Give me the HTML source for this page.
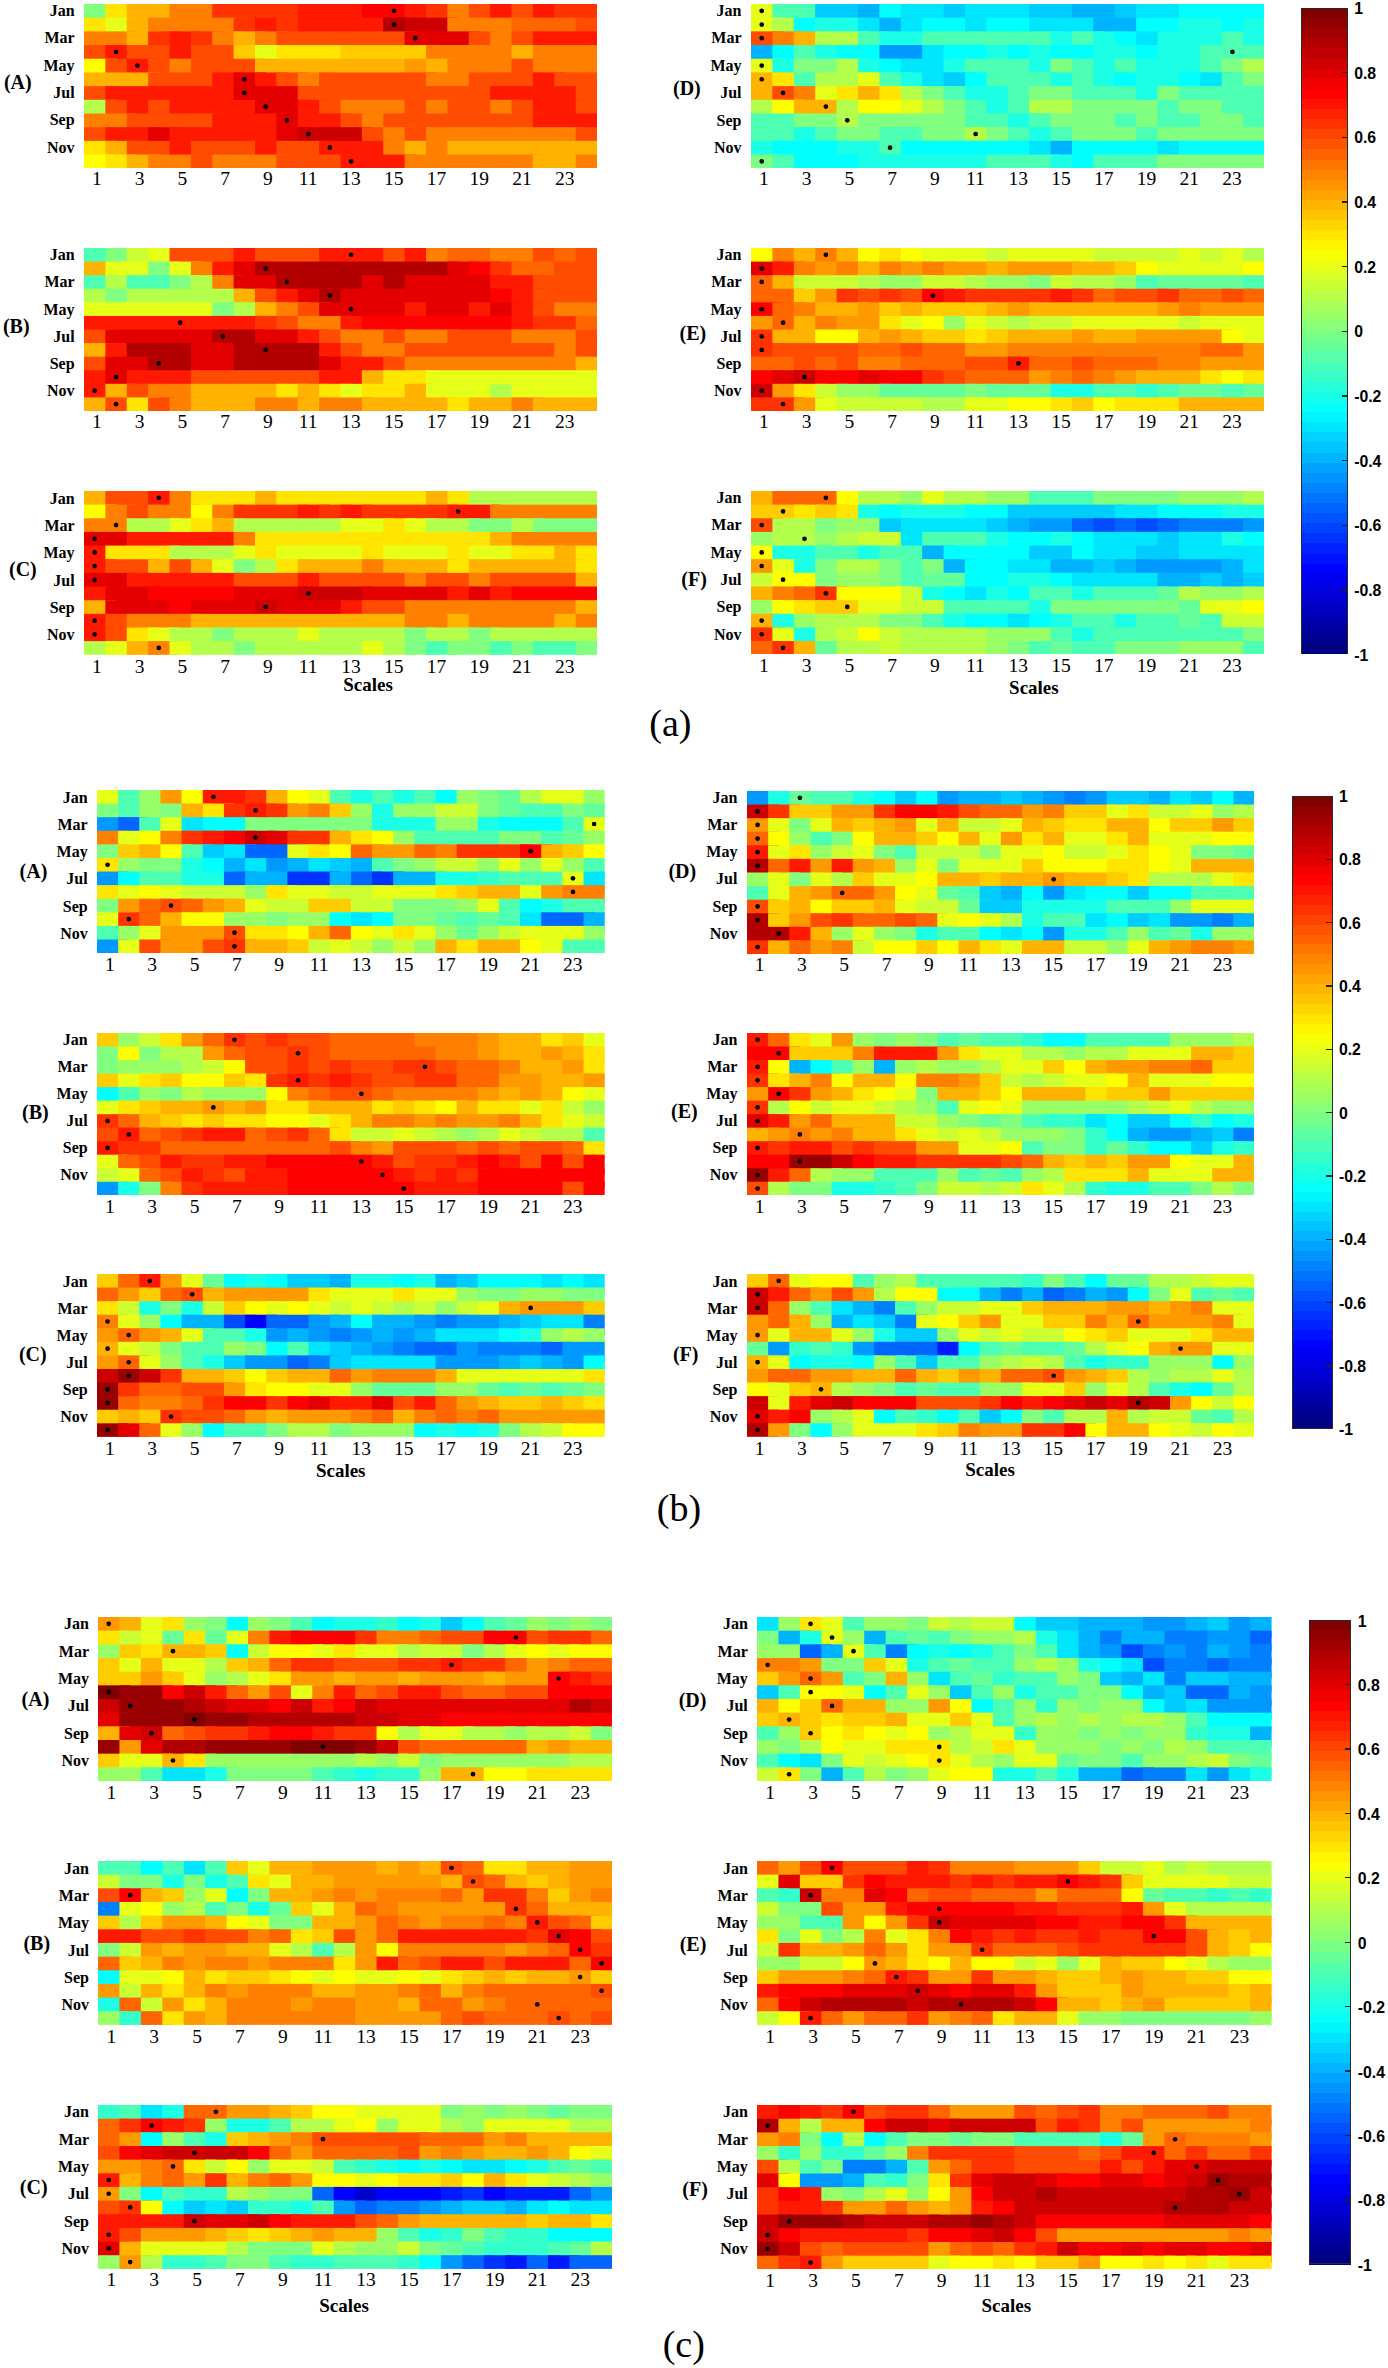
<!DOCTYPE html><html><head><meta charset="utf-8"><title>Heatmaps</title><style>
html,body{margin:0;padding:0;background:#fff;}
body{width:1388px;height:2368px;position:relative;overflow:hidden;}
.hm{position:absolute;display:block;}
.t{position:absolute;font-family:"Liberation Serif",serif;color:#000;white-space:nowrap;line-height:1;}
.mb{font-weight:bold;font-size:16px;}
.pl{font-weight:bold;font-size:20px;}
.tk{font-size:19.5px;}
.sc{font-weight:bold;font-size:19px;}
.big{font-size:38px;}
.cb{position:absolute;font-family:"Liberation Sans",sans-serif;font-weight:bold;font-size:15.8px;line-height:1;color:#000;white-space:nowrap;}
.v0{fill:#000080}.v1{fill:#000099}.v2{fill:#0000b2}.v3{fill:#0000cc}.v4{fill:#0000e5}.v5{fill:#0000ff}.v6{fill:#001aff}.v7{fill:#0033ff}.v8{fill:#004dff}.v9{fill:#0066ff}.v10{fill:#0080ff}.v11{fill:#0099ff}.v12{fill:#00b3ff}.v13{fill:#00ccff}.v14{fill:#00e6ff}.v15{fill:#00ffff}.v16{fill:#1affe5}.v17{fill:#33ffcc}.v18{fill:#4dffb2}.v19{fill:#66ff99}.v20{fill:#80ff80}.v21{fill:#99ff66}.v22{fill:#b3ff4c}.v23{fill:#ccff33}.v24{fill:#e6ff19}.v25{fill:#ffff00}.v26{fill:#ffe500}.v27{fill:#ffcc00}.v28{fill:#ffb200}.v29{fill:#ff9900}.v30{fill:#ff8000}.v31{fill:#ff6600}.v32{fill:#ff4c00}.v33{fill:#ff3300}.v34{fill:#ff1900}.v35{fill:#ff0000}.v36{fill:#e50000}.v37{fill:#cc0000}.v38{fill:#b20000}.v39{fill:#990000}.v40{fill:#800000}</style></head><body>
<svg class="hm" style="left:83.80px;top:3.50px;width:513.00px;height:164.25px" viewBox="0 0 24 12" preserveAspectRatio="none"><rect x="0" y="0" width="1.5" height="1.5" class="v20"/><rect x="1" y="0" width="1.5" height="1.5" class="v26"/><rect x="2" y="0" width="2.5" height="1.5" class="v28"/><rect x="4" y="0" width="2.5" height="1.5" class="v30"/><rect x="6" y="0" width="4.5" height="1.5" class="v33"/><rect x="10" y="0" width="3.5" height="1.5" class="v34"/><rect x="13" y="0" width="2.5" height="1.5" class="v35"/><rect x="15" y="0" width="1.5" height="1.5" class="v34"/><rect x="16" y="0" width="1.5" height="1.5" class="v33"/><rect x="17" y="0" width="1.5" height="1.5" class="v30"/><rect x="18" y="0" width="1.5" height="1.5" class="v32"/><rect x="19" y="0" width="1.5" height="1.5" class="v34"/><rect x="20" y="0" width="1.5" height="1.5" class="v32"/><rect x="21" y="0" width="1.5" height="1.5" class="v34"/><rect x="22" y="0" width="2" height="1.5" class="v33"/><rect x="0" y="1" width="1.5" height="1.5" class="v26"/><rect x="1" y="1" width="1.5" height="1.5" class="v24"/><rect x="2" y="1" width="1.5" height="1.5" class="v28"/><rect x="3" y="1" width="4.5" height="1.5" class="v30"/><rect x="7" y="1" width="1.5" height="1.5" class="v33"/><rect x="8" y="1" width="1.5" height="1.5" class="v34"/><rect x="9" y="1" width="1.5" height="1.5" class="v33"/><rect x="10" y="1" width="4.5" height="1.5" class="v34"/><rect x="14" y="1" width="1.5" height="1.5" class="v38"/><rect x="15" y="1" width="2.5" height="1.5" class="v37"/><rect x="17" y="1" width="3.5" height="1.5" class="v30"/><rect x="20" y="1" width="3.5" height="1.5" class="v31"/><rect x="23" y="1" width="1" height="1.5" class="v32"/><rect x="0" y="2" width="2.5" height="1.5" class="v30"/><rect x="2" y="2" width="1.5" height="1.5" class="v28"/><rect x="3" y="2" width="1.5" height="1.5" class="v33"/><rect x="4" y="2" width="1.5" height="1.5" class="v34"/><rect x="5" y="2" width="1.5" height="1.5" class="v33"/><rect x="6" y="2" width="1.5" height="1.5" class="v30"/><rect x="7" y="2" width="1.5" height="1.5" class="v28"/><rect x="8" y="2" width="1.5" height="1.5" class="v30"/><rect x="9" y="2" width="6.5" height="1.5" class="v32"/><rect x="15" y="2" width="3.5" height="1.5" class="v36"/><rect x="18" y="2" width="1.5" height="1.5" class="v32"/><rect x="19" y="2" width="1.5" height="1.5" class="v30"/><rect x="20" y="2" width="1.5" height="1.5" class="v32"/><rect x="21" y="2" width="3" height="1.5" class="v34"/><rect x="0" y="3" width="1.5" height="1.5" class="v32"/><rect x="1" y="3" width="1.5" height="1.5" class="v34"/><rect x="2" y="3" width="2.5" height="1.5" class="v32"/><rect x="4" y="3" width="1.5" height="1.5" class="v34"/><rect x="5" y="3" width="2.5" height="1.5" class="v32"/><rect x="7" y="3" width="1.5" height="1.5" class="v27"/><rect x="8" y="3" width="1.5" height="1.5" class="v24"/><rect x="9" y="3" width="3.5" height="1.5" class="v26"/><rect x="12" y="3" width="4.5" height="1.5" class="v27"/><rect x="16" y="3" width="4.5" height="1.5" class="v30"/><rect x="20" y="3" width="1.5" height="1.5" class="v28"/><rect x="21" y="3" width="3" height="1.5" class="v30"/><rect x="0" y="4" width="1.5" height="1.5" class="v25"/><rect x="1" y="4" width="1.5" height="1.5" class="v32"/><rect x="2" y="4" width="1.5" height="1.5" class="v34"/><rect x="3" y="4" width="1.5" height="1.5" class="v32"/><rect x="4" y="4" width="1.5" height="1.5" class="v30"/><rect x="5" y="4" width="3.5" height="1.5" class="v32"/><rect x="8" y="4" width="7.5" height="1.5" class="v28"/><rect x="15" y="4" width="1.5" height="1.5" class="v29"/><rect x="16" y="4" width="1.5" height="1.5" class="v28"/><rect x="17" y="4" width="3.5" height="1.5" class="v30"/><rect x="20" y="4" width="1.5" height="1.5" class="v32"/><rect x="21" y="4" width="3" height="1.5" class="v30"/><rect x="0" y="5" width="3.5" height="1.5" class="v28"/><rect x="3" y="5" width="3.5" height="1.5" class="v32"/><rect x="6" y="5" width="1.5" height="1.5" class="v34"/><rect x="7" y="5" width="1.5" height="1.5" class="v36"/><rect x="8" y="5" width="1.5" height="1.5" class="v34"/><rect x="9" y="5" width="1.5" height="1.5" class="v32"/><rect x="10" y="5" width="1.5" height="1.5" class="v30"/><rect x="11" y="5" width="5.5" height="1.5" class="v32"/><rect x="16" y="5" width="2.5" height="1.5" class="v30"/><rect x="18" y="5" width="3.5" height="1.5" class="v32"/><rect x="21" y="5" width="1.5" height="1.5" class="v34"/><rect x="22" y="5" width="2" height="1.5" class="v32"/><rect x="0" y="6" width="1.5" height="1.5" class="v32"/><rect x="1" y="6" width="6.5" height="1.5" class="v34"/><rect x="7" y="6" width="3.5" height="1.5" class="v36"/><rect x="10" y="6" width="9.5" height="1.5" class="v32"/><rect x="19" y="6" width="4.5" height="1.5" class="v34"/><rect x="23" y="6" width="1" height="1.5" class="v32"/><rect x="0" y="7" width="1.5" height="1.5" class="v22"/><rect x="1" y="7" width="1.5" height="1.5" class="v32"/><rect x="2" y="7" width="1.5" height="1.5" class="v34"/><rect x="3" y="7" width="1.5" height="1.5" class="v32"/><rect x="4" y="7" width="4.5" height="1.5" class="v34"/><rect x="8" y="7" width="2.5" height="1.5" class="v36"/><rect x="10" y="7" width="1.5" height="1.5" class="v34"/><rect x="11" y="7" width="1.5" height="1.5" class="v32"/><rect x="12" y="7" width="3.5" height="1.5" class="v30"/><rect x="15" y="7" width="1.5" height="1.5" class="v32"/><rect x="16" y="7" width="1.5" height="1.5" class="v30"/><rect x="17" y="7" width="2.5" height="1.5" class="v32"/><rect x="19" y="7" width="1.5" height="1.5" class="v30"/><rect x="20" y="7" width="1.5" height="1.5" class="v32"/><rect x="21" y="7" width="2.5" height="1.5" class="v34"/><rect x="23" y="7" width="1" height="1.5" class="v32"/><rect x="0" y="8" width="2.5" height="1.5" class="v30"/><rect x="2" y="8" width="4.5" height="1.5" class="v32"/><rect x="6" y="8" width="3.5" height="1.5" class="v34"/><rect x="9" y="8" width="1.5" height="1.5" class="v36"/><rect x="10" y="8" width="2.5" height="1.5" class="v34"/><rect x="12" y="8" width="1.5" height="1.5" class="v32"/><rect x="13" y="8" width="1.5" height="1.5" class="v30"/><rect x="14" y="8" width="7.5" height="1.5" class="v32"/><rect x="21" y="8" width="3" height="1.5" class="v34"/><rect x="0" y="9" width="1.5" height="1.5" class="v32"/><rect x="1" y="9" width="2.5" height="1.5" class="v34"/><rect x="3" y="9" width="1.5" height="1.5" class="v36"/><rect x="4" y="9" width="5.5" height="1.5" class="v34"/><rect x="9" y="9" width="1.5" height="1.5" class="v36"/><rect x="10" y="9" width="3.5" height="1.5" class="v37"/><rect x="13" y="9" width="1.5" height="1.5" class="v32"/><rect x="14" y="9" width="1.5" height="1.5" class="v30"/><rect x="15" y="9" width="1.5" height="1.5" class="v32"/><rect x="16" y="9" width="7.5" height="1.5" class="v30"/><rect x="23" y="9" width="1" height="1.5" class="v32"/><rect x="0" y="10" width="1.5" height="1.5" class="v26"/><rect x="1" y="10" width="1.5" height="1.5" class="v28"/><rect x="2" y="10" width="2.5" height="1.5" class="v32"/><rect x="4" y="10" width="1.5" height="1.5" class="v34"/><rect x="5" y="10" width="3.5" height="1.5" class="v32"/><rect x="8" y="10" width="1.5" height="1.5" class="v34"/><rect x="9" y="10" width="2.5" height="1.5" class="v32"/><rect x="11" y="10" width="3.5" height="1.5" class="v34"/><rect x="14" y="10" width="1.5" height="1.5" class="v30"/><rect x="15" y="10" width="1.5" height="1.5" class="v28"/><rect x="16" y="10" width="1.5" height="1.5" class="v30"/><rect x="17" y="10" width="7" height="1.5" class="v28"/><rect x="0" y="11" width="1.5" height="1" class="v25"/><rect x="1" y="11" width="1.5" height="1" class="v26"/><rect x="2" y="11" width="1.5" height="1" class="v28"/><rect x="3" y="11" width="2.5" height="1" class="v30"/><rect x="5" y="11" width="1.5" height="1" class="v32"/><rect x="6" y="11" width="3.5" height="1" class="v30"/><rect x="9" y="11" width="3.5" height="1" class="v32"/><rect x="12" y="11" width="3.5" height="1" class="v34"/><rect x="15" y="11" width="6.5" height="1" class="v30"/><rect x="21" y="11" width="2.5" height="1" class="v28"/><rect x="23" y="11" width="1" height="1" class="v30"/><ellipse cx="14.500" cy="0.500" rx="0.110" ry="0.172" fill="#000" shape-rendering="auto"/><ellipse cx="14.500" cy="1.500" rx="0.110" ry="0.172" fill="#000" shape-rendering="auto"/><ellipse cx="15.500" cy="2.500" rx="0.110" ry="0.172" fill="#000" shape-rendering="auto"/><ellipse cx="1.500" cy="3.500" rx="0.110" ry="0.172" fill="#000" shape-rendering="auto"/><ellipse cx="2.500" cy="4.500" rx="0.110" ry="0.172" fill="#000" shape-rendering="auto"/><ellipse cx="7.500" cy="5.500" rx="0.110" ry="0.172" fill="#000" shape-rendering="auto"/><ellipse cx="7.500" cy="6.500" rx="0.110" ry="0.172" fill="#000" shape-rendering="auto"/><ellipse cx="8.500" cy="7.500" rx="0.110" ry="0.172" fill="#000" shape-rendering="auto"/><ellipse cx="9.500" cy="8.500" rx="0.110" ry="0.172" fill="#000" shape-rendering="auto"/><ellipse cx="10.500" cy="9.500" rx="0.110" ry="0.172" fill="#000" shape-rendering="auto"/><ellipse cx="11.500" cy="10.500" rx="0.110" ry="0.172" fill="#000" shape-rendering="auto"/><ellipse cx="12.500" cy="11.500" rx="0.110" ry="0.172" fill="#000" shape-rendering="auto"/></svg>
<div class="t mb" style="right:1313.40px;top:2.94px">Jan</div>
<div class="t mb" style="right:1313.40px;top:30.32px">Mar</div>
<div class="t mb" style="right:1313.40px;top:57.69px">May</div>
<div class="t mb" style="right:1313.40px;top:85.07px">Jul</div>
<div class="t mb" style="right:1313.40px;top:112.44px">Sep</div>
<div class="t mb" style="right:1313.40px;top:139.82px">Nov</div>
<div class="t pl" style="left:3.90px;top:72.40px">(A)</div>
<div class="t tk" style="left:94.49px;top:169.32px;width:40px;margin-left:-20px;text-align:center">&#160;1</div>
<div class="t tk" style="left:137.24px;top:169.32px;width:40px;margin-left:-20px;text-align:center">&#160;3</div>
<div class="t tk" style="left:179.99px;top:169.32px;width:40px;margin-left:-20px;text-align:center">&#160;5</div>
<div class="t tk" style="left:222.74px;top:169.32px;width:40px;margin-left:-20px;text-align:center">&#160;7</div>
<div class="t tk" style="left:265.49px;top:169.32px;width:40px;margin-left:-20px;text-align:center">&#160;9</div>
<div class="t tk" style="left:308.24px;top:169.32px;width:40px;margin-left:-20px;text-align:center">11</div>
<div class="t tk" style="left:350.99px;top:169.32px;width:40px;margin-left:-20px;text-align:center">13</div>
<div class="t tk" style="left:393.74px;top:169.32px;width:40px;margin-left:-20px;text-align:center">15</div>
<div class="t tk" style="left:436.49px;top:169.32px;width:40px;margin-left:-20px;text-align:center">17</div>
<div class="t tk" style="left:479.24px;top:169.32px;width:40px;margin-left:-20px;text-align:center">19</div>
<div class="t tk" style="left:521.99px;top:169.32px;width:40px;margin-left:-20px;text-align:center">21</div>
<div class="t tk" style="left:564.74px;top:169.32px;width:40px;margin-left:-20px;text-align:center">23</div>
<svg class="hm" style="left:83.80px;top:247.90px;width:513.00px;height:163.00px" viewBox="0 0 24 12" preserveAspectRatio="none"><rect x="0" y="0" width="1.5" height="1.5" class="v18"/><rect x="1" y="0" width="1.5" height="1.5" class="v20"/><rect x="2" y="0" width="1.5" height="1.5" class="v23"/><rect x="3" y="0" width="1.5" height="1.5" class="v24"/><rect x="4" y="0" width="3.5" height="1.5" class="v32"/><rect x="7" y="0" width="1.5" height="1.5" class="v34"/><rect x="8" y="0" width="3.5" height="1.5" class="v32"/><rect x="11" y="0" width="3.5" height="1.5" class="v34"/><rect x="14" y="0" width="1.5" height="1.5" class="v32"/><rect x="15" y="0" width="1.5" height="1.5" class="v34"/><rect x="16" y="0" width="1.5" height="1.5" class="v30"/><rect x="17" y="0" width="2.5" height="1.5" class="v31"/><rect x="19" y="0" width="2.5" height="1.5" class="v30"/><rect x="21" y="0" width="1.5" height="1.5" class="v32"/><rect x="22" y="0" width="1.5" height="1.5" class="v31"/><rect x="23" y="0" width="1" height="1.5" class="v32"/><rect x="0" y="1" width="1.5" height="1.5" class="v28"/><rect x="1" y="1" width="2.5" height="1.5" class="v24"/><rect x="3" y="1" width="1.5" height="1.5" class="v20"/><rect x="4" y="1" width="1.5" height="1.5" class="v24"/><rect x="5" y="1" width="1.5" height="1.5" class="v30"/><rect x="6" y="1" width="1.5" height="1.5" class="v34"/><rect x="7" y="1" width="1.5" height="1.5" class="v36"/><rect x="8" y="1" width="9.5" height="1.5" class="v38"/><rect x="17" y="1" width="1.5" height="1.5" class="v36"/><rect x="18" y="1" width="1.5" height="1.5" class="v35"/><rect x="19" y="1" width="1.5" height="1.5" class="v33"/><rect x="20" y="1" width="2.5" height="1.5" class="v31"/><rect x="22" y="1" width="2" height="1.5" class="v32"/><rect x="0" y="2" width="1.5" height="1.5" class="v18"/><rect x="1" y="2" width="1.5" height="1.5" class="v22"/><rect x="2" y="2" width="2.5" height="1.5" class="v18"/><rect x="4" y="2" width="1.5" height="1.5" class="v20"/><rect x="5" y="2" width="1.5" height="1.5" class="v22"/><rect x="6" y="2" width="1.5" height="1.5" class="v30"/><rect x="7" y="2" width="2.5" height="1.5" class="v36"/><rect x="9" y="2" width="4.5" height="1.5" class="v38"/><rect x="13" y="2" width="1.5" height="1.5" class="v36"/><rect x="14" y="2" width="1.5" height="1.5" class="v38"/><rect x="15" y="2" width="4.5" height="1.5" class="v36"/><rect x="19" y="2" width="2.5" height="1.5" class="v34"/><rect x="21" y="2" width="3" height="1.5" class="v32"/><rect x="0" y="3" width="1.5" height="1.5" class="v22"/><rect x="1" y="3" width="1.5" height="1.5" class="v20"/><rect x="2" y="3" width="5.5" height="1.5" class="v22"/><rect x="7" y="3" width="1.5" height="1.5" class="v28"/><rect x="8" y="3" width="1.5" height="1.5" class="v32"/><rect x="9" y="3" width="1.5" height="1.5" class="v34"/><rect x="10" y="3" width="1.5" height="1.5" class="v36"/><rect x="11" y="3" width="1.5" height="1.5" class="v38"/><rect x="12" y="3" width="7.5" height="1.5" class="v36"/><rect x="19" y="3" width="1.5" height="1.5" class="v35"/><rect x="20" y="3" width="1.5" height="1.5" class="v34"/><rect x="21" y="3" width="3" height="1.5" class="v32"/><rect x="0" y="4" width="6.5" height="1.5" class="v24"/><rect x="6" y="4" width="1.5" height="1.5" class="v20"/><rect x="7" y="4" width="1.5" height="1.5" class="v22"/><rect x="8" y="4" width="1.5" height="1.5" class="v28"/><rect x="9" y="4" width="1.5" height="1.5" class="v30"/><rect x="10" y="4" width="1.5" height="1.5" class="v32"/><rect x="11" y="4" width="4.5" height="1.5" class="v36"/><rect x="15" y="4" width="1.5" height="1.5" class="v34"/><rect x="16" y="4" width="2.5" height="1.5" class="v36"/><rect x="18" y="4" width="1.5" height="1.5" class="v34"/><rect x="19" y="4" width="1.5" height="1.5" class="v36"/><rect x="20" y="4" width="1.5" height="1.5" class="v34"/><rect x="21" y="4" width="1.5" height="1.5" class="v32"/><rect x="22" y="4" width="2" height="1.5" class="v30"/><rect x="0" y="5" width="8.5" height="1.5" class="v34"/><rect x="8" y="5" width="1.5" height="1.5" class="v33"/><rect x="9" y="5" width="1.5" height="1.5" class="v32"/><rect x="10" y="5" width="2.5" height="1.5" class="v30"/><rect x="12" y="5" width="1.5" height="1.5" class="v34"/><rect x="13" y="5" width="7.5" height="1.5" class="v35"/><rect x="20" y="5" width="1.5" height="1.5" class="v34"/><rect x="21" y="5" width="2.5" height="1.5" class="v33"/><rect x="23" y="5" width="1" height="1.5" class="v31"/><rect x="0" y="6" width="1.5" height="1.5" class="v32"/><rect x="1" y="6" width="5.5" height="1.5" class="v36"/><rect x="6" y="6" width="2.5" height="1.5" class="v38"/><rect x="8" y="6" width="2.5" height="1.5" class="v36"/><rect x="10" y="6" width="1.5" height="1.5" class="v34"/><rect x="11" y="6" width="1.5" height="1.5" class="v32"/><rect x="12" y="6" width="2.5" height="1.5" class="v30"/><rect x="14" y="6" width="1.5" height="1.5" class="v32"/><rect x="15" y="6" width="2.5" height="1.5" class="v30"/><rect x="17" y="6" width="3.5" height="1.5" class="v32"/><rect x="20" y="6" width="3.5" height="1.5" class="v30"/><rect x="23" y="6" width="1" height="1.5" class="v32"/><rect x="0" y="7" width="1.5" height="1.5" class="v28"/><rect x="1" y="7" width="1.5" height="1.5" class="v34"/><rect x="2" y="7" width="3.5" height="1.5" class="v38"/><rect x="5" y="7" width="2.5" height="1.5" class="v36"/><rect x="7" y="7" width="4.5" height="1.5" class="v38"/><rect x="11" y="7" width="1.5" height="1.5" class="v34"/><rect x="12" y="7" width="1.5" height="1.5" class="v32"/><rect x="13" y="7" width="2.5" height="1.5" class="v30"/><rect x="15" y="7" width="7.5" height="1.5" class="v32"/><rect x="22" y="7" width="1.5" height="1.5" class="v30"/><rect x="23" y="7" width="1" height="1.5" class="v32"/><rect x="0" y="8" width="1.5" height="1.5" class="v32"/><rect x="1" y="8" width="2.5" height="1.5" class="v36"/><rect x="3" y="8" width="2.5" height="1.5" class="v38"/><rect x="5" y="8" width="2.5" height="1.5" class="v36"/><rect x="7" y="8" width="4.5" height="1.5" class="v38"/><rect x="11" y="8" width="1.5" height="1.5" class="v36"/><rect x="12" y="8" width="2.5" height="1.5" class="v34"/><rect x="14" y="8" width="1.5" height="1.5" class="v32"/><rect x="15" y="8" width="8.5" height="1.5" class="v30"/><rect x="23" y="8" width="1" height="1.5" class="v28"/><rect x="0" y="9" width="1.5" height="1.5" class="v34"/><rect x="1" y="9" width="1.5" height="1.5" class="v36"/><rect x="2" y="9" width="3.5" height="1.5" class="v34"/><rect x="5" y="9" width="6.5" height="1.5" class="v32"/><rect x="11" y="9" width="2.5" height="1.5" class="v34"/><rect x="13" y="9" width="1.5" height="1.5" class="v28"/><rect x="14" y="9" width="2.5" height="1.5" class="v26"/><rect x="16" y="9" width="8" height="1.5" class="v24"/><rect x="0" y="10" width="1.5" height="1.5" class="v34"/><rect x="1" y="10" width="1.5" height="1.5" class="v28"/><rect x="2" y="10" width="1.5" height="1.5" class="v32"/><rect x="3" y="10" width="2.5" height="1.5" class="v30"/><rect x="5" y="10" width="4.5" height="1.5" class="v28"/><rect x="9" y="10" width="1.5" height="1.5" class="v26"/><rect x="10" y="10" width="1.5" height="1.5" class="v28"/><rect x="11" y="10" width="1.5" height="1.5" class="v26"/><rect x="12" y="10" width="1.5" height="1.5" class="v24"/><rect x="13" y="10" width="2.5" height="1.5" class="v26"/><rect x="15" y="10" width="1.5" height="1.5" class="v28"/><rect x="16" y="10" width="3.5" height="1.5" class="v24"/><rect x="19" y="10" width="1.5" height="1.5" class="v22"/><rect x="20" y="10" width="4" height="1.5" class="v24"/><rect x="0" y="11" width="1.5" height="1" class="v28"/><rect x="1" y="11" width="1.5" height="1" class="v32"/><rect x="2" y="11" width="1.5" height="1" class="v26"/><rect x="3" y="11" width="1.5" height="1" class="v32"/><rect x="4" y="11" width="1.5" height="1" class="v30"/><rect x="5" y="11" width="3.5" height="1" class="v28"/><rect x="8" y="11" width="2.5" height="1" class="v30"/><rect x="10" y="11" width="1.5" height="1" class="v28"/><rect x="11" y="11" width="2.5" height="1" class="v30"/><rect x="13" y="11" width="4.5" height="1" class="v28"/><rect x="17" y="11" width="1.5" height="1" class="v26"/><rect x="18" y="11" width="2.5" height="1" class="v28"/><rect x="20" y="11" width="1.5" height="1" class="v30"/><rect x="21" y="11" width="3" height="1" class="v28"/><ellipse cx="12.500" cy="0.500" rx="0.110" ry="0.173" fill="#000" shape-rendering="auto"/><ellipse cx="8.500" cy="1.500" rx="0.110" ry="0.173" fill="#000" shape-rendering="auto"/><ellipse cx="9.500" cy="2.500" rx="0.110" ry="0.173" fill="#000" shape-rendering="auto"/><ellipse cx="11.500" cy="3.500" rx="0.110" ry="0.173" fill="#000" shape-rendering="auto"/><ellipse cx="12.500" cy="4.500" rx="0.110" ry="0.173" fill="#000" shape-rendering="auto"/><ellipse cx="4.500" cy="5.500" rx="0.110" ry="0.173" fill="#000" shape-rendering="auto"/><ellipse cx="6.500" cy="6.500" rx="0.110" ry="0.173" fill="#000" shape-rendering="auto"/><ellipse cx="8.500" cy="7.500" rx="0.110" ry="0.173" fill="#000" shape-rendering="auto"/><ellipse cx="3.500" cy="8.500" rx="0.110" ry="0.173" fill="#000" shape-rendering="auto"/><ellipse cx="1.500" cy="9.500" rx="0.110" ry="0.173" fill="#000" shape-rendering="auto"/><ellipse cx="0.500" cy="10.500" rx="0.110" ry="0.173" fill="#000" shape-rendering="auto"/><ellipse cx="1.500" cy="11.500" rx="0.110" ry="0.173" fill="#000" shape-rendering="auto"/></svg>
<div class="t mb" style="right:1313.40px;top:247.29px">Jan</div>
<div class="t mb" style="right:1313.40px;top:274.46px">Mar</div>
<div class="t mb" style="right:1313.40px;top:301.62px">May</div>
<div class="t mb" style="right:1313.40px;top:328.79px">Jul</div>
<div class="t mb" style="right:1313.40px;top:355.96px">Sep</div>
<div class="t mb" style="right:1313.40px;top:383.12px">Nov</div>
<div class="t pl" style="left:2.90px;top:316.20px">(B)</div>
<div class="t tk" style="left:94.49px;top:412.47px;width:40px;margin-left:-20px;text-align:center">&#160;1</div>
<div class="t tk" style="left:137.24px;top:412.47px;width:40px;margin-left:-20px;text-align:center">&#160;3</div>
<div class="t tk" style="left:179.99px;top:412.47px;width:40px;margin-left:-20px;text-align:center">&#160;5</div>
<div class="t tk" style="left:222.74px;top:412.47px;width:40px;margin-left:-20px;text-align:center">&#160;7</div>
<div class="t tk" style="left:265.49px;top:412.47px;width:40px;margin-left:-20px;text-align:center">&#160;9</div>
<div class="t tk" style="left:308.24px;top:412.47px;width:40px;margin-left:-20px;text-align:center">11</div>
<div class="t tk" style="left:350.99px;top:412.47px;width:40px;margin-left:-20px;text-align:center">13</div>
<div class="t tk" style="left:393.74px;top:412.47px;width:40px;margin-left:-20px;text-align:center">15</div>
<div class="t tk" style="left:436.49px;top:412.47px;width:40px;margin-left:-20px;text-align:center">17</div>
<div class="t tk" style="left:479.24px;top:412.47px;width:40px;margin-left:-20px;text-align:center">19</div>
<div class="t tk" style="left:521.99px;top:412.47px;width:40px;margin-left:-20px;text-align:center">21</div>
<div class="t tk" style="left:564.74px;top:412.47px;width:40px;margin-left:-20px;text-align:center">23</div>
<svg class="hm" style="left:83.80px;top:491.20px;width:513.00px;height:163.80px" viewBox="0 0 24 12" preserveAspectRatio="none"><rect x="0" y="0" width="1.5" height="1.5" class="v28"/><rect x="1" y="0" width="2.5" height="1.5" class="v32"/><rect x="3" y="0" width="1.5" height="1.5" class="v34"/><rect x="4" y="0" width="1.5" height="1.5" class="v30"/><rect x="5" y="0" width="3.5" height="1.5" class="v26"/><rect x="8" y="0" width="1.5" height="1.5" class="v28"/><rect x="9" y="0" width="7.5" height="1.5" class="v26"/><rect x="16" y="0" width="1.5" height="1.5" class="v28"/><rect x="17" y="0" width="1.5" height="1.5" class="v26"/><rect x="18" y="0" width="6" height="1.5" class="v22"/><rect x="0" y="1" width="1.5" height="1.5" class="v25"/><rect x="1" y="1" width="1.5" height="1.5" class="v30"/><rect x="2" y="1" width="1.5" height="1.5" class="v32"/><rect x="3" y="1" width="2.5" height="1.5" class="v30"/><rect x="5" y="1" width="1.5" height="1.5" class="v25"/><rect x="6" y="1" width="1.5" height="1.5" class="v30"/><rect x="7" y="1" width="3.5" height="1.5" class="v33"/><rect x="10" y="1" width="1.5" height="1.5" class="v34"/><rect x="11" y="1" width="1.5" height="1.5" class="v33"/><rect x="12" y="1" width="1.5" height="1.5" class="v34"/><rect x="13" y="1" width="4.5" height="1.5" class="v33"/><rect x="17" y="1" width="2.5" height="1.5" class="v34"/><rect x="19" y="1" width="5" height="1.5" class="v30"/><rect x="0" y="2" width="2.5" height="1.5" class="v30"/><rect x="2" y="2" width="2.5" height="1.5" class="v22"/><rect x="4" y="2" width="1.5" height="1.5" class="v24"/><rect x="5" y="2" width="1.5" height="1.5" class="v26"/><rect x="6" y="2" width="1.5" height="1.5" class="v28"/><rect x="7" y="2" width="5.5" height="1.5" class="v22"/><rect x="12" y="2" width="2.5" height="1.5" class="v24"/><rect x="14" y="2" width="1.5" height="1.5" class="v26"/><rect x="15" y="2" width="1.5" height="1.5" class="v24"/><rect x="16" y="2" width="2.5" height="1.5" class="v22"/><rect x="18" y="2" width="2.5" height="1.5" class="v20"/><rect x="20" y="2" width="1.5" height="1.5" class="v22"/><rect x="21" y="2" width="3" height="1.5" class="v20"/><rect x="0" y="3" width="2.5" height="1.5" class="v36"/><rect x="2" y="3" width="5.5" height="1.5" class="v34"/><rect x="7" y="3" width="1.5" height="1.5" class="v30"/><rect x="8" y="3" width="11.5" height="1.5" class="v26"/><rect x="19" y="3" width="1.5" height="1.5" class="v28"/><rect x="20" y="3" width="4" height="1.5" class="v30"/><rect x="0" y="4" width="1.5" height="1.5" class="v34"/><rect x="1" y="4" width="3.5" height="1.5" class="v26"/><rect x="4" y="4" width="3.5" height="1.5" class="v22"/><rect x="7" y="4" width="1.5" height="1.5" class="v24"/><rect x="8" y="4" width="1.5" height="1.5" class="v26"/><rect x="9" y="4" width="4.5" height="1.5" class="v24"/><rect x="13" y="4" width="1.5" height="1.5" class="v26"/><rect x="14" y="4" width="3.5" height="1.5" class="v24"/><rect x="17" y="4" width="1.5" height="1.5" class="v26"/><rect x="18" y="4" width="2.5" height="1.5" class="v24"/><rect x="20" y="4" width="2.5" height="1.5" class="v26"/><rect x="22" y="4" width="1.5" height="1.5" class="v28"/><rect x="23" y="4" width="1" height="1.5" class="v26"/><rect x="0" y="5" width="1.5" height="1.5" class="v34"/><rect x="1" y="5" width="2.5" height="1.5" class="v32"/><rect x="3" y="5" width="1.5" height="1.5" class="v28"/><rect x="4" y="5" width="1.5" height="1.5" class="v32"/><rect x="5" y="5" width="1.5" height="1.5" class="v28"/><rect x="6" y="5" width="1.5" height="1.5" class="v24"/><rect x="7" y="5" width="1.5" height="1.5" class="v20"/><rect x="8" y="5" width="1.5" height="1.5" class="v22"/><rect x="9" y="5" width="1.5" height="1.5" class="v26"/><rect x="10" y="5" width="3.5" height="1.5" class="v28"/><rect x="13" y="5" width="1.5" height="1.5" class="v30"/><rect x="14" y="5" width="3.5" height="1.5" class="v28"/><rect x="17" y="5" width="1.5" height="1.5" class="v26"/><rect x="18" y="5" width="5.5" height="1.5" class="v28"/><rect x="23" y="5" width="1" height="1.5" class="v26"/><rect x="0" y="6" width="2.5" height="1.5" class="v36"/><rect x="2" y="6" width="5.5" height="1.5" class="v34"/><rect x="7" y="6" width="3.5" height="1.5" class="v32"/><rect x="10" y="6" width="1.5" height="1.5" class="v34"/><rect x="11" y="6" width="4.5" height="1.5" class="v32"/><rect x="15" y="6" width="1.5" height="1.5" class="v30"/><rect x="16" y="6" width="2.5" height="1.5" class="v32"/><rect x="18" y="6" width="1.5" height="1.5" class="v30"/><rect x="19" y="6" width="4.5" height="1.5" class="v32"/><rect x="23" y="6" width="1" height="1.5" class="v28"/><rect x="0" y="7" width="1.5" height="1.5" class="v34"/><rect x="1" y="7" width="2.5" height="1.5" class="v36"/><rect x="3" y="7" width="4.5" height="1.5" class="v35"/><rect x="7" y="7" width="3.5" height="1.5" class="v36"/><rect x="10" y="7" width="3.5" height="1.5" class="v37"/><rect x="13" y="7" width="4.5" height="1.5" class="v36"/><rect x="17" y="7" width="1.5" height="1.5" class="v34"/><rect x="18" y="7" width="1.5" height="1.5" class="v36"/><rect x="19" y="7" width="1.5" height="1.5" class="v34"/><rect x="20" y="7" width="4" height="1.5" class="v35"/><rect x="0" y="8" width="1.5" height="1.5" class="v28"/><rect x="1" y="8" width="3.5" height="1.5" class="v36"/><rect x="4" y="8" width="1.5" height="1.5" class="v35"/><rect x="5" y="8" width="3.5" height="1.5" class="v36"/><rect x="8" y="8" width="1.5" height="1.5" class="v37"/><rect x="9" y="8" width="3.5" height="1.5" class="v36"/><rect x="12" y="8" width="1.5" height="1.5" class="v34"/><rect x="13" y="8" width="2.5" height="1.5" class="v32"/><rect x="15" y="8" width="8.5" height="1.5" class="v30"/><rect x="23" y="8" width="1" height="1.5" class="v28"/><rect x="0" y="9" width="1.5" height="1.5" class="v34"/><rect x="1" y="9" width="1.5" height="1.5" class="v32"/><rect x="2" y="9" width="3.5" height="1.5" class="v30"/><rect x="5" y="9" width="10.5" height="1.5" class="v28"/><rect x="15" y="9" width="2.5" height="1.5" class="v30"/><rect x="17" y="9" width="1.5" height="1.5" class="v28"/><rect x="18" y="9" width="4.5" height="1.5" class="v30"/><rect x="22" y="9" width="1.5" height="1.5" class="v28"/><rect x="23" y="9" width="1" height="1.5" class="v30"/><rect x="0" y="10" width="1.5" height="1.5" class="v34"/><rect x="1" y="10" width="1.5" height="1.5" class="v32"/><rect x="2" y="10" width="1.5" height="1.5" class="v26"/><rect x="3" y="10" width="1.5" height="1.5" class="v24"/><rect x="4" y="10" width="2.5" height="1.5" class="v22"/><rect x="6" y="10" width="1.5" height="1.5" class="v20"/><rect x="7" y="10" width="3.5" height="1.5" class="v22"/><rect x="10" y="10" width="1.5" height="1.5" class="v24"/><rect x="11" y="10" width="4.5" height="1.5" class="v22"/><rect x="15" y="10" width="1.5" height="1.5" class="v20"/><rect x="16" y="10" width="2.5" height="1.5" class="v22"/><rect x="18" y="10" width="1.5" height="1.5" class="v20"/><rect x="19" y="10" width="5" height="1.5" class="v22"/><rect x="0" y="11" width="1.5" height="1" class="v22"/><rect x="1" y="11" width="1.5" height="1" class="v24"/><rect x="2" y="11" width="1.5" height="1" class="v28"/><rect x="3" y="11" width="1.5" height="1" class="v30"/><rect x="4" y="11" width="1.5" height="1" class="v24"/><rect x="5" y="11" width="2.5" height="1" class="v22"/><rect x="7" y="11" width="1.5" height="1" class="v20"/><rect x="8" y="11" width="5.5" height="1" class="v22"/><rect x="13" y="11" width="1.5" height="1" class="v24"/><rect x="14" y="11" width="1.5" height="1" class="v22"/><rect x="15" y="11" width="1.5" height="1" class="v20"/><rect x="16" y="11" width="1.5" height="1" class="v18"/><rect x="17" y="11" width="2.5" height="1" class="v20"/><rect x="19" y="11" width="1.5" height="1" class="v18"/><rect x="20" y="11" width="1.5" height="1" class="v20"/><rect x="21" y="11" width="2.5" height="1" class="v18"/><rect x="23" y="11" width="1" height="1" class="v20"/><ellipse cx="3.500" cy="0.500" rx="0.110" ry="0.172" fill="#000" shape-rendering="auto"/><ellipse cx="17.500" cy="1.500" rx="0.110" ry="0.172" fill="#000" shape-rendering="auto"/><ellipse cx="1.500" cy="2.500" rx="0.110" ry="0.172" fill="#000" shape-rendering="auto"/><ellipse cx="0.500" cy="3.500" rx="0.110" ry="0.172" fill="#000" shape-rendering="auto"/><ellipse cx="0.500" cy="4.500" rx="0.110" ry="0.172" fill="#000" shape-rendering="auto"/><ellipse cx="0.500" cy="5.500" rx="0.110" ry="0.172" fill="#000" shape-rendering="auto"/><ellipse cx="0.500" cy="6.500" rx="0.110" ry="0.172" fill="#000" shape-rendering="auto"/><ellipse cx="10.500" cy="7.500" rx="0.110" ry="0.172" fill="#000" shape-rendering="auto"/><ellipse cx="8.500" cy="8.500" rx="0.110" ry="0.172" fill="#000" shape-rendering="auto"/><ellipse cx="0.500" cy="9.500" rx="0.110" ry="0.172" fill="#000" shape-rendering="auto"/><ellipse cx="0.500" cy="10.500" rx="0.110" ry="0.172" fill="#000" shape-rendering="auto"/><ellipse cx="3.500" cy="11.500" rx="0.110" ry="0.172" fill="#000" shape-rendering="auto"/></svg>
<div class="t mb" style="right:1313.40px;top:490.62px">Jan</div>
<div class="t mb" style="right:1313.40px;top:517.93px">Mar</div>
<div class="t mb" style="right:1313.40px;top:545.23px">May</div>
<div class="t mb" style="right:1313.40px;top:572.52px">Jul</div>
<div class="t mb" style="right:1313.40px;top:599.83px">Sep</div>
<div class="t mb" style="right:1313.40px;top:627.12px">Nov</div>
<div class="t pl" style="left:9.00px;top:559.00px">(C)</div>
<div class="t tk" style="left:94.49px;top:656.57px;width:40px;margin-left:-20px;text-align:center">&#160;1</div>
<div class="t tk" style="left:137.24px;top:656.57px;width:40px;margin-left:-20px;text-align:center">&#160;3</div>
<div class="t tk" style="left:179.99px;top:656.57px;width:40px;margin-left:-20px;text-align:center">&#160;5</div>
<div class="t tk" style="left:222.74px;top:656.57px;width:40px;margin-left:-20px;text-align:center">&#160;7</div>
<div class="t tk" style="left:265.49px;top:656.57px;width:40px;margin-left:-20px;text-align:center">&#160;9</div>
<div class="t tk" style="left:308.24px;top:656.57px;width:40px;margin-left:-20px;text-align:center">11</div>
<div class="t tk" style="left:350.99px;top:656.57px;width:40px;margin-left:-20px;text-align:center">13</div>
<div class="t tk" style="left:393.74px;top:656.57px;width:40px;margin-left:-20px;text-align:center">15</div>
<div class="t tk" style="left:436.49px;top:656.57px;width:40px;margin-left:-20px;text-align:center">17</div>
<div class="t tk" style="left:479.24px;top:656.57px;width:40px;margin-left:-20px;text-align:center">19</div>
<div class="t tk" style="left:521.99px;top:656.57px;width:40px;margin-left:-20px;text-align:center">21</div>
<div class="t tk" style="left:564.74px;top:656.57px;width:40px;margin-left:-20px;text-align:center">23</div>
<div class="t sc" style="left:368.10px;top:674.89px;width:100px;margin-left:-50px;text-align:center">Scales</div>
<svg class="hm" style="left:750.70px;top:3.60px;width:513.50px;height:164.20px" viewBox="0 0 24 12" preserveAspectRatio="none"><rect x="0" y="0" width="1.5" height="1.5" class="v24"/><rect x="1" y="0" width="2.5" height="1.5" class="v18"/><rect x="3" y="0" width="2.5" height="1.5" class="v13"/><rect x="5" y="0" width="1.5" height="1.5" class="v12"/><rect x="6" y="0" width="1.5" height="1.5" class="v15"/><rect x="7" y="0" width="2.5" height="1.5" class="v14"/><rect x="9" y="0" width="1.5" height="1.5" class="v13"/><rect x="10" y="0" width="3.5" height="1.5" class="v14"/><rect x="13" y="0" width="2.5" height="1.5" class="v13"/><rect x="15" y="0" width="2.5" height="1.5" class="v12"/><rect x="17" y="0" width="1.5" height="1.5" class="v13"/><rect x="18" y="0" width="2.5" height="1.5" class="v14"/><rect x="20" y="0" width="4" height="1.5" class="v15"/><rect x="0" y="1" width="1.5" height="1.5" class="v24"/><rect x="1" y="1" width="1.5" height="1.5" class="v22"/><rect x="2" y="1" width="1.5" height="1.5" class="v15"/><rect x="3" y="1" width="2.5" height="1.5" class="v16"/><rect x="5" y="1" width="1.5" height="1.5" class="v14"/><rect x="6" y="1" width="1.5" height="1.5" class="v12"/><rect x="7" y="1" width="1.5" height="1.5" class="v14"/><rect x="8" y="1" width="2.5" height="1.5" class="v15"/><rect x="10" y="1" width="1.5" height="1.5" class="v14"/><rect x="11" y="1" width="2.5" height="1.5" class="v15"/><rect x="13" y="1" width="3.5" height="1.5" class="v14"/><rect x="16" y="1" width="2.5" height="1.5" class="v12"/><rect x="18" y="1" width="2.5" height="1.5" class="v15"/><rect x="20" y="1" width="2.5" height="1.5" class="v16"/><rect x="22" y="1" width="1.5" height="1.5" class="v15"/><rect x="23" y="1" width="1" height="1.5" class="v16"/><rect x="0" y="2" width="1.5" height="1.5" class="v32"/><rect x="1" y="2" width="1.5" height="1.5" class="v30"/><rect x="2" y="2" width="1.5" height="1.5" class="v28"/><rect x="3" y="2" width="2.5" height="1.5" class="v22"/><rect x="5" y="2" width="1.5" height="1.5" class="v18"/><rect x="6" y="2" width="2.5" height="1.5" class="v16"/><rect x="8" y="2" width="6.5" height="1.5" class="v18"/><rect x="14" y="2" width="1.5" height="1.5" class="v16"/><rect x="15" y="2" width="1.5" height="1.5" class="v18"/><rect x="16" y="2" width="1.5" height="1.5" class="v16"/><rect x="17" y="2" width="1.5" height="1.5" class="v15"/><rect x="18" y="2" width="1.5" height="1.5" class="v14"/><rect x="19" y="2" width="3.5" height="1.5" class="v16"/><rect x="22" y="2" width="1.5" height="1.5" class="v18"/><rect x="23" y="2" width="1" height="1.5" class="v16"/><rect x="0" y="3" width="1.5" height="1.5" class="v12"/><rect x="1" y="3" width="1.5" height="1.5" class="v15"/><rect x="2" y="3" width="1.5" height="1.5" class="v18"/><rect x="3" y="3" width="1.5" height="1.5" class="v16"/><rect x="4" y="3" width="2.5" height="1.5" class="v15"/><rect x="6" y="3" width="2.5" height="1.5" class="v11"/><rect x="8" y="3" width="1.5" height="1.5" class="v14"/><rect x="9" y="3" width="2.5" height="1.5" class="v15"/><rect x="11" y="3" width="1.5" height="1.5" class="v16"/><rect x="12" y="3" width="1.5" height="1.5" class="v15"/><rect x="13" y="3" width="1.5" height="1.5" class="v16"/><rect x="14" y="3" width="2.5" height="1.5" class="v15"/><rect x="16" y="3" width="2.5" height="1.5" class="v16"/><rect x="18" y="3" width="1.5" height="1.5" class="v15"/><rect x="19" y="3" width="2.5" height="1.5" class="v16"/><rect x="21" y="3" width="3" height="1.5" class="v18"/><rect x="0" y="4" width="1.5" height="1.5" class="v24"/><rect x="1" y="4" width="1.5" height="1.5" class="v16"/><rect x="2" y="4" width="2.5" height="1.5" class="v20"/><rect x="4" y="4" width="1.5" height="1.5" class="v22"/><rect x="5" y="4" width="1.5" height="1.5" class="v16"/><rect x="6" y="4" width="1.5" height="1.5" class="v15"/><rect x="7" y="4" width="2.5" height="1.5" class="v14"/><rect x="9" y="4" width="1.5" height="1.5" class="v16"/><rect x="10" y="4" width="3.5" height="1.5" class="v18"/><rect x="13" y="4" width="1.5" height="1.5" class="v16"/><rect x="14" y="4" width="1.5" height="1.5" class="v20"/><rect x="15" y="4" width="1.5" height="1.5" class="v18"/><rect x="16" y="4" width="1.5" height="1.5" class="v16"/><rect x="17" y="4" width="1.5" height="1.5" class="v18"/><rect x="18" y="4" width="3.5" height="1.5" class="v16"/><rect x="21" y="4" width="1.5" height="1.5" class="v18"/><rect x="22" y="4" width="1.5" height="1.5" class="v20"/><rect x="23" y="4" width="1" height="1.5" class="v22"/><rect x="0" y="5" width="1.5" height="1.5" class="v28"/><rect x="1" y="5" width="1.5" height="1.5" class="v26"/><rect x="2" y="5" width="1.5" height="1.5" class="v18"/><rect x="3" y="5" width="2.5" height="1.5" class="v22"/><rect x="5" y="5" width="1.5" height="1.5" class="v24"/><rect x="6" y="5" width="1.5" height="1.5" class="v18"/><rect x="7" y="5" width="1.5" height="1.5" class="v16"/><rect x="8" y="5" width="1.5" height="1.5" class="v14"/><rect x="9" y="5" width="1.5" height="1.5" class="v13"/><rect x="10" y="5" width="1.5" height="1.5" class="v15"/><rect x="11" y="5" width="3.5" height="1.5" class="v18"/><rect x="14" y="5" width="1.5" height="1.5" class="v16"/><rect x="15" y="5" width="1.5" height="1.5" class="v18"/><rect x="16" y="5" width="1.5" height="1.5" class="v16"/><rect x="17" y="5" width="1.5" height="1.5" class="v15"/><rect x="18" y="5" width="2.5" height="1.5" class="v16"/><rect x="20" y="5" width="1.5" height="1.5" class="v15"/><rect x="21" y="5" width="1.5" height="1.5" class="v14"/><rect x="22" y="5" width="1.5" height="1.5" class="v18"/><rect x="23" y="5" width="1" height="1.5" class="v20"/><rect x="0" y="6" width="1.5" height="1.5" class="v28"/><rect x="1" y="6" width="1.5" height="1.5" class="v32"/><rect x="2" y="6" width="1.5" height="1.5" class="v30"/><rect x="3" y="6" width="1.5" height="1.5" class="v24"/><rect x="4" y="6" width="1.5" height="1.5" class="v26"/><rect x="5" y="6" width="1.5" height="1.5" class="v28"/><rect x="6" y="6" width="1.5" height="1.5" class="v26"/><rect x="7" y="6" width="1.5" height="1.5" class="v22"/><rect x="8" y="6" width="1.5" height="1.5" class="v20"/><rect x="9" y="6" width="1.5" height="1.5" class="v18"/><rect x="10" y="6" width="2.5" height="1.5" class="v16"/><rect x="12" y="6" width="1.5" height="1.5" class="v18"/><rect x="13" y="6" width="2.5" height="1.5" class="v20"/><rect x="15" y="6" width="3.5" height="1.5" class="v18"/><rect x="18" y="6" width="1.5" height="1.5" class="v16"/><rect x="19" y="6" width="1.5" height="1.5" class="v20"/><rect x="20" y="6" width="4" height="1.5" class="v18"/><rect x="0" y="7" width="1.5" height="1.5" class="v22"/><rect x="1" y="7" width="1.5" height="1.5" class="v25"/><rect x="2" y="7" width="2.5" height="1.5" class="v28"/><rect x="4" y="7" width="1.5" height="1.5" class="v22"/><rect x="5" y="7" width="2.5" height="1.5" class="v25"/><rect x="7" y="7" width="1.5" height="1.5" class="v24"/><rect x="8" y="7" width="1.5" height="1.5" class="v22"/><rect x="9" y="7" width="1.5" height="1.5" class="v20"/><rect x="10" y="7" width="1.5" height="1.5" class="v18"/><rect x="11" y="7" width="1.5" height="1.5" class="v16"/><rect x="12" y="7" width="1.5" height="1.5" class="v18"/><rect x="13" y="7" width="2.5" height="1.5" class="v22"/><rect x="15" y="7" width="4.5" height="1.5" class="v20"/><rect x="19" y="7" width="1.5" height="1.5" class="v18"/><rect x="20" y="7" width="2.5" height="1.5" class="v20"/><rect x="22" y="7" width="2" height="1.5" class="v18"/><rect x="0" y="8" width="2.5" height="1.5" class="v18"/><rect x="2" y="8" width="2.5" height="1.5" class="v20"/><rect x="4" y="8" width="1.5" height="1.5" class="v22"/><rect x="5" y="8" width="5.5" height="1.5" class="v20"/><rect x="10" y="8" width="2.5" height="1.5" class="v18"/><rect x="12" y="8" width="1.5" height="1.5" class="v16"/><rect x="13" y="8" width="1.5" height="1.5" class="v18"/><rect x="14" y="8" width="3.5" height="1.5" class="v20"/><rect x="17" y="8" width="1.5" height="1.5" class="v18"/><rect x="18" y="8" width="1.5" height="1.5" class="v20"/><rect x="19" y="8" width="2.5" height="1.5" class="v18"/><rect x="21" y="8" width="2.5" height="1.5" class="v20"/><rect x="23" y="8" width="1" height="1.5" class="v18"/><rect x="0" y="9" width="2.5" height="1.5" class="v18"/><rect x="2" y="9" width="1.5" height="1.5" class="v16"/><rect x="3" y="9" width="1.5" height="1.5" class="v18"/><rect x="4" y="9" width="2.5" height="1.5" class="v20"/><rect x="6" y="9" width="2.5" height="1.5" class="v18"/><rect x="8" y="9" width="2.5" height="1.5" class="v20"/><rect x="10" y="9" width="1.5" height="1.5" class="v22"/><rect x="11" y="9" width="1.5" height="1.5" class="v20"/><rect x="12" y="9" width="1.5" height="1.5" class="v18"/><rect x="13" y="9" width="1.5" height="1.5" class="v16"/><rect x="14" y="9" width="1.5" height="1.5" class="v18"/><rect x="15" y="9" width="3.5" height="1.5" class="v20"/><rect x="18" y="9" width="1.5" height="1.5" class="v18"/><rect x="19" y="9" width="5" height="1.5" class="v20"/><rect x="0" y="10" width="1.5" height="1.5" class="v16"/><rect x="1" y="10" width="3.5" height="1.5" class="v15"/><rect x="4" y="10" width="2.5" height="1.5" class="v16"/><rect x="6" y="10" width="1.5" height="1.5" class="v18"/><rect x="7" y="10" width="6.5" height="1.5" class="v15"/><rect x="13" y="10" width="1.5" height="1.5" class="v14"/><rect x="14" y="10" width="1.5" height="1.5" class="v12"/><rect x="15" y="10" width="4.5" height="1.5" class="v15"/><rect x="19" y="10" width="1.5" height="1.5" class="v14"/><rect x="20" y="10" width="4" height="1.5" class="v15"/><rect x="0" y="11" width="1.5" height="1" class="v20"/><rect x="1" y="11" width="1.5" height="1" class="v18"/><rect x="2" y="11" width="3.5" height="1" class="v15"/><rect x="5" y="11" width="6.5" height="1" class="v16"/><rect x="11" y="11" width="3.5" height="1" class="v18"/><rect x="14" y="11" width="1.5" height="1" class="v16"/><rect x="15" y="11" width="1.5" height="1" class="v15"/><rect x="16" y="11" width="3.5" height="1" class="v18"/><rect x="19" y="11" width="5" height="1" class="v20"/><ellipse cx="0.500" cy="0.500" rx="0.110" ry="0.172" fill="#000" shape-rendering="auto"/><ellipse cx="0.500" cy="1.500" rx="0.110" ry="0.172" fill="#000" shape-rendering="auto"/><ellipse cx="0.500" cy="2.500" rx="0.110" ry="0.172" fill="#000" shape-rendering="auto"/><ellipse cx="22.500" cy="3.500" rx="0.110" ry="0.172" fill="#000" shape-rendering="auto"/><ellipse cx="0.500" cy="4.500" rx="0.110" ry="0.172" fill="#000" shape-rendering="auto"/><ellipse cx="0.500" cy="5.500" rx="0.110" ry="0.172" fill="#000" shape-rendering="auto"/><ellipse cx="1.500" cy="6.500" rx="0.110" ry="0.172" fill="#000" shape-rendering="auto"/><ellipse cx="3.500" cy="7.500" rx="0.110" ry="0.172" fill="#000" shape-rendering="auto"/><ellipse cx="4.500" cy="8.500" rx="0.110" ry="0.172" fill="#000" shape-rendering="auto"/><ellipse cx="10.500" cy="9.500" rx="0.110" ry="0.172" fill="#000" shape-rendering="auto"/><ellipse cx="6.500" cy="10.500" rx="0.110" ry="0.172" fill="#000" shape-rendering="auto"/><ellipse cx="0.500" cy="11.500" rx="0.110" ry="0.172" fill="#000" shape-rendering="auto"/></svg>
<div class="t mb" style="right:646.50px;top:3.04px">Jan</div>
<div class="t mb" style="right:646.50px;top:30.41px">Mar</div>
<div class="t mb" style="right:646.50px;top:57.78px">May</div>
<div class="t mb" style="right:646.50px;top:85.14px">Jul</div>
<div class="t mb" style="right:646.50px;top:112.51px">Sep</div>
<div class="t mb" style="right:646.50px;top:139.88px">Nov</div>
<div class="t pl" style="left:673.00px;top:77.70px">(D)</div>
<div class="t tk" style="left:761.40px;top:169.37px;width:40px;margin-left:-20px;text-align:center">&#160;1</div>
<div class="t tk" style="left:804.19px;top:169.37px;width:40px;margin-left:-20px;text-align:center">&#160;3</div>
<div class="t tk" style="left:846.98px;top:169.37px;width:40px;margin-left:-20px;text-align:center">&#160;5</div>
<div class="t tk" style="left:889.77px;top:169.37px;width:40px;margin-left:-20px;text-align:center">&#160;7</div>
<div class="t tk" style="left:932.56px;top:169.37px;width:40px;margin-left:-20px;text-align:center">&#160;9</div>
<div class="t tk" style="left:975.36px;top:169.37px;width:40px;margin-left:-20px;text-align:center">11</div>
<div class="t tk" style="left:1018.15px;top:169.37px;width:40px;margin-left:-20px;text-align:center">13</div>
<div class="t tk" style="left:1060.94px;top:169.37px;width:40px;margin-left:-20px;text-align:center">15</div>
<div class="t tk" style="left:1103.73px;top:169.37px;width:40px;margin-left:-20px;text-align:center">17</div>
<div class="t tk" style="left:1146.52px;top:169.37px;width:40px;margin-left:-20px;text-align:center">19</div>
<div class="t tk" style="left:1189.31px;top:169.37px;width:40px;margin-left:-20px;text-align:center">21</div>
<div class="t tk" style="left:1232.11px;top:169.37px;width:40px;margin-left:-20px;text-align:center">23</div>
<svg class="hm" style="left:750.70px;top:247.90px;width:513.50px;height:163.00px" viewBox="0 0 24 12" preserveAspectRatio="none"><rect x="0" y="0" width="1.5" height="1.5" class="v25"/><rect x="1" y="0" width="1.5" height="1.5" class="v30"/><rect x="2" y="0" width="1.5" height="1.5" class="v28"/><rect x="3" y="0" width="1.5" height="1.5" class="v30"/><rect x="4" y="0" width="1.5" height="1.5" class="v28"/><rect x="5" y="0" width="1.5" height="1.5" class="v25"/><rect x="6" y="0" width="1.5" height="1.5" class="v26"/><rect x="7" y="0" width="1.5" height="1.5" class="v25"/><rect x="8" y="0" width="3.5" height="1.5" class="v24"/><rect x="11" y="0" width="1.5" height="1.5" class="v23"/><rect x="12" y="0" width="4.5" height="1.5" class="v24"/><rect x="16" y="0" width="4.5" height="1.5" class="v23"/><rect x="20" y="0" width="1.5" height="1.5" class="v24"/><rect x="21" y="0" width="1.5" height="1.5" class="v23"/><rect x="22" y="0" width="1.5" height="1.5" class="v24"/><rect x="23" y="0" width="1" height="1.5" class="v22"/><rect x="0" y="1" width="1.5" height="1.5" class="v36"/><rect x="1" y="1" width="1.5" height="1.5" class="v34"/><rect x="2" y="1" width="1.5" height="1.5" class="v30"/><rect x="3" y="1" width="1.5" height="1.5" class="v29"/><rect x="4" y="1" width="1.5" height="1.5" class="v30"/><rect x="5" y="1" width="1.5" height="1.5" class="v28"/><rect x="6" y="1" width="1.5" height="1.5" class="v30"/><rect x="7" y="1" width="1.5" height="1.5" class="v29"/><rect x="8" y="1" width="1.5" height="1.5" class="v30"/><rect x="9" y="1" width="2.5" height="1.5" class="v29"/><rect x="11" y="1" width="1.5" height="1.5" class="v28"/><rect x="12" y="1" width="3.5" height="1.5" class="v29"/><rect x="15" y="1" width="2.5" height="1.5" class="v28"/><rect x="17" y="1" width="1.5" height="1.5" class="v27"/><rect x="18" y="1" width="1.5" height="1.5" class="v25"/><rect x="19" y="1" width="4.5" height="1.5" class="v24"/><rect x="23" y="1" width="1" height="1.5" class="v25"/><rect x="0" y="2" width="1.5" height="1.5" class="v31"/><rect x="1" y="2" width="1.5" height="1.5" class="v28"/><rect x="2" y="2" width="3.5" height="1.5" class="v23"/><rect x="5" y="2" width="1.5" height="1.5" class="v22"/><rect x="6" y="2" width="2.5" height="1.5" class="v21"/><rect x="8" y="2" width="2.5" height="1.5" class="v23"/><rect x="10" y="2" width="1.5" height="1.5" class="v22"/><rect x="11" y="2" width="2.5" height="1.5" class="v21"/><rect x="13" y="2" width="1.5" height="1.5" class="v20"/><rect x="14" y="2" width="1.5" height="1.5" class="v23"/><rect x="15" y="2" width="2.5" height="1.5" class="v22"/><rect x="17" y="2" width="1.5" height="1.5" class="v21"/><rect x="18" y="2" width="1.5" height="1.5" class="v18"/><rect x="19" y="2" width="4.5" height="1.5" class="v19"/><rect x="23" y="2" width="1" height="1.5" class="v18"/><rect x="0" y="3" width="2.5" height="1.5" class="v31"/><rect x="2" y="3" width="1.5" height="1.5" class="v27"/><rect x="3" y="3" width="1.5" height="1.5" class="v29"/><rect x="4" y="3" width="1.5" height="1.5" class="v33"/><rect x="5" y="3" width="1.5" height="1.5" class="v32"/><rect x="6" y="3" width="1.5" height="1.5" class="v33"/><rect x="7" y="3" width="1.5" height="1.5" class="v32"/><rect x="8" y="3" width="1.5" height="1.5" class="v35"/><rect x="9" y="3" width="1.5" height="1.5" class="v34"/><rect x="10" y="3" width="4.5" height="1.5" class="v33"/><rect x="14" y="3" width="1.5" height="1.5" class="v34"/><rect x="15" y="3" width="1.5" height="1.5" class="v33"/><rect x="16" y="3" width="1.5" height="1.5" class="v31"/><rect x="17" y="3" width="2.5" height="1.5" class="v32"/><rect x="19" y="3" width="1.5" height="1.5" class="v33"/><rect x="20" y="3" width="2.5" height="1.5" class="v31"/><rect x="22" y="3" width="1.5" height="1.5" class="v32"/><rect x="23" y="3" width="1" height="1.5" class="v31"/><rect x="0" y="4" width="1.5" height="1.5" class="v35"/><rect x="1" y="4" width="1.5" height="1.5" class="v31"/><rect x="2" y="4" width="1.5" height="1.5" class="v30"/><rect x="3" y="4" width="2.5" height="1.5" class="v28"/><rect x="5" y="4" width="1.5" height="1.5" class="v29"/><rect x="6" y="4" width="1.5" height="1.5" class="v27"/><rect x="7" y="4" width="1.5" height="1.5" class="v28"/><rect x="8" y="4" width="3.5" height="1.5" class="v27"/><rect x="11" y="4" width="1.5" height="1.5" class="v28"/><rect x="12" y="4" width="1.5" height="1.5" class="v29"/><rect x="13" y="4" width="6.5" height="1.5" class="v28"/><rect x="19" y="4" width="1.5" height="1.5" class="v29"/><rect x="20" y="4" width="1.5" height="1.5" class="v30"/><rect x="21" y="4" width="3" height="1.5" class="v29"/><rect x="0" y="5" width="1.5" height="1.5" class="v29"/><rect x="1" y="5" width="1.5" height="1.5" class="v31"/><rect x="2" y="5" width="1.5" height="1.5" class="v28"/><rect x="3" y="5" width="1.5" height="1.5" class="v30"/><rect x="4" y="5" width="2.5" height="1.5" class="v29"/><rect x="6" y="5" width="1.5" height="1.5" class="v26"/><rect x="7" y="5" width="1.5" height="1.5" class="v24"/><rect x="8" y="5" width="1.5" height="1.5" class="v25"/><rect x="9" y="5" width="1.5" height="1.5" class="v21"/><rect x="10" y="5" width="1.5" height="1.5" class="v24"/><rect x="11" y="5" width="1.5" height="1.5" class="v23"/><rect x="12" y="5" width="1.5" height="1.5" class="v22"/><rect x="13" y="5" width="2.5" height="1.5" class="v23"/><rect x="15" y="5" width="5.5" height="1.5" class="v24"/><rect x="20" y="5" width="1.5" height="1.5" class="v23"/><rect x="21" y="5" width="3" height="1.5" class="v24"/><rect x="0" y="6" width="1.5" height="1.5" class="v33"/><rect x="1" y="6" width="2.5" height="1.5" class="v28"/><rect x="3" y="6" width="2.5" height="1.5" class="v25"/><rect x="5" y="6" width="1.5" height="1.5" class="v28"/><rect x="6" y="6" width="1.5" height="1.5" class="v29"/><rect x="7" y="6" width="1.5" height="1.5" class="v28"/><rect x="8" y="6" width="2.5" height="1.5" class="v27"/><rect x="10" y="6" width="1.5" height="1.5" class="v26"/><rect x="11" y="6" width="1.5" height="1.5" class="v27"/><rect x="12" y="6" width="3.5" height="1.5" class="v28"/><rect x="15" y="6" width="1.5" height="1.5" class="v29"/><rect x="16" y="6" width="2.5" height="1.5" class="v28"/><rect x="18" y="6" width="4.5" height="1.5" class="v29"/><rect x="22" y="6" width="1.5" height="1.5" class="v25"/><rect x="23" y="6" width="1" height="1.5" class="v24"/><rect x="0" y="7" width="1.5" height="1.5" class="v33"/><rect x="1" y="7" width="4.5" height="1.5" class="v32"/><rect x="5" y="7" width="2.5" height="1.5" class="v31"/><rect x="7" y="7" width="1.5" height="1.5" class="v32"/><rect x="8" y="7" width="2.5" height="1.5" class="v31"/><rect x="10" y="7" width="2.5" height="1.5" class="v29"/><rect x="12" y="7" width="9.5" height="1.5" class="v30"/><rect x="21" y="7" width="2.5" height="1.5" class="v31"/><rect x="23" y="7" width="1" height="1.5" class="v29"/><rect x="0" y="8" width="2.5" height="1.5" class="v31"/><rect x="2" y="8" width="1.5" height="1.5" class="v32"/><rect x="3" y="8" width="1.5" height="1.5" class="v31"/><rect x="4" y="8" width="1.5" height="1.5" class="v32"/><rect x="5" y="8" width="2.5" height="1.5" class="v30"/><rect x="7" y="8" width="3.5" height="1.5" class="v31"/><rect x="10" y="8" width="2.5" height="1.5" class="v32"/><rect x="12" y="8" width="1.5" height="1.5" class="v34"/><rect x="13" y="8" width="2.5" height="1.5" class="v31"/><rect x="15" y="8" width="1.5" height="1.5" class="v32"/><rect x="16" y="8" width="3.5" height="1.5" class="v31"/><rect x="19" y="8" width="2.5" height="1.5" class="v30"/><rect x="21" y="8" width="3" height="1.5" class="v29"/><rect x="0" y="9" width="1.5" height="1.5" class="v35"/><rect x="1" y="9" width="1.5" height="1.5" class="v36"/><rect x="2" y="9" width="1.5" height="1.5" class="v37"/><rect x="3" y="9" width="2.5" height="1.5" class="v35"/><rect x="5" y="9" width="1.5" height="1.5" class="v36"/><rect x="6" y="9" width="2.5" height="1.5" class="v35"/><rect x="8" y="9" width="1.5" height="1.5" class="v33"/><rect x="9" y="9" width="1.5" height="1.5" class="v32"/><rect x="10" y="9" width="3.5" height="1.5" class="v31"/><rect x="13" y="9" width="1.5" height="1.5" class="v29"/><rect x="14" y="9" width="1.5" height="1.5" class="v30"/><rect x="15" y="9" width="1.5" height="1.5" class="v31"/><rect x="16" y="9" width="1.5" height="1.5" class="v30"/><rect x="17" y="9" width="1.5" height="1.5" class="v29"/><rect x="18" y="9" width="3.5" height="1.5" class="v28"/><rect x="21" y="9" width="1.5" height="1.5" class="v26"/><rect x="22" y="9" width="1.5" height="1.5" class="v25"/><rect x="23" y="9" width="1" height="1.5" class="v26"/><rect x="0" y="10" width="1.5" height="1.5" class="v37"/><rect x="1" y="10" width="1.5" height="1.5" class="v29"/><rect x="2" y="10" width="1.5" height="1.5" class="v26"/><rect x="3" y="10" width="1.5" height="1.5" class="v23"/><rect x="4" y="10" width="2.5" height="1.5" class="v21"/><rect x="6" y="10" width="4.5" height="1.5" class="v19"/><rect x="10" y="10" width="1.5" height="1.5" class="v20"/><rect x="11" y="10" width="3.5" height="1.5" class="v19"/><rect x="14" y="10" width="2.5" height="1.5" class="v16"/><rect x="16" y="10" width="2.5" height="1.5" class="v18"/><rect x="18" y="10" width="1.5" height="1.5" class="v17"/><rect x="19" y="10" width="1.5" height="1.5" class="v18"/><rect x="20" y="10" width="2.5" height="1.5" class="v19"/><rect x="22" y="10" width="1.5" height="1.5" class="v18"/><rect x="23" y="10" width="1" height="1.5" class="v19"/><rect x="0" y="11" width="2.5" height="1" class="v33"/><rect x="2" y="11" width="1.5" height="1" class="v29"/><rect x="3" y="11" width="1.5" height="1" class="v24"/><rect x="4" y="11" width="4.5" height="1" class="v23"/><rect x="8" y="11" width="2.5" height="1" class="v22"/><rect x="10" y="11" width="2.5" height="1" class="v24"/><rect x="12" y="11" width="2.5" height="1" class="v25"/><rect x="14" y="11" width="1.5" height="1" class="v26"/><rect x="15" y="11" width="1.5" height="1" class="v27"/><rect x="16" y="11" width="1.5" height="1" class="v25"/><rect x="17" y="11" width="3.5" height="1" class="v26"/><rect x="20" y="11" width="4" height="1" class="v28"/><ellipse cx="3.500" cy="0.500" rx="0.110" ry="0.173" fill="#000" shape-rendering="auto"/><ellipse cx="0.500" cy="1.500" rx="0.110" ry="0.173" fill="#000" shape-rendering="auto"/><ellipse cx="0.500" cy="2.500" rx="0.110" ry="0.173" fill="#000" shape-rendering="auto"/><ellipse cx="8.500" cy="3.500" rx="0.110" ry="0.173" fill="#000" shape-rendering="auto"/><ellipse cx="0.500" cy="4.500" rx="0.110" ry="0.173" fill="#000" shape-rendering="auto"/><ellipse cx="1.500" cy="5.500" rx="0.110" ry="0.173" fill="#000" shape-rendering="auto"/><ellipse cx="0.500" cy="6.500" rx="0.110" ry="0.173" fill="#000" shape-rendering="auto"/><ellipse cx="0.500" cy="7.500" rx="0.110" ry="0.173" fill="#000" shape-rendering="auto"/><ellipse cx="12.500" cy="8.500" rx="0.110" ry="0.173" fill="#000" shape-rendering="auto"/><ellipse cx="2.500" cy="9.500" rx="0.110" ry="0.173" fill="#000" shape-rendering="auto"/><ellipse cx="0.500" cy="10.500" rx="0.110" ry="0.173" fill="#000" shape-rendering="auto"/><ellipse cx="1.500" cy="11.500" rx="0.110" ry="0.173" fill="#000" shape-rendering="auto"/></svg>
<div class="t mb" style="right:646.50px;top:247.29px">Jan</div>
<div class="t mb" style="right:646.50px;top:274.46px">Mar</div>
<div class="t mb" style="right:646.50px;top:301.62px">May</div>
<div class="t mb" style="right:646.50px;top:328.79px">Jul</div>
<div class="t mb" style="right:646.50px;top:355.96px">Sep</div>
<div class="t mb" style="right:646.50px;top:383.12px">Nov</div>
<div class="t pl" style="left:679.50px;top:322.80px">(E)</div>
<div class="t tk" style="left:761.40px;top:412.47px;width:40px;margin-left:-20px;text-align:center">&#160;1</div>
<div class="t tk" style="left:804.19px;top:412.47px;width:40px;margin-left:-20px;text-align:center">&#160;3</div>
<div class="t tk" style="left:846.98px;top:412.47px;width:40px;margin-left:-20px;text-align:center">&#160;5</div>
<div class="t tk" style="left:889.77px;top:412.47px;width:40px;margin-left:-20px;text-align:center">&#160;7</div>
<div class="t tk" style="left:932.56px;top:412.47px;width:40px;margin-left:-20px;text-align:center">&#160;9</div>
<div class="t tk" style="left:975.36px;top:412.47px;width:40px;margin-left:-20px;text-align:center">11</div>
<div class="t tk" style="left:1018.15px;top:412.47px;width:40px;margin-left:-20px;text-align:center">13</div>
<div class="t tk" style="left:1060.94px;top:412.47px;width:40px;margin-left:-20px;text-align:center">15</div>
<div class="t tk" style="left:1103.73px;top:412.47px;width:40px;margin-left:-20px;text-align:center">17</div>
<div class="t tk" style="left:1146.52px;top:412.47px;width:40px;margin-left:-20px;text-align:center">19</div>
<div class="t tk" style="left:1189.31px;top:412.47px;width:40px;margin-left:-20px;text-align:center">21</div>
<div class="t tk" style="left:1232.11px;top:412.47px;width:40px;margin-left:-20px;text-align:center">23</div>
<svg class="hm" style="left:750.70px;top:490.70px;width:513.50px;height:163.70px" viewBox="0 0 24 12" preserveAspectRatio="none"><rect x="0" y="0" width="1.5" height="1.5" class="v28"/><rect x="1" y="0" width="3.5" height="1.5" class="v31"/><rect x="4" y="0" width="1.5" height="1.5" class="v25"/><rect x="5" y="0" width="2.5" height="1.5" class="v22"/><rect x="7" y="0" width="1.5" height="1.5" class="v21"/><rect x="8" y="0" width="1.5" height="1.5" class="v24"/><rect x="9" y="0" width="2.5" height="1.5" class="v22"/><rect x="11" y="0" width="2.5" height="1.5" class="v21"/><rect x="13" y="0" width="3.5" height="1.5" class="v18"/><rect x="16" y="0" width="4.5" height="1.5" class="v20"/><rect x="20" y="0" width="3.5" height="1.5" class="v21"/><rect x="23" y="0" width="1" height="1.5" class="v22"/><rect x="0" y="1" width="2.5" height="1.5" class="v27"/><rect x="2" y="1" width="1.5" height="1.5" class="v26"/><rect x="3" y="1" width="1.5" height="1.5" class="v27"/><rect x="4" y="1" width="1.5" height="1.5" class="v26"/><rect x="5" y="1" width="1.5" height="1.5" class="v16"/><rect x="6" y="1" width="1.5" height="1.5" class="v15"/><rect x="7" y="1" width="3.5" height="1.5" class="v16"/><rect x="10" y="1" width="2.5" height="1.5" class="v15"/><rect x="12" y="1" width="5.5" height="1.5" class="v13"/><rect x="17" y="1" width="2.5" height="1.5" class="v14"/><rect x="19" y="1" width="3.5" height="1.5" class="v15"/><rect x="22" y="1" width="2" height="1.5" class="v16"/><rect x="0" y="2" width="1.5" height="1.5" class="v32"/><rect x="1" y="2" width="2.5" height="1.5" class="v22"/><rect x="3" y="2" width="1.5" height="1.5" class="v20"/><rect x="4" y="2" width="2.5" height="1.5" class="v21"/><rect x="6" y="2" width="1.5" height="1.5" class="v13"/><rect x="7" y="2" width="4.5" height="1.5" class="v14"/><rect x="11" y="2" width="1.5" height="1.5" class="v13"/><rect x="12" y="2" width="1.5" height="1.5" class="v12"/><rect x="13" y="2" width="2.5" height="1.5" class="v11"/><rect x="15" y="2" width="1.5" height="1.5" class="v9"/><rect x="16" y="2" width="1.5" height="1.5" class="v8"/><rect x="17" y="2" width="1.5" height="1.5" class="v9"/><rect x="18" y="2" width="1.5" height="1.5" class="v8"/><rect x="19" y="2" width="1.5" height="1.5" class="v9"/><rect x="20" y="2" width="3.5" height="1.5" class="v10"/><rect x="23" y="2" width="1" height="1.5" class="v11"/><rect x="0" y="3" width="1.5" height="1.5" class="v21"/><rect x="1" y="3" width="2.5" height="1.5" class="v22"/><rect x="3" y="3" width="1.5" height="1.5" class="v21"/><rect x="4" y="3" width="1.5" height="1.5" class="v22"/><rect x="5" y="3" width="2.5" height="1.5" class="v23"/><rect x="7" y="3" width="1.5" height="1.5" class="v14"/><rect x="8" y="3" width="3.5" height="1.5" class="v18"/><rect x="11" y="3" width="1.5" height="1.5" class="v16"/><rect x="12" y="3" width="2.5" height="1.5" class="v15"/><rect x="14" y="3" width="1.5" height="1.5" class="v16"/><rect x="15" y="3" width="1.5" height="1.5" class="v15"/><rect x="16" y="3" width="3.5" height="1.5" class="v14"/><rect x="19" y="3" width="1.5" height="1.5" class="v13"/><rect x="20" y="3" width="2.5" height="1.5" class="v14"/><rect x="22" y="3" width="1.5" height="1.5" class="v16"/><rect x="23" y="3" width="1" height="1.5" class="v15"/><rect x="0" y="4" width="1.5" height="1.5" class="v25"/><rect x="1" y="4" width="2.5" height="1.5" class="v16"/><rect x="3" y="4" width="2.5" height="1.5" class="v18"/><rect x="5" y="4" width="1.5" height="1.5" class="v16"/><rect x="6" y="4" width="2.5" height="1.5" class="v18"/><rect x="8" y="4" width="1.5" height="1.5" class="v12"/><rect x="9" y="4" width="4.5" height="1.5" class="v15"/><rect x="13" y="4" width="2.5" height="1.5" class="v13"/><rect x="15" y="4" width="1.5" height="1.5" class="v15"/><rect x="16" y="4" width="2.5" height="1.5" class="v14"/><rect x="18" y="4" width="2.5" height="1.5" class="v13"/><rect x="20" y="4" width="4" height="1.5" class="v14"/><rect x="0" y="5" width="1.5" height="1.5" class="v29"/><rect x="1" y="5" width="1.5" height="1.5" class="v24"/><rect x="2" y="5" width="1.5" height="1.5" class="v16"/><rect x="3" y="5" width="1.5" height="1.5" class="v20"/><rect x="4" y="5" width="2.5" height="1.5" class="v22"/><rect x="6" y="5" width="1.5" height="1.5" class="v20"/><rect x="7" y="5" width="1.5" height="1.5" class="v18"/><rect x="8" y="5" width="1.5" height="1.5" class="v20"/><rect x="9" y="5" width="1.5" height="1.5" class="v12"/><rect x="10" y="5" width="2.5" height="1.5" class="v15"/><rect x="12" y="5" width="2.5" height="1.5" class="v14"/><rect x="14" y="5" width="2.5" height="1.5" class="v12"/><rect x="16" y="5" width="1.5" height="1.5" class="v13"/><rect x="17" y="5" width="1.5" height="1.5" class="v12"/><rect x="18" y="5" width="4.5" height="1.5" class="v11"/><rect x="22" y="5" width="1.5" height="1.5" class="v12"/><rect x="23" y="5" width="1" height="1.5" class="v14"/><rect x="0" y="6" width="1.5" height="1.5" class="v23"/><rect x="1" y="6" width="2.5" height="1.5" class="v25"/><rect x="3" y="6" width="1.5" height="1.5" class="v20"/><rect x="4" y="6" width="2.5" height="1.5" class="v21"/><rect x="6" y="6" width="1.5" height="1.5" class="v20"/><rect x="7" y="6" width="1.5" height="1.5" class="v18"/><rect x="8" y="6" width="2.5" height="1.5" class="v19"/><rect x="10" y="6" width="2.5" height="1.5" class="v15"/><rect x="12" y="6" width="2.5" height="1.5" class="v16"/><rect x="14" y="6" width="1.5" height="1.5" class="v15"/><rect x="15" y="6" width="4.5" height="1.5" class="v14"/><rect x="19" y="6" width="2.5" height="1.5" class="v12"/><rect x="21" y="6" width="1.5" height="1.5" class="v13"/><rect x="22" y="6" width="1.5" height="1.5" class="v12"/><rect x="23" y="6" width="1" height="1.5" class="v13"/><rect x="0" y="7" width="1.5" height="1.5" class="v28"/><rect x="1" y="7" width="1.5" height="1.5" class="v30"/><rect x="2" y="7" width="1.5" height="1.5" class="v31"/><rect x="3" y="7" width="1.5" height="1.5" class="v33"/><rect x="4" y="7" width="3.5" height="1.5" class="v25"/><rect x="7" y="7" width="1.5" height="1.5" class="v23"/><rect x="8" y="7" width="1.5" height="1.5" class="v16"/><rect x="9" y="7" width="1.5" height="1.5" class="v15"/><rect x="10" y="7" width="1.5" height="1.5" class="v14"/><rect x="11" y="7" width="1.5" height="1.5" class="v16"/><rect x="12" y="7" width="1.5" height="1.5" class="v15"/><rect x="13" y="7" width="2.5" height="1.5" class="v18"/><rect x="15" y="7" width="1.5" height="1.5" class="v16"/><rect x="16" y="7" width="3.5" height="1.5" class="v18"/><rect x="19" y="7" width="1.5" height="1.5" class="v19"/><rect x="20" y="7" width="1.5" height="1.5" class="v22"/><rect x="21" y="7" width="2.5" height="1.5" class="v21"/><rect x="23" y="7" width="1" height="1.5" class="v22"/><rect x="0" y="8" width="1.5" height="1.5" class="v21"/><rect x="1" y="8" width="1.5" height="1.5" class="v25"/><rect x="2" y="8" width="1.5" height="1.5" class="v26"/><rect x="3" y="8" width="2.5" height="1.5" class="v27"/><rect x="5" y="8" width="2.5" height="1.5" class="v24"/><rect x="7" y="8" width="2.5" height="1.5" class="v23"/><rect x="9" y="8" width="4.5" height="1.5" class="v18"/><rect x="13" y="8" width="1.5" height="1.5" class="v16"/><rect x="14" y="8" width="6.5" height="1.5" class="v20"/><rect x="20" y="8" width="1.5" height="1.5" class="v19"/><rect x="21" y="8" width="2.5" height="1.5" class="v24"/><rect x="23" y="8" width="1" height="1.5" class="v25"/><rect x="0" y="9" width="1.5" height="1.5" class="v28"/><rect x="1" y="9" width="1.5" height="1.5" class="v16"/><rect x="2" y="9" width="1.5" height="1.5" class="v21"/><rect x="3" y="9" width="3.5" height="1.5" class="v22"/><rect x="6" y="9" width="2.5" height="1.5" class="v20"/><rect x="8" y="9" width="1.5" height="1.5" class="v18"/><rect x="9" y="9" width="1.5" height="1.5" class="v16"/><rect x="10" y="9" width="2.5" height="1.5" class="v15"/><rect x="12" y="9" width="1.5" height="1.5" class="v14"/><rect x="13" y="9" width="1.5" height="1.5" class="v15"/><rect x="14" y="9" width="1.5" height="1.5" class="v16"/><rect x="15" y="9" width="2.5" height="1.5" class="v18"/><rect x="17" y="9" width="1.5" height="1.5" class="v16"/><rect x="18" y="9" width="2.5" height="1.5" class="v18"/><rect x="20" y="9" width="1.5" height="1.5" class="v19"/><rect x="21" y="9" width="1.5" height="1.5" class="v18"/><rect x="22" y="9" width="2" height="1.5" class="v23"/><rect x="0" y="10" width="1.5" height="1.5" class="v33"/><rect x="1" y="10" width="1.5" height="1.5" class="v24"/><rect x="2" y="10" width="1.5" height="1.5" class="v16"/><rect x="3" y="10" width="1.5" height="1.5" class="v22"/><rect x="4" y="10" width="1.5" height="1.5" class="v23"/><rect x="5" y="10" width="1.5" height="1.5" class="v25"/><rect x="6" y="10" width="1.5" height="1.5" class="v23"/><rect x="7" y="10" width="4.5" height="1.5" class="v22"/><rect x="11" y="10" width="3.5" height="1.5" class="v21"/><rect x="14" y="10" width="1.5" height="1.5" class="v18"/><rect x="15" y="10" width="1.5" height="1.5" class="v16"/><rect x="16" y="10" width="7.5" height="1.5" class="v18"/><rect x="23" y="10" width="1" height="1.5" class="v20"/><rect x="0" y="11" width="1.5" height="1" class="v31"/><rect x="1" y="11" width="1.5" height="1" class="v33"/><rect x="2" y="11" width="1.5" height="1" class="v28"/><rect x="3" y="11" width="1.5" height="1" class="v19"/><rect x="4" y="11" width="2.5" height="1" class="v22"/><rect x="6" y="11" width="1.5" height="1" class="v23"/><rect x="7" y="11" width="4.5" height="1" class="v22"/><rect x="11" y="11" width="1.5" height="1" class="v21"/><rect x="12" y="11" width="1.5" height="1" class="v20"/><rect x="13" y="11" width="1.5" height="1" class="v18"/><rect x="14" y="11" width="1.5" height="1" class="v19"/><rect x="15" y="11" width="2.5" height="1" class="v18"/><rect x="17" y="11" width="3.5" height="1" class="v20"/><rect x="20" y="11" width="3.5" height="1" class="v21"/><rect x="23" y="11" width="1" height="1" class="v18"/><ellipse cx="3.500" cy="0.500" rx="0.110" ry="0.172" fill="#000" shape-rendering="auto"/><ellipse cx="1.500" cy="1.500" rx="0.110" ry="0.172" fill="#000" shape-rendering="auto"/><ellipse cx="0.500" cy="2.500" rx="0.110" ry="0.172" fill="#000" shape-rendering="auto"/><ellipse cx="2.500" cy="3.500" rx="0.110" ry="0.172" fill="#000" shape-rendering="auto"/><ellipse cx="0.500" cy="4.500" rx="0.110" ry="0.172" fill="#000" shape-rendering="auto"/><ellipse cx="0.500" cy="5.500" rx="0.110" ry="0.172" fill="#000" shape-rendering="auto"/><ellipse cx="1.500" cy="6.500" rx="0.110" ry="0.172" fill="#000" shape-rendering="auto"/><ellipse cx="3.500" cy="7.500" rx="0.110" ry="0.172" fill="#000" shape-rendering="auto"/><ellipse cx="4.500" cy="8.500" rx="0.110" ry="0.172" fill="#000" shape-rendering="auto"/><ellipse cx="0.500" cy="9.500" rx="0.110" ry="0.172" fill="#000" shape-rendering="auto"/><ellipse cx="0.500" cy="10.500" rx="0.110" ry="0.172" fill="#000" shape-rendering="auto"/><ellipse cx="1.500" cy="11.500" rx="0.110" ry="0.172" fill="#000" shape-rendering="auto"/></svg>
<div class="t mb" style="right:646.50px;top:490.12px">Jan</div>
<div class="t mb" style="right:646.50px;top:517.40px">Mar</div>
<div class="t mb" style="right:646.50px;top:544.69px">May</div>
<div class="t mb" style="right:646.50px;top:571.97px">Jul</div>
<div class="t mb" style="right:646.50px;top:599.25px">Sep</div>
<div class="t mb" style="right:646.50px;top:626.54px">Nov</div>
<div class="t pl" style="left:681.30px;top:568.70px">(F)</div>
<div class="t tk" style="left:761.40px;top:655.97px;width:40px;margin-left:-20px;text-align:center">&#160;1</div>
<div class="t tk" style="left:804.19px;top:655.97px;width:40px;margin-left:-20px;text-align:center">&#160;3</div>
<div class="t tk" style="left:846.98px;top:655.97px;width:40px;margin-left:-20px;text-align:center">&#160;5</div>
<div class="t tk" style="left:889.77px;top:655.97px;width:40px;margin-left:-20px;text-align:center">&#160;7</div>
<div class="t tk" style="left:932.56px;top:655.97px;width:40px;margin-left:-20px;text-align:center">&#160;9</div>
<div class="t tk" style="left:975.36px;top:655.97px;width:40px;margin-left:-20px;text-align:center">11</div>
<div class="t tk" style="left:1018.15px;top:655.97px;width:40px;margin-left:-20px;text-align:center">13</div>
<div class="t tk" style="left:1060.94px;top:655.97px;width:40px;margin-left:-20px;text-align:center">15</div>
<div class="t tk" style="left:1103.73px;top:655.97px;width:40px;margin-left:-20px;text-align:center">17</div>
<div class="t tk" style="left:1146.52px;top:655.97px;width:40px;margin-left:-20px;text-align:center">19</div>
<div class="t tk" style="left:1189.31px;top:655.97px;width:40px;margin-left:-20px;text-align:center">21</div>
<div class="t tk" style="left:1232.11px;top:655.97px;width:40px;margin-left:-20px;text-align:center">23</div>
<div class="t sc" style="left:1033.90px;top:677.89px;width:100px;margin-left:-50px;text-align:center">Scales</div>
<svg class="hm" style="left:96.90px;top:790.40px;width:507.70px;height:163.10px" viewBox="0 0 24 12" preserveAspectRatio="none"><rect x="0" y="0" width="1.5" height="1.5" class="v24"/><rect x="1" y="0" width="1.5" height="1.5" class="v18"/><rect x="2" y="0" width="1.5" height="1.5" class="v21"/><rect x="3" y="0" width="1.5" height="1.5" class="v29"/><rect x="4" y="0" width="1.5" height="1.5" class="v25"/><rect x="5" y="0" width="2.5" height="1.5" class="v34"/><rect x="7" y="0" width="1.5" height="1.5" class="v33"/><rect x="8" y="0" width="1.5" height="1.5" class="v28"/><rect x="9" y="0" width="1.5" height="1.5" class="v25"/><rect x="10" y="0" width="1.5" height="1.5" class="v24"/><rect x="11" y="0" width="1.5" height="1.5" class="v18"/><rect x="12" y="0" width="1.5" height="1.5" class="v16"/><rect x="13" y="0" width="1.5" height="1.5" class="v18"/><rect x="14" y="0" width="1.5" height="1.5" class="v16"/><rect x="15" y="0" width="1.5" height="1.5" class="v18"/><rect x="16" y="0" width="1.5" height="1.5" class="v15"/><rect x="17" y="0" width="1.5" height="1.5" class="v21"/><rect x="18" y="0" width="1.5" height="1.5" class="v20"/><rect x="19" y="0" width="1.5" height="1.5" class="v19"/><rect x="20" y="0" width="1.5" height="1.5" class="v22"/><rect x="21" y="0" width="2.5" height="1.5" class="v24"/><rect x="23" y="0" width="1" height="1.5" class="v21"/><rect x="0" y="1" width="1.5" height="1.5" class="v20"/><rect x="1" y="1" width="1.5" height="1.5" class="v18"/><rect x="2" y="1" width="1.5" height="1.5" class="v21"/><rect x="3" y="1" width="1.5" height="1.5" class="v20"/><rect x="4" y="1" width="1.5" height="1.5" class="v28"/><rect x="5" y="1" width="1.5" height="1.5" class="v26"/><rect x="6" y="1" width="1.5" height="1.5" class="v33"/><rect x="7" y="1" width="1.5" height="1.5" class="v34"/><rect x="8" y="1" width="1.5" height="1.5" class="v33"/><rect x="9" y="1" width="1.5" height="1.5" class="v29"/><rect x="10" y="1" width="1.5" height="1.5" class="v30"/><rect x="11" y="1" width="1.5" height="1.5" class="v27"/><rect x="12" y="1" width="1.5" height="1.5" class="v21"/><rect x="13" y="1" width="1.5" height="1.5" class="v16"/><rect x="14" y="1" width="2.5" height="1.5" class="v21"/><rect x="16" y="1" width="2.5" height="1.5" class="v23"/><rect x="18" y="1" width="1.5" height="1.5" class="v20"/><rect x="19" y="1" width="1.5" height="1.5" class="v19"/><rect x="20" y="1" width="2.5" height="1.5" class="v18"/><rect x="22" y="1" width="1.5" height="1.5" class="v20"/><rect x="23" y="1" width="1" height="1.5" class="v19"/><rect x="0" y="2" width="1.5" height="1.5" class="v11"/><rect x="1" y="2" width="1.5" height="1.5" class="v9"/><rect x="2" y="2" width="1.5" height="1.5" class="v18"/><rect x="3" y="2" width="1.5" height="1.5" class="v24"/><rect x="4" y="2" width="1.5" height="1.5" class="v14"/><rect x="5" y="2" width="2.5" height="1.5" class="v15"/><rect x="7" y="2" width="6.5" height="1.5" class="v20"/><rect x="13" y="2" width="3.5" height="1.5" class="v16"/><rect x="16" y="2" width="2.5" height="1.5" class="v21"/><rect x="18" y="2" width="1.5" height="1.5" class="v16"/><rect x="19" y="2" width="3.5" height="1.5" class="v15"/><rect x="22" y="2" width="1.5" height="1.5" class="v18"/><rect x="23" y="2" width="1" height="1.5" class="v24"/><rect x="0" y="3" width="1.5" height="1.5" class="v30"/><rect x="1" y="3" width="1.5" height="1.5" class="v24"/><rect x="2" y="3" width="1.5" height="1.5" class="v25"/><rect x="3" y="3" width="1.5" height="1.5" class="v30"/><rect x="4" y="3" width="1.5" height="1.5" class="v33"/><rect x="5" y="3" width="1.5" height="1.5" class="v34"/><rect x="6" y="3" width="1.5" height="1.5" class="v35"/><rect x="7" y="3" width="1.5" height="1.5" class="v37"/><rect x="8" y="3" width="1.5" height="1.5" class="v36"/><rect x="9" y="3" width="2.5" height="1.5" class="v33"/><rect x="11" y="3" width="1.5" height="1.5" class="v28"/><rect x="12" y="3" width="1.5" height="1.5" class="v26"/><rect x="13" y="3" width="1.5" height="1.5" class="v25"/><rect x="14" y="3" width="1.5" height="1.5" class="v21"/><rect x="15" y="3" width="4.5" height="1.5" class="v18"/><rect x="19" y="3" width="2.5" height="1.5" class="v20"/><rect x="21" y="3" width="1.5" height="1.5" class="v18"/><rect x="22" y="3" width="1.5" height="1.5" class="v19"/><rect x="23" y="3" width="1" height="1.5" class="v21"/><rect x="0" y="4" width="1.5" height="1.5" class="v20"/><rect x="1" y="4" width="1.5" height="1.5" class="v27"/><rect x="2" y="4" width="1.5" height="1.5" class="v28"/><rect x="3" y="4" width="1.5" height="1.5" class="v25"/><rect x="4" y="4" width="1.5" height="1.5" class="v18"/><rect x="5" y="4" width="1.5" height="1.5" class="v13"/><rect x="6" y="4" width="1.5" height="1.5" class="v14"/><rect x="7" y="4" width="2.5" height="1.5" class="v9"/><rect x="9" y="4" width="1.5" height="1.5" class="v24"/><rect x="10" y="4" width="1.5" height="1.5" class="v26"/><rect x="11" y="4" width="1.5" height="1.5" class="v25"/><rect x="12" y="4" width="1.5" height="1.5" class="v31"/><rect x="13" y="4" width="2.5" height="1.5" class="v29"/><rect x="15" y="4" width="1.5" height="1.5" class="v31"/><rect x="16" y="4" width="1.5" height="1.5" class="v30"/><rect x="17" y="4" width="3.5" height="1.5" class="v33"/><rect x="20" y="4" width="1.5" height="1.5" class="v35"/><rect x="21" y="4" width="1.5" height="1.5" class="v28"/><rect x="22" y="4" width="1.5" height="1.5" class="v27"/><rect x="23" y="4" width="1" height="1.5" class="v25"/><rect x="0" y="5" width="1.5" height="1.5" class="v26"/><rect x="1" y="5" width="1.5" height="1.5" class="v21"/><rect x="2" y="5" width="2.5" height="1.5" class="v20"/><rect x="4" y="5" width="1.5" height="1.5" class="v16"/><rect x="5" y="5" width="1.5" height="1.5" class="v15"/><rect x="6" y="5" width="1.5" height="1.5" class="v12"/><rect x="7" y="5" width="1.5" height="1.5" class="v14"/><rect x="8" y="5" width="1.5" height="1.5" class="v11"/><rect x="9" y="5" width="1.5" height="1.5" class="v12"/><rect x="10" y="5" width="1.5" height="1.5" class="v14"/><rect x="11" y="5" width="1.5" height="1.5" class="v13"/><rect x="12" y="5" width="1.5" height="1.5" class="v12"/><rect x="13" y="5" width="1.5" height="1.5" class="v18"/><rect x="14" y="5" width="1.5" height="1.5" class="v20"/><rect x="15" y="5" width="1.5" height="1.5" class="v21"/><rect x="16" y="5" width="2.5" height="1.5" class="v23"/><rect x="18" y="5" width="1.5" height="1.5" class="v21"/><rect x="19" y="5" width="1.5" height="1.5" class="v24"/><rect x="20" y="5" width="1.5" height="1.5" class="v21"/><rect x="21" y="5" width="1.5" height="1.5" class="v24"/><rect x="22" y="5" width="1.5" height="1.5" class="v21"/><rect x="23" y="5" width="1" height="1.5" class="v18"/><rect x="0" y="6" width="1.5" height="1.5" class="v11"/><rect x="1" y="6" width="1.5" height="1.5" class="v15"/><rect x="2" y="6" width="2.5" height="1.5" class="v18"/><rect x="4" y="6" width="2.5" height="1.5" class="v16"/><rect x="6" y="6" width="1.5" height="1.5" class="v9"/><rect x="7" y="6" width="2.5" height="1.5" class="v12"/><rect x="9" y="6" width="2.5" height="1.5" class="v7"/><rect x="11" y="6" width="1.5" height="1.5" class="v12"/><rect x="12" y="6" width="1.5" height="1.5" class="v9"/><rect x="13" y="6" width="1.5" height="1.5" class="v7"/><rect x="14" y="6" width="2.5" height="1.5" class="v12"/><rect x="16" y="6" width="2.5" height="1.5" class="v16"/><rect x="18" y="6" width="1.5" height="1.5" class="v17"/><rect x="19" y="6" width="3.5" height="1.5" class="v18"/><rect x="22" y="6" width="1.5" height="1.5" class="v24"/><rect x="23" y="6" width="1" height="1.5" class="v14"/><rect x="0" y="7" width="1.5" height="1.5" class="v26"/><rect x="1" y="7" width="1.5" height="1.5" class="v24"/><rect x="2" y="7" width="1.5" height="1.5" class="v25"/><rect x="3" y="7" width="1.5" height="1.5" class="v24"/><rect x="4" y="7" width="3.5" height="1.5" class="v23"/><rect x="7" y="7" width="1.5" height="1.5" class="v21"/><rect x="8" y="7" width="1.5" height="1.5" class="v26"/><rect x="9" y="7" width="2.5" height="1.5" class="v24"/><rect x="11" y="7" width="2.5" height="1.5" class="v23"/><rect x="13" y="7" width="3.5" height="1.5" class="v24"/><rect x="16" y="7" width="1.5" height="1.5" class="v26"/><rect x="17" y="7" width="1.5" height="1.5" class="v27"/><rect x="18" y="7" width="2.5" height="1.5" class="v28"/><rect x="20" y="7" width="1.5" height="1.5" class="v24"/><rect x="21" y="7" width="1.5" height="1.5" class="v29"/><rect x="22" y="7" width="2" height="1.5" class="v30"/><rect x="0" y="8" width="1.5" height="1.5" class="v20"/><rect x="1" y="8" width="1.5" height="1.5" class="v29"/><rect x="2" y="8" width="1.5" height="1.5" class="v31"/><rect x="3" y="8" width="1.5" height="1.5" class="v32"/><rect x="4" y="8" width="1.5" height="1.5" class="v31"/><rect x="5" y="8" width="1.5" height="1.5" class="v29"/><rect x="6" y="8" width="1.5" height="1.5" class="v28"/><rect x="7" y="8" width="1.5" height="1.5" class="v24"/><rect x="8" y="8" width="2.5" height="1.5" class="v23"/><rect x="10" y="8" width="2.5" height="1.5" class="v27"/><rect x="12" y="8" width="2.5" height="1.5" class="v23"/><rect x="14" y="8" width="3.5" height="1.5" class="v20"/><rect x="17" y="8" width="1.5" height="1.5" class="v21"/><rect x="18" y="8" width="1.5" height="1.5" class="v24"/><rect x="19" y="8" width="1.5" height="1.5" class="v18"/><rect x="20" y="8" width="1.5" height="1.5" class="v15"/><rect x="21" y="8" width="1.5" height="1.5" class="v16"/><rect x="22" y="8" width="2" height="1.5" class="v18"/><rect x="0" y="9" width="1.5" height="1.5" class="v24"/><rect x="1" y="9" width="1.5" height="1.5" class="v33"/><rect x="2" y="9" width="1.5" height="1.5" class="v31"/><rect x="3" y="9" width="1.5" height="1.5" class="v28"/><rect x="4" y="9" width="2.5" height="1.5" class="v25"/><rect x="6" y="9" width="2.5" height="1.5" class="v21"/><rect x="8" y="9" width="1.5" height="1.5" class="v20"/><rect x="9" y="9" width="2.5" height="1.5" class="v21"/><rect x="11" y="9" width="1.5" height="1.5" class="v15"/><rect x="12" y="9" width="1.5" height="1.5" class="v14"/><rect x="13" y="9" width="1.5" height="1.5" class="v15"/><rect x="14" y="9" width="2.5" height="1.5" class="v20"/><rect x="16" y="9" width="1.5" height="1.5" class="v19"/><rect x="17" y="9" width="1.5" height="1.5" class="v18"/><rect x="18" y="9" width="1.5" height="1.5" class="v19"/><rect x="19" y="9" width="1.5" height="1.5" class="v18"/><rect x="20" y="9" width="1.5" height="1.5" class="v14"/><rect x="21" y="9" width="2.5" height="1.5" class="v9"/><rect x="23" y="9" width="1" height="1.5" class="v12"/><rect x="0" y="10" width="1.5" height="1.5" class="v18"/><rect x="1" y="10" width="1.5" height="1.5" class="v21"/><rect x="2" y="10" width="1.5" height="1.5" class="v24"/><rect x="3" y="10" width="3.5" height="1.5" class="v29"/><rect x="6" y="10" width="1.5" height="1.5" class="v32"/><rect x="7" y="10" width="2.5" height="1.5" class="v26"/><rect x="9" y="10" width="1.5" height="1.5" class="v25"/><rect x="10" y="10" width="1.5" height="1.5" class="v28"/><rect x="11" y="10" width="1.5" height="1.5" class="v31"/><rect x="12" y="10" width="1.5" height="1.5" class="v25"/><rect x="13" y="10" width="1.5" height="1.5" class="v24"/><rect x="14" y="10" width="1.5" height="1.5" class="v26"/><rect x="15" y="10" width="1.5" height="1.5" class="v24"/><rect x="16" y="10" width="1.5" height="1.5" class="v21"/><rect x="17" y="10" width="1.5" height="1.5" class="v19"/><rect x="18" y="10" width="1.5" height="1.5" class="v21"/><rect x="19" y="10" width="1.5" height="1.5" class="v23"/><rect x="20" y="10" width="3.5" height="1.5" class="v24"/><rect x="23" y="10" width="1" height="1.5" class="v21"/><rect x="0" y="11" width="1.5" height="1" class="v11"/><rect x="1" y="11" width="1.5" height="1" class="v24"/><rect x="2" y="11" width="1.5" height="1" class="v32"/><rect x="3" y="11" width="2.5" height="1" class="v29"/><rect x="5" y="11" width="1.5" height="1" class="v32"/><rect x="6" y="11" width="1.5" height="1" class="v33"/><rect x="7" y="11" width="2.5" height="1" class="v28"/><rect x="9" y="11" width="1.5" height="1" class="v27"/><rect x="10" y="11" width="1.5" height="1" class="v23"/><rect x="11" y="11" width="1.5" height="1" class="v24"/><rect x="12" y="11" width="1.5" height="1" class="v23"/><rect x="13" y="11" width="1.5" height="1" class="v21"/><rect x="14" y="11" width="1.5" height="1" class="v23"/><rect x="15" y="11" width="1.5" height="1" class="v21"/><rect x="16" y="11" width="1.5" height="1" class="v28"/><rect x="17" y="11" width="1.5" height="1" class="v26"/><rect x="18" y="11" width="2.5" height="1" class="v28"/><rect x="20" y="11" width="1.5" height="1" class="v25"/><rect x="21" y="11" width="1.5" height="1" class="v24"/><rect x="22" y="11" width="2" height="1" class="v18"/><ellipse cx="5.500" cy="0.500" rx="0.111" ry="0.173" fill="#000" shape-rendering="auto"/><ellipse cx="7.500" cy="1.500" rx="0.111" ry="0.173" fill="#000" shape-rendering="auto"/><ellipse cx="23.500" cy="2.500" rx="0.111" ry="0.173" fill="#000" shape-rendering="auto"/><ellipse cx="7.500" cy="3.500" rx="0.111" ry="0.173" fill="#000" shape-rendering="auto"/><ellipse cx="20.500" cy="4.500" rx="0.111" ry="0.173" fill="#000" shape-rendering="auto"/><ellipse cx="0.500" cy="5.500" rx="0.111" ry="0.173" fill="#000" shape-rendering="auto"/><ellipse cx="22.500" cy="6.500" rx="0.111" ry="0.173" fill="#000" shape-rendering="auto"/><ellipse cx="22.500" cy="7.500" rx="0.111" ry="0.173" fill="#000" shape-rendering="auto"/><ellipse cx="3.500" cy="8.500" rx="0.111" ry="0.173" fill="#000" shape-rendering="auto"/><ellipse cx="1.500" cy="9.500" rx="0.111" ry="0.173" fill="#000" shape-rendering="auto"/><ellipse cx="6.500" cy="10.500" rx="0.111" ry="0.173" fill="#000" shape-rendering="auto"/><ellipse cx="6.500" cy="11.500" rx="0.111" ry="0.173" fill="#000" shape-rendering="auto"/></svg>
<div class="t mb" style="right:1300.30px;top:789.80px">Jan</div>
<div class="t mb" style="right:1300.30px;top:816.98px">Mar</div>
<div class="t mb" style="right:1300.30px;top:844.16px">May</div>
<div class="t mb" style="right:1300.30px;top:871.35px">Jul</div>
<div class="t mb" style="right:1300.30px;top:898.53px">Sep</div>
<div class="t mb" style="right:1300.30px;top:925.71px">Nov</div>
<div class="t pl" style="left:19.60px;top:860.70px">(A)</div>
<div class="t tk" style="left:107.48px;top:955.07px;width:40px;margin-left:-20px;text-align:center">&#160;1</div>
<div class="t tk" style="left:149.79px;top:955.07px;width:40px;margin-left:-20px;text-align:center">&#160;3</div>
<div class="t tk" style="left:192.09px;top:955.07px;width:40px;margin-left:-20px;text-align:center">&#160;5</div>
<div class="t tk" style="left:234.40px;top:955.07px;width:40px;margin-left:-20px;text-align:center">&#160;7</div>
<div class="t tk" style="left:276.71px;top:955.07px;width:40px;margin-left:-20px;text-align:center">&#160;9</div>
<div class="t tk" style="left:319.02px;top:955.07px;width:40px;margin-left:-20px;text-align:center">11</div>
<div class="t tk" style="left:361.33px;top:955.07px;width:40px;margin-left:-20px;text-align:center">13</div>
<div class="t tk" style="left:403.64px;top:955.07px;width:40px;margin-left:-20px;text-align:center">15</div>
<div class="t tk" style="left:445.94px;top:955.07px;width:40px;margin-left:-20px;text-align:center">17</div>
<div class="t tk" style="left:488.25px;top:955.07px;width:40px;margin-left:-20px;text-align:center">19</div>
<div class="t tk" style="left:530.56px;top:955.07px;width:40px;margin-left:-20px;text-align:center">21</div>
<div class="t tk" style="left:572.87px;top:955.07px;width:40px;margin-left:-20px;text-align:center">23</div>
<svg class="hm" style="left:96.90px;top:1032.70px;width:507.70px;height:162.30px" viewBox="0 0 24 12" preserveAspectRatio="none"><rect x="0" y="0" width="1.5" height="1.5" class="v27"/><rect x="1" y="0" width="1.5" height="1.5" class="v21"/><rect x="2" y="0" width="1.5" height="1.5" class="v23"/><rect x="3" y="0" width="1.5" height="1.5" class="v26"/><rect x="4" y="0" width="1.5" height="1.5" class="v29"/><rect x="5" y="0" width="1.5" height="1.5" class="v31"/><rect x="6" y="0" width="1.5" height="1.5" class="v33"/><rect x="7" y="0" width="1.5" height="1.5" class="v32"/><rect x="8" y="0" width="1.5" height="1.5" class="v33"/><rect x="9" y="0" width="2.5" height="1.5" class="v32"/><rect x="11" y="0" width="4.5" height="1.5" class="v31"/><rect x="15" y="0" width="3.5" height="1.5" class="v30"/><rect x="18" y="0" width="1.5" height="1.5" class="v29"/><rect x="19" y="0" width="2.5" height="1.5" class="v28"/><rect x="21" y="0" width="1.5" height="1.5" class="v26"/><rect x="22" y="0" width="1.5" height="1.5" class="v27"/><rect x="23" y="0" width="1" height="1.5" class="v24"/><rect x="0" y="1" width="1.5" height="1.5" class="v20"/><rect x="1" y="1" width="1.5" height="1.5" class="v25"/><rect x="2" y="1" width="1.5" height="1.5" class="v20"/><rect x="3" y="1" width="2.5" height="1.5" class="v22"/><rect x="5" y="1" width="1.5" height="1.5" class="v29"/><rect x="6" y="1" width="1.5" height="1.5" class="v31"/><rect x="7" y="1" width="2.5" height="1.5" class="v32"/><rect x="9" y="1" width="1.5" height="1.5" class="v33"/><rect x="10" y="1" width="1.5" height="1.5" class="v32"/><rect x="11" y="1" width="5.5" height="1.5" class="v31"/><rect x="16" y="1" width="2.5" height="1.5" class="v30"/><rect x="18" y="1" width="1.5" height="1.5" class="v29"/><rect x="19" y="1" width="2.5" height="1.5" class="v28"/><rect x="21" y="1" width="1.5" height="1.5" class="v29"/><rect x="22" y="1" width="1.5" height="1.5" class="v28"/><rect x="23" y="1" width="1" height="1.5" class="v26"/><rect x="0" y="2" width="1.5" height="1.5" class="v20"/><rect x="1" y="2" width="3.5" height="1.5" class="v21"/><rect x="4" y="2" width="1.5" height="1.5" class="v22"/><rect x="5" y="2" width="1.5" height="1.5" class="v23"/><rect x="6" y="2" width="1.5" height="1.5" class="v25"/><rect x="7" y="2" width="2.5" height="1.5" class="v32"/><rect x="9" y="2" width="1.5" height="1.5" class="v33"/><rect x="10" y="2" width="1.5" height="1.5" class="v32"/><rect x="11" y="2" width="1.5" height="1.5" class="v33"/><rect x="12" y="2" width="2.5" height="1.5" class="v32"/><rect x="14" y="2" width="2.5" height="1.5" class="v33"/><rect x="16" y="2" width="1.5" height="1.5" class="v32"/><rect x="17" y="2" width="2.5" height="1.5" class="v31"/><rect x="19" y="2" width="1.5" height="1.5" class="v30"/><rect x="20" y="2" width="2.5" height="1.5" class="v28"/><rect x="22" y="2" width="1.5" height="1.5" class="v29"/><rect x="23" y="2" width="1" height="1.5" class="v26"/><rect x="0" y="3" width="1.5" height="1.5" class="v27"/><rect x="1" y="3" width="1.5" height="1.5" class="v24"/><rect x="2" y="3" width="1.5" height="1.5" class="v26"/><rect x="3" y="3" width="1.5" height="1.5" class="v27"/><rect x="4" y="3" width="2.5" height="1.5" class="v25"/><rect x="6" y="3" width="1.5" height="1.5" class="v27"/><rect x="7" y="3" width="1.5" height="1.5" class="v26"/><rect x="8" y="3" width="1.5" height="1.5" class="v33"/><rect x="9" y="3" width="1.5" height="1.5" class="v34"/><rect x="10" y="3" width="1.5" height="1.5" class="v33"/><rect x="11" y="3" width="1.5" height="1.5" class="v34"/><rect x="12" y="3" width="1.5" height="1.5" class="v33"/><rect x="13" y="3" width="2.5" height="1.5" class="v32"/><rect x="15" y="3" width="2.5" height="1.5" class="v33"/><rect x="17" y="3" width="2.5" height="1.5" class="v31"/><rect x="19" y="3" width="2.5" height="1.5" class="v29"/><rect x="21" y="3" width="2.5" height="1.5" class="v28"/><rect x="23" y="3" width="1" height="1.5" class="v29"/><rect x="0" y="4" width="1.5" height="1.5" class="v15"/><rect x="1" y="4" width="1.5" height="1.5" class="v18"/><rect x="2" y="4" width="1.5" height="1.5" class="v21"/><rect x="3" y="4" width="1.5" height="1.5" class="v20"/><rect x="4" y="4" width="1.5" height="1.5" class="v22"/><rect x="5" y="4" width="3.5" height="1.5" class="v21"/><rect x="8" y="4" width="1.5" height="1.5" class="v25"/><rect x="9" y="4" width="1.5" height="1.5" class="v30"/><rect x="10" y="4" width="1.5" height="1.5" class="v31"/><rect x="11" y="4" width="2.5" height="1.5" class="v32"/><rect x="13" y="4" width="1.5" height="1.5" class="v31"/><rect x="14" y="4" width="4.5" height="1.5" class="v30"/><rect x="18" y="4" width="1.5" height="1.5" class="v29"/><rect x="19" y="4" width="1.5" height="1.5" class="v28"/><rect x="20" y="4" width="1.5" height="1.5" class="v29"/><rect x="21" y="4" width="1.5" height="1.5" class="v28"/><rect x="22" y="4" width="1.5" height="1.5" class="v25"/><rect x="23" y="4" width="1" height="1.5" class="v24"/><rect x="0" y="5" width="1.5" height="1.5" class="v24"/><rect x="1" y="5" width="1.5" height="1.5" class="v26"/><rect x="2" y="5" width="1.5" height="1.5" class="v27"/><rect x="3" y="5" width="2.5" height="1.5" class="v28"/><rect x="5" y="5" width="1.5" height="1.5" class="v29"/><rect x="6" y="5" width="1.5" height="1.5" class="v28"/><rect x="7" y="5" width="1.5" height="1.5" class="v29"/><rect x="8" y="5" width="2.5" height="1.5" class="v26"/><rect x="10" y="5" width="3.5" height="1.5" class="v28"/><rect x="13" y="5" width="1.5" height="1.5" class="v26"/><rect x="14" y="5" width="1.5" height="1.5" class="v27"/><rect x="15" y="5" width="1.5" height="1.5" class="v26"/><rect x="16" y="5" width="1.5" height="1.5" class="v25"/><rect x="17" y="5" width="1.5" height="1.5" class="v28"/><rect x="18" y="5" width="2.5" height="1.5" class="v26"/><rect x="20" y="5" width="1.5" height="1.5" class="v24"/><rect x="21" y="5" width="1.5" height="1.5" class="v26"/><rect x="22" y="5" width="1.5" height="1.5" class="v23"/><rect x="23" y="5" width="1" height="1.5" class="v21"/><rect x="0" y="6" width="1.5" height="1.5" class="v33"/><rect x="1" y="6" width="1.5" height="1.5" class="v31"/><rect x="2" y="6" width="1.5" height="1.5" class="v28"/><rect x="3" y="6" width="1.5" height="1.5" class="v27"/><rect x="4" y="6" width="1.5" height="1.5" class="v26"/><rect x="5" y="6" width="1.5" height="1.5" class="v27"/><rect x="6" y="6" width="2.5" height="1.5" class="v26"/><rect x="8" y="6" width="2.5" height="1.5" class="v25"/><rect x="10" y="6" width="1.5" height="1.5" class="v24"/><rect x="11" y="6" width="1.5" height="1.5" class="v26"/><rect x="12" y="6" width="1.5" height="1.5" class="v28"/><rect x="13" y="6" width="2.5" height="1.5" class="v30"/><rect x="15" y="6" width="1.5" height="1.5" class="v29"/><rect x="16" y="6" width="1.5" height="1.5" class="v30"/><rect x="17" y="6" width="2.5" height="1.5" class="v29"/><rect x="19" y="6" width="1.5" height="1.5" class="v30"/><rect x="20" y="6" width="1.5" height="1.5" class="v28"/><rect x="21" y="6" width="1.5" height="1.5" class="v26"/><rect x="22" y="6" width="1.5" height="1.5" class="v24"/><rect x="23" y="6" width="1" height="1.5" class="v23"/><rect x="0" y="7" width="1.5" height="1.5" class="v32"/><rect x="1" y="7" width="1.5" height="1.5" class="v34"/><rect x="2" y="7" width="1.5" height="1.5" class="v31"/><rect x="3" y="7" width="1.5" height="1.5" class="v32"/><rect x="4" y="7" width="1.5" height="1.5" class="v33"/><rect x="5" y="7" width="2.5" height="1.5" class="v34"/><rect x="7" y="7" width="1.5" height="1.5" class="v31"/><rect x="8" y="7" width="1.5" height="1.5" class="v32"/><rect x="9" y="7" width="1.5" height="1.5" class="v33"/><rect x="10" y="7" width="1.5" height="1.5" class="v31"/><rect x="11" y="7" width="1.5" height="1.5" class="v26"/><rect x="12" y="7" width="2.5" height="1.5" class="v23"/><rect x="14" y="7" width="1.5" height="1.5" class="v24"/><rect x="15" y="7" width="1.5" height="1.5" class="v23"/><rect x="16" y="7" width="1.5" height="1.5" class="v22"/><rect x="17" y="7" width="1.5" height="1.5" class="v21"/><rect x="18" y="7" width="1.5" height="1.5" class="v22"/><rect x="19" y="7" width="1.5" height="1.5" class="v24"/><rect x="20" y="7" width="1.5" height="1.5" class="v23"/><rect x="21" y="7" width="2.5" height="1.5" class="v22"/><rect x="23" y="7" width="1" height="1.5" class="v18"/><rect x="0" y="8" width="1.5" height="1.5" class="v34"/><rect x="1" y="8" width="2.5" height="1.5" class="v33"/><rect x="3" y="8" width="8.5" height="1.5" class="v31"/><rect x="11" y="8" width="1.5" height="1.5" class="v32"/><rect x="12" y="8" width="1.5" height="1.5" class="v30"/><rect x="13" y="8" width="1.5" height="1.5" class="v29"/><rect x="14" y="8" width="3.5" height="1.5" class="v32"/><rect x="17" y="8" width="1.5" height="1.5" class="v31"/><rect x="18" y="8" width="1.5" height="1.5" class="v32"/><rect x="19" y="8" width="1.5" height="1.5" class="v31"/><rect x="20" y="8" width="2.5" height="1.5" class="v32"/><rect x="22" y="8" width="1.5" height="1.5" class="v31"/><rect x="23" y="8" width="1" height="1.5" class="v26"/><rect x="0" y="9" width="1.5" height="1.5" class="v24"/><rect x="1" y="9" width="1.5" height="1.5" class="v31"/><rect x="2" y="9" width="1.5" height="1.5" class="v32"/><rect x="3" y="9" width="1.5" height="1.5" class="v34"/><rect x="4" y="9" width="2.5" height="1.5" class="v33"/><rect x="6" y="9" width="2.5" height="1.5" class="v34"/><rect x="8" y="9" width="5.5" height="1.5" class="v35"/><rect x="13" y="9" width="1.5" height="1.5" class="v34"/><rect x="14" y="9" width="1.5" height="1.5" class="v32"/><rect x="15" y="9" width="2.5" height="1.5" class="v33"/><rect x="17" y="9" width="1.5" height="1.5" class="v34"/><rect x="18" y="9" width="1.5" height="1.5" class="v35"/><rect x="19" y="9" width="1.5" height="1.5" class="v34"/><rect x="20" y="9" width="1.5" height="1.5" class="v32"/><rect x="21" y="9" width="1.5" height="1.5" class="v35"/><rect x="22" y="9" width="1.5" height="1.5" class="v32"/><rect x="23" y="9" width="1" height="1.5" class="v35"/><rect x="0" y="10" width="1.5" height="1.5" class="v23"/><rect x="1" y="10" width="1.5" height="1.5" class="v24"/><rect x="2" y="10" width="1.5" height="1.5" class="v31"/><rect x="3" y="10" width="1.5" height="1.5" class="v32"/><rect x="4" y="10" width="1.5" height="1.5" class="v34"/><rect x="5" y="10" width="1.5" height="1.5" class="v33"/><rect x="6" y="10" width="1.5" height="1.5" class="v32"/><rect x="7" y="10" width="2.5" height="1.5" class="v34"/><rect x="9" y="10" width="5.5" height="1.5" class="v35"/><rect x="14" y="10" width="1.5" height="1.5" class="v34"/><rect x="15" y="10" width="1.5" height="1.5" class="v33"/><rect x="16" y="10" width="1.5" height="1.5" class="v34"/><rect x="17" y="10" width="1.5" height="1.5" class="v33"/><rect x="18" y="10" width="6" height="1.5" class="v35"/><rect x="0" y="11" width="1.5" height="1" class="v11"/><rect x="1" y="11" width="1.5" height="1" class="v16"/><rect x="2" y="11" width="1.5" height="1" class="v20"/><rect x="3" y="11" width="1.5" height="1" class="v30"/><rect x="4" y="11" width="1.5" height="1" class="v33"/><rect x="5" y="11" width="4.5" height="1" class="v34"/><rect x="9" y="11" width="6.5" height="1" class="v35"/><rect x="15" y="11" width="3.5" height="1" class="v34"/><rect x="18" y="11" width="4.5" height="1" class="v35"/><rect x="22" y="11" width="1.5" height="1" class="v32"/><rect x="23" y="11" width="1" height="1" class="v35"/><ellipse cx="6.500" cy="0.500" rx="0.111" ry="0.174" fill="#000" shape-rendering="auto"/><ellipse cx="9.500" cy="1.500" rx="0.111" ry="0.174" fill="#000" shape-rendering="auto"/><ellipse cx="15.500" cy="2.500" rx="0.111" ry="0.174" fill="#000" shape-rendering="auto"/><ellipse cx="9.500" cy="3.500" rx="0.111" ry="0.174" fill="#000" shape-rendering="auto"/><ellipse cx="12.500" cy="4.500" rx="0.111" ry="0.174" fill="#000" shape-rendering="auto"/><ellipse cx="5.500" cy="5.500" rx="0.111" ry="0.174" fill="#000" shape-rendering="auto"/><ellipse cx="0.500" cy="6.500" rx="0.111" ry="0.174" fill="#000" shape-rendering="auto"/><ellipse cx="1.500" cy="7.500" rx="0.111" ry="0.174" fill="#000" shape-rendering="auto"/><ellipse cx="0.500" cy="8.500" rx="0.111" ry="0.174" fill="#000" shape-rendering="auto"/><ellipse cx="12.500" cy="9.500" rx="0.111" ry="0.174" fill="#000" shape-rendering="auto"/><ellipse cx="13.500" cy="10.500" rx="0.111" ry="0.174" fill="#000" shape-rendering="auto"/><ellipse cx="14.500" cy="11.500" rx="0.111" ry="0.174" fill="#000" shape-rendering="auto"/></svg>
<div class="t mb" style="right:1300.30px;top:1032.06px">Jan</div>
<div class="t mb" style="right:1300.30px;top:1059.11px">Mar</div>
<div class="t mb" style="right:1300.30px;top:1086.16px">May</div>
<div class="t mb" style="right:1300.30px;top:1113.21px">Jul</div>
<div class="t mb" style="right:1300.30px;top:1140.26px">Sep</div>
<div class="t mb" style="right:1300.30px;top:1167.31px">Nov</div>
<div class="t pl" style="left:22.00px;top:1101.70px">(B)</div>
<div class="t tk" style="left:107.48px;top:1196.57px;width:40px;margin-left:-20px;text-align:center">&#160;1</div>
<div class="t tk" style="left:149.79px;top:1196.57px;width:40px;margin-left:-20px;text-align:center">&#160;3</div>
<div class="t tk" style="left:192.09px;top:1196.57px;width:40px;margin-left:-20px;text-align:center">&#160;5</div>
<div class="t tk" style="left:234.40px;top:1196.57px;width:40px;margin-left:-20px;text-align:center">&#160;7</div>
<div class="t tk" style="left:276.71px;top:1196.57px;width:40px;margin-left:-20px;text-align:center">&#160;9</div>
<div class="t tk" style="left:319.02px;top:1196.57px;width:40px;margin-left:-20px;text-align:center">11</div>
<div class="t tk" style="left:361.33px;top:1196.57px;width:40px;margin-left:-20px;text-align:center">13</div>
<div class="t tk" style="left:403.64px;top:1196.57px;width:40px;margin-left:-20px;text-align:center">15</div>
<div class="t tk" style="left:445.94px;top:1196.57px;width:40px;margin-left:-20px;text-align:center">17</div>
<div class="t tk" style="left:488.25px;top:1196.57px;width:40px;margin-left:-20px;text-align:center">19</div>
<div class="t tk" style="left:530.56px;top:1196.57px;width:40px;margin-left:-20px;text-align:center">21</div>
<div class="t tk" style="left:572.87px;top:1196.57px;width:40px;margin-left:-20px;text-align:center">23</div>
<svg class="hm" style="left:96.90px;top:1274.20px;width:507.70px;height:162.90px" viewBox="0 0 24 12" preserveAspectRatio="none"><rect x="0" y="0" width="1.5" height="1.5" class="v27"/><rect x="1" y="0" width="1.5" height="1.5" class="v31"/><rect x="2" y="0" width="1.5" height="1.5" class="v34"/><rect x="3" y="0" width="1.5" height="1.5" class="v29"/><rect x="4" y="0" width="1.5" height="1.5" class="v24"/><rect x="5" y="0" width="1.5" height="1.5" class="v19"/><rect x="6" y="0" width="1.5" height="1.5" class="v15"/><rect x="7" y="0" width="1.5" height="1.5" class="v16"/><rect x="8" y="0" width="1.5" height="1.5" class="v15"/><rect x="9" y="0" width="2.5" height="1.5" class="v13"/><rect x="11" y="0" width="1.5" height="1.5" class="v12"/><rect x="12" y="0" width="2.5" height="1.5" class="v16"/><rect x="14" y="0" width="1.5" height="1.5" class="v15"/><rect x="15" y="0" width="1.5" height="1.5" class="v16"/><rect x="16" y="0" width="1.5" height="1.5" class="v12"/><rect x="17" y="0" width="1.5" height="1.5" class="v13"/><rect x="18" y="0" width="3.5" height="1.5" class="v15"/><rect x="21" y="0" width="1.5" height="1.5" class="v14"/><rect x="22" y="0" width="1.5" height="1.5" class="v15"/><rect x="23" y="0" width="1" height="1.5" class="v14"/><rect x="0" y="1" width="1.5" height="1.5" class="v31"/><rect x="1" y="1" width="1.5" height="1.5" class="v29"/><rect x="2" y="1" width="1.5" height="1.5" class="v27"/><rect x="3" y="1" width="1.5" height="1.5" class="v31"/><rect x="4" y="1" width="1.5" height="1.5" class="v32"/><rect x="5" y="1" width="1.5" height="1.5" class="v28"/><rect x="6" y="1" width="4.5" height="1.5" class="v29"/><rect x="10" y="1" width="1.5" height="1.5" class="v26"/><rect x="11" y="1" width="3.5" height="1.5" class="v24"/><rect x="14" y="1" width="1.5" height="1.5" class="v26"/><rect x="15" y="1" width="2.5" height="1.5" class="v24"/><rect x="17" y="1" width="1.5" height="1.5" class="v21"/><rect x="18" y="1" width="2.5" height="1.5" class="v20"/><rect x="20" y="1" width="2.5" height="1.5" class="v21"/><rect x="22" y="1" width="2" height="1.5" class="v20"/><rect x="0" y="2" width="1.5" height="1.5" class="v26"/><rect x="1" y="2" width="1.5" height="1.5" class="v23"/><rect x="2" y="2" width="1.5" height="1.5" class="v16"/><rect x="3" y="2" width="1.5" height="1.5" class="v20"/><rect x="4" y="2" width="1.5" height="1.5" class="v16"/><rect x="5" y="2" width="1.5" height="1.5" class="v23"/><rect x="6" y="2" width="1.5" height="1.5" class="v27"/><rect x="7" y="2" width="1.5" height="1.5" class="v25"/><rect x="8" y="2" width="1.5" height="1.5" class="v24"/><rect x="9" y="2" width="1.5" height="1.5" class="v25"/><rect x="10" y="2" width="1.5" height="1.5" class="v24"/><rect x="11" y="2" width="1.5" height="1.5" class="v23"/><rect x="12" y="2" width="1.5" height="1.5" class="v24"/><rect x="13" y="2" width="1.5" height="1.5" class="v23"/><rect x="14" y="2" width="1.5" height="1.5" class="v22"/><rect x="15" y="2" width="1.5" height="1.5" class="v23"/><rect x="16" y="2" width="1.5" height="1.5" class="v21"/><rect x="17" y="2" width="1.5" height="1.5" class="v23"/><rect x="18" y="2" width="1.5" height="1.5" class="v24"/><rect x="19" y="2" width="1.5" height="1.5" class="v28"/><rect x="20" y="2" width="3.5" height="1.5" class="v29"/><rect x="23" y="2" width="1" height="1.5" class="v27"/><rect x="0" y="3" width="1.5" height="1.5" class="v30"/><rect x="1" y="3" width="1.5" height="1.5" class="v24"/><rect x="2" y="3" width="1.5" height="1.5" class="v21"/><rect x="3" y="3" width="1.5" height="1.5" class="v15"/><rect x="4" y="3" width="2.5" height="1.5" class="v12"/><rect x="6" y="3" width="1.5" height="1.5" class="v8"/><rect x="7" y="3" width="1.5" height="1.5" class="v5"/><rect x="8" y="3" width="2.5" height="1.5" class="v9"/><rect x="10" y="3" width="1.5" height="1.5" class="v11"/><rect x="11" y="3" width="1.5" height="1.5" class="v12"/><rect x="12" y="3" width="1.5" height="1.5" class="v15"/><rect x="13" y="3" width="2.5" height="1.5" class="v12"/><rect x="15" y="3" width="1.5" height="1.5" class="v11"/><rect x="16" y="3" width="1.5" height="1.5" class="v10"/><rect x="17" y="3" width="2.5" height="1.5" class="v11"/><rect x="19" y="3" width="1.5" height="1.5" class="v12"/><rect x="20" y="3" width="1.5" height="1.5" class="v13"/><rect x="21" y="3" width="2.5" height="1.5" class="v14"/><rect x="23" y="3" width="1" height="1.5" class="v10"/><rect x="0" y="4" width="1.5" height="1.5" class="v29"/><rect x="1" y="4" width="1.5" height="1.5" class="v31"/><rect x="2" y="4" width="1.5" height="1.5" class="v29"/><rect x="3" y="4" width="1.5" height="1.5" class="v28"/><rect x="4" y="4" width="1.5" height="1.5" class="v24"/><rect x="5" y="4" width="2.5" height="1.5" class="v18"/><rect x="7" y="4" width="1.5" height="1.5" class="v16"/><rect x="8" y="4" width="1.5" height="1.5" class="v11"/><rect x="9" y="4" width="1.5" height="1.5" class="v12"/><rect x="10" y="4" width="1.5" height="1.5" class="v11"/><rect x="11" y="4" width="1.5" height="1.5" class="v10"/><rect x="12" y="4" width="1.5" height="1.5" class="v11"/><rect x="13" y="4" width="1.5" height="1.5" class="v12"/><rect x="14" y="4" width="1.5" height="1.5" class="v11"/><rect x="15" y="4" width="1.5" height="1.5" class="v12"/><rect x="16" y="4" width="3.5" height="1.5" class="v14"/><rect x="19" y="4" width="1.5" height="1.5" class="v15"/><rect x="20" y="4" width="1.5" height="1.5" class="v16"/><rect x="21" y="4" width="1.5" height="1.5" class="v21"/><rect x="22" y="4" width="1.5" height="1.5" class="v22"/><rect x="23" y="4" width="1" height="1.5" class="v21"/><rect x="0" y="5" width="1.5" height="1.5" class="v28"/><rect x="1" y="5" width="1.5" height="1.5" class="v24"/><rect x="2" y="5" width="1.5" height="1.5" class="v23"/><rect x="3" y="5" width="1.5" height="1.5" class="v20"/><rect x="4" y="5" width="2.5" height="1.5" class="v18"/><rect x="6" y="5" width="1.5" height="1.5" class="v21"/><rect x="7" y="5" width="1.5" height="1.5" class="v20"/><rect x="8" y="5" width="1.5" height="1.5" class="v15"/><rect x="9" y="5" width="1.5" height="1.5" class="v18"/><rect x="10" y="5" width="1.5" height="1.5" class="v14"/><rect x="11" y="5" width="1.5" height="1.5" class="v13"/><rect x="12" y="5" width="1.5" height="1.5" class="v12"/><rect x="13" y="5" width="1.5" height="1.5" class="v11"/><rect x="14" y="5" width="1.5" height="1.5" class="v10"/><rect x="15" y="5" width="2.5" height="1.5" class="v9"/><rect x="17" y="5" width="1.5" height="1.5" class="v11"/><rect x="18" y="5" width="3.5" height="1.5" class="v10"/><rect x="21" y="5" width="1.5" height="1.5" class="v9"/><rect x="22" y="5" width="2" height="1.5" class="v11"/><rect x="0" y="6" width="1.5" height="1.5" class="v29"/><rect x="1" y="6" width="1.5" height="1.5" class="v31"/><rect x="2" y="6" width="1.5" height="1.5" class="v24"/><rect x="3" y="6" width="1.5" height="1.5" class="v21"/><rect x="4" y="6" width="1.5" height="1.5" class="v18"/><rect x="5" y="6" width="1.5" height="1.5" class="v16"/><rect x="6" y="6" width="1.5" height="1.5" class="v13"/><rect x="7" y="6" width="2.5" height="1.5" class="v11"/><rect x="9" y="6" width="1.5" height="1.5" class="v9"/><rect x="10" y="6" width="1.5" height="1.5" class="v10"/><rect x="11" y="6" width="1.5" height="1.5" class="v13"/><rect x="12" y="6" width="4.5" height="1.5" class="v14"/><rect x="16" y="6" width="3.5" height="1.5" class="v11"/><rect x="19" y="6" width="1.5" height="1.5" class="v12"/><rect x="20" y="6" width="1.5" height="1.5" class="v13"/><rect x="21" y="6" width="1.5" height="1.5" class="v12"/><rect x="22" y="6" width="1.5" height="1.5" class="v11"/><rect x="23" y="6" width="1" height="1.5" class="v15"/><rect x="0" y="7" width="1.5" height="1.5" class="v37"/><rect x="1" y="7" width="1.5" height="1.5" class="v39"/><rect x="2" y="7" width="1.5" height="1.5" class="v37"/><rect x="3" y="7" width="1.5" height="1.5" class="v33"/><rect x="4" y="7" width="2.5" height="1.5" class="v28"/><rect x="6" y="7" width="1.5" height="1.5" class="v27"/><rect x="7" y="7" width="1.5" height="1.5" class="v25"/><rect x="8" y="7" width="1.5" height="1.5" class="v27"/><rect x="9" y="7" width="2.5" height="1.5" class="v28"/><rect x="11" y="7" width="1.5" height="1.5" class="v31"/><rect x="12" y="7" width="1.5" height="1.5" class="v29"/><rect x="13" y="7" width="3.5" height="1.5" class="v30"/><rect x="16" y="7" width="1.5" height="1.5" class="v28"/><rect x="17" y="7" width="6.5" height="1.5" class="v24"/><rect x="23" y="7" width="1" height="1.5" class="v26"/><rect x="0" y="8" width="1.5" height="1.5" class="v39"/><rect x="1" y="8" width="1.5" height="1.5" class="v33"/><rect x="2" y="8" width="2.5" height="1.5" class="v31"/><rect x="4" y="8" width="2.5" height="1.5" class="v32"/><rect x="6" y="8" width="1.5" height="1.5" class="v29"/><rect x="7" y="8" width="1.5" height="1.5" class="v26"/><rect x="8" y="8" width="2.5" height="1.5" class="v25"/><rect x="10" y="8" width="2.5" height="1.5" class="v24"/><rect x="12" y="8" width="1.5" height="1.5" class="v21"/><rect x="13" y="8" width="3.5" height="1.5" class="v19"/><rect x="16" y="8" width="2.5" height="1.5" class="v21"/><rect x="18" y="8" width="1.5" height="1.5" class="v19"/><rect x="19" y="8" width="1.5" height="1.5" class="v18"/><rect x="20" y="8" width="1.5" height="1.5" class="v19"/><rect x="21" y="8" width="1.5" height="1.5" class="v18"/><rect x="22" y="8" width="1.5" height="1.5" class="v19"/><rect x="23" y="8" width="1" height="1.5" class="v20"/><rect x="0" y="9" width="1.5" height="1.5" class="v39"/><rect x="1" y="9" width="1.5" height="1.5" class="v31"/><rect x="2" y="9" width="2.5" height="1.5" class="v30"/><rect x="4" y="9" width="1.5" height="1.5" class="v31"/><rect x="5" y="9" width="1.5" height="1.5" class="v33"/><rect x="6" y="9" width="2.5" height="1.5" class="v35"/><rect x="8" y="9" width="1.5" height="1.5" class="v33"/><rect x="9" y="9" width="1.5" height="1.5" class="v35"/><rect x="10" y="9" width="1.5" height="1.5" class="v36"/><rect x="11" y="9" width="2.5" height="1.5" class="v34"/><rect x="13" y="9" width="1.5" height="1.5" class="v36"/><rect x="14" y="9" width="1.5" height="1.5" class="v32"/><rect x="15" y="9" width="1.5" height="1.5" class="v34"/><rect x="16" y="9" width="1.5" height="1.5" class="v31"/><rect x="17" y="9" width="1.5" height="1.5" class="v29"/><rect x="18" y="9" width="1.5" height="1.5" class="v28"/><rect x="19" y="9" width="2.5" height="1.5" class="v27"/><rect x="21" y="9" width="1.5" height="1.5" class="v28"/><rect x="22" y="9" width="1.5" height="1.5" class="v27"/><rect x="23" y="9" width="1" height="1.5" class="v26"/><rect x="0" y="10" width="1.5" height="1.5" class="v27"/><rect x="1" y="10" width="1.5" height="1.5" class="v28"/><rect x="2" y="10" width="1.5" height="1.5" class="v27"/><rect x="3" y="10" width="1.5" height="1.5" class="v33"/><rect x="4" y="10" width="2.5" height="1.5" class="v32"/><rect x="6" y="10" width="1.5" height="1.5" class="v31"/><rect x="7" y="10" width="1.5" height="1.5" class="v29"/><rect x="8" y="10" width="1.5" height="1.5" class="v28"/><rect x="9" y="10" width="3.5" height="1.5" class="v29"/><rect x="12" y="10" width="1.5" height="1.5" class="v30"/><rect x="13" y="10" width="1.5" height="1.5" class="v31"/><rect x="14" y="10" width="1.5" height="1.5" class="v28"/><rect x="15" y="10" width="1.5" height="1.5" class="v30"/><rect x="16" y="10" width="1.5" height="1.5" class="v31"/><rect x="17" y="10" width="1.5" height="1.5" class="v30"/><rect x="18" y="10" width="1.5" height="1.5" class="v31"/><rect x="19" y="10" width="5" height="1.5" class="v29"/><rect x="0" y="11" width="1.5" height="1" class="v39"/><rect x="1" y="11" width="1.5" height="1" class="v36"/><rect x="2" y="11" width="1.5" height="1" class="v31"/><rect x="3" y="11" width="1.5" height="1" class="v24"/><rect x="4" y="11" width="1.5" height="1" class="v21"/><rect x="5" y="11" width="1.5" height="1" class="v15"/><rect x="6" y="11" width="2.5" height="1" class="v18"/><rect x="8" y="11" width="1.5" height="1" class="v20"/><rect x="9" y="11" width="2.5" height="1" class="v22"/><rect x="11" y="11" width="1.5" height="1" class="v20"/><rect x="12" y="11" width="3.5" height="1" class="v21"/><rect x="15" y="11" width="1.5" height="1" class="v15"/><rect x="16" y="11" width="1.5" height="1" class="v16"/><rect x="17" y="11" width="1.5" height="1" class="v15"/><rect x="18" y="11" width="1.5" height="1" class="v16"/><rect x="19" y="11" width="1.5" height="1" class="v20"/><rect x="20" y="11" width="1.5" height="1" class="v22"/><rect x="21" y="11" width="1.5" height="1" class="v23"/><rect x="22" y="11" width="2" height="1" class="v25"/><ellipse cx="2.500" cy="0.500" rx="0.111" ry="0.173" fill="#000" shape-rendering="auto"/><ellipse cx="4.500" cy="1.500" rx="0.111" ry="0.173" fill="#000" shape-rendering="auto"/><ellipse cx="20.500" cy="2.500" rx="0.111" ry="0.173" fill="#000" shape-rendering="auto"/><ellipse cx="0.500" cy="3.500" rx="0.111" ry="0.173" fill="#000" shape-rendering="auto"/><ellipse cx="1.500" cy="4.500" rx="0.111" ry="0.173" fill="#000" shape-rendering="auto"/><ellipse cx="0.500" cy="5.500" rx="0.111" ry="0.173" fill="#000" shape-rendering="auto"/><ellipse cx="1.500" cy="6.500" rx="0.111" ry="0.173" fill="#000" shape-rendering="auto"/><ellipse cx="1.500" cy="7.500" rx="0.111" ry="0.173" fill="#000" shape-rendering="auto"/><ellipse cx="0.500" cy="8.500" rx="0.111" ry="0.173" fill="#000" shape-rendering="auto"/><ellipse cx="0.500" cy="9.500" rx="0.111" ry="0.173" fill="#000" shape-rendering="auto"/><ellipse cx="3.500" cy="10.500" rx="0.111" ry="0.173" fill="#000" shape-rendering="auto"/><ellipse cx="0.500" cy="11.500" rx="0.111" ry="0.173" fill="#000" shape-rendering="auto"/></svg>
<div class="t mb" style="right:1300.30px;top:1273.59px">Jan</div>
<div class="t mb" style="right:1300.30px;top:1300.74px">Mar</div>
<div class="t mb" style="right:1300.30px;top:1327.89px">May</div>
<div class="t mb" style="right:1300.30px;top:1355.04px">Jul</div>
<div class="t mb" style="right:1300.30px;top:1382.19px">Sep</div>
<div class="t mb" style="right:1300.30px;top:1409.34px">Nov</div>
<div class="t pl" style="left:18.90px;top:1344.40px">(C)</div>
<div class="t tk" style="left:107.48px;top:1438.67px;width:40px;margin-left:-20px;text-align:center">&#160;1</div>
<div class="t tk" style="left:149.79px;top:1438.67px;width:40px;margin-left:-20px;text-align:center">&#160;3</div>
<div class="t tk" style="left:192.09px;top:1438.67px;width:40px;margin-left:-20px;text-align:center">&#160;5</div>
<div class="t tk" style="left:234.40px;top:1438.67px;width:40px;margin-left:-20px;text-align:center">&#160;7</div>
<div class="t tk" style="left:276.71px;top:1438.67px;width:40px;margin-left:-20px;text-align:center">&#160;9</div>
<div class="t tk" style="left:319.02px;top:1438.67px;width:40px;margin-left:-20px;text-align:center">11</div>
<div class="t tk" style="left:361.33px;top:1438.67px;width:40px;margin-left:-20px;text-align:center">13</div>
<div class="t tk" style="left:403.64px;top:1438.67px;width:40px;margin-left:-20px;text-align:center">15</div>
<div class="t tk" style="left:445.94px;top:1438.67px;width:40px;margin-left:-20px;text-align:center">17</div>
<div class="t tk" style="left:488.25px;top:1438.67px;width:40px;margin-left:-20px;text-align:center">19</div>
<div class="t tk" style="left:530.56px;top:1438.67px;width:40px;margin-left:-20px;text-align:center">21</div>
<div class="t tk" style="left:572.87px;top:1438.67px;width:40px;margin-left:-20px;text-align:center">23</div>
<div class="t sc" style="left:340.70px;top:1461.39px;width:100px;margin-left:-50px;text-align:center">Scales</div>
<svg class="hm" style="left:746.60px;top:790.60px;width:507.60px;height:163.00px" viewBox="0 0 24 12" preserveAspectRatio="none"><rect x="0" y="0" width="1.5" height="1.5" class="v11"/><rect x="1" y="0" width="1.5" height="1.5" class="v16"/><rect x="2" y="0" width="1.5" height="1.5" class="v19"/><rect x="3" y="0" width="2.5" height="1.5" class="v18"/><rect x="5" y="0" width="1.5" height="1.5" class="v16"/><rect x="6" y="0" width="1.5" height="1.5" class="v15"/><rect x="7" y="0" width="1.5" height="1.5" class="v13"/><rect x="8" y="0" width="1.5" height="1.5" class="v15"/><rect x="9" y="0" width="1.5" height="1.5" class="v11"/><rect x="10" y="0" width="2.5" height="1.5" class="v12"/><rect x="12" y="0" width="1.5" height="1.5" class="v13"/><rect x="13" y="0" width="1.5" height="1.5" class="v12"/><rect x="14" y="0" width="1.5" height="1.5" class="v11"/><rect x="15" y="0" width="1.5" height="1.5" class="v10"/><rect x="16" y="0" width="1.5" height="1.5" class="v11"/><rect x="17" y="0" width="2.5" height="1.5" class="v13"/><rect x="19" y="0" width="1.5" height="1.5" class="v12"/><rect x="20" y="0" width="1.5" height="1.5" class="v14"/><rect x="21" y="0" width="1.5" height="1.5" class="v13"/><rect x="22" y="0" width="1.5" height="1.5" class="v15"/><rect x="23" y="0" width="1" height="1.5" class="v12"/><rect x="0" y="1" width="1.5" height="1.5" class="v37"/><rect x="1" y="1" width="1.5" height="1.5" class="v33"/><rect x="2" y="1" width="2.5" height="1.5" class="v27"/><rect x="4" y="1" width="2.5" height="1.5" class="v29"/><rect x="6" y="1" width="1.5" height="1.5" class="v33"/><rect x="7" y="1" width="2.5" height="1.5" class="v35"/><rect x="9" y="1" width="1.5" height="1.5" class="v34"/><rect x="10" y="1" width="1.5" height="1.5" class="v32"/><rect x="11" y="1" width="2.5" height="1.5" class="v31"/><rect x="13" y="1" width="1.5" height="1.5" class="v29"/><rect x="14" y="1" width="1.5" height="1.5" class="v30"/><rect x="15" y="1" width="2.5" height="1.5" class="v27"/><rect x="17" y="1" width="1.5" height="1.5" class="v24"/><rect x="18" y="1" width="1.5" height="1.5" class="v26"/><rect x="19" y="1" width="2.5" height="1.5" class="v23"/><rect x="21" y="1" width="1.5" height="1.5" class="v24"/><rect x="22" y="1" width="1.5" height="1.5" class="v21"/><rect x="23" y="1" width="1" height="1.5" class="v22"/><rect x="0" y="2" width="1.5" height="1.5" class="v29"/><rect x="1" y="2" width="1.5" height="1.5" class="v24"/><rect x="2" y="2" width="1.5" height="1.5" class="v20"/><rect x="3" y="2" width="1.5" height="1.5" class="v24"/><rect x="4" y="2" width="1.5" height="1.5" class="v28"/><rect x="5" y="2" width="1.5" height="1.5" class="v27"/><rect x="6" y="2" width="1.5" height="1.5" class="v28"/><rect x="7" y="2" width="1.5" height="1.5" class="v29"/><rect x="8" y="2" width="1.5" height="1.5" class="v24"/><rect x="9" y="2" width="1.5" height="1.5" class="v28"/><rect x="10" y="2" width="2.5" height="1.5" class="v23"/><rect x="12" y="2" width="1.5" height="1.5" class="v24"/><rect x="13" y="2" width="1.5" height="1.5" class="v28"/><rect x="14" y="2" width="1.5" height="1.5" class="v27"/><rect x="15" y="2" width="2.5" height="1.5" class="v26"/><rect x="17" y="2" width="2.5" height="1.5" class="v28"/><rect x="19" y="2" width="1.5" height="1.5" class="v25"/><rect x="20" y="2" width="2.5" height="1.5" class="v27"/><rect x="22" y="2" width="1.5" height="1.5" class="v29"/><rect x="23" y="2" width="1" height="1.5" class="v27"/><rect x="0" y="3" width="1.5" height="1.5" class="v31"/><rect x="1" y="3" width="1.5" height="1.5" class="v25"/><rect x="2" y="3" width="1.5" height="1.5" class="v21"/><rect x="3" y="3" width="1.5" height="1.5" class="v18"/><rect x="4" y="3" width="1.5" height="1.5" class="v20"/><rect x="5" y="3" width="1.5" height="1.5" class="v25"/><rect x="6" y="3" width="2.5" height="1.5" class="v28"/><rect x="8" y="3" width="1.5" height="1.5" class="v27"/><rect x="9" y="3" width="1.5" height="1.5" class="v25"/><rect x="10" y="3" width="1.5" height="1.5" class="v28"/><rect x="11" y="3" width="1.5" height="1.5" class="v24"/><rect x="12" y="3" width="1.5" height="1.5" class="v29"/><rect x="13" y="3" width="1.5" height="1.5" class="v26"/><rect x="14" y="3" width="1.5" height="1.5" class="v28"/><rect x="15" y="3" width="2.5" height="1.5" class="v24"/><rect x="17" y="3" width="1.5" height="1.5" class="v26"/><rect x="18" y="3" width="1.5" height="1.5" class="v28"/><rect x="19" y="3" width="3.5" height="1.5" class="v24"/><rect x="22" y="3" width="2" height="1.5" class="v25"/><rect x="0" y="4" width="1.5" height="1.5" class="v34"/><rect x="1" y="4" width="1.5" height="1.5" class="v24"/><rect x="2" y="4" width="1.5" height="1.5" class="v26"/><rect x="3" y="4" width="1.5" height="1.5" class="v21"/><rect x="4" y="4" width="1.5" height="1.5" class="v23"/><rect x="5" y="4" width="1.5" height="1.5" class="v24"/><rect x="6" y="4" width="1.5" height="1.5" class="v20"/><rect x="7" y="4" width="1.5" height="1.5" class="v18"/><rect x="8" y="4" width="3.5" height="1.5" class="v23"/><rect x="11" y="4" width="1.5" height="1.5" class="v21"/><rect x="12" y="4" width="2.5" height="1.5" class="v24"/><rect x="14" y="4" width="1.5" height="1.5" class="v25"/><rect x="15" y="4" width="2.5" height="1.5" class="v23"/><rect x="17" y="4" width="1.5" height="1.5" class="v24"/><rect x="18" y="4" width="1.5" height="1.5" class="v26"/><rect x="19" y="4" width="1.5" height="1.5" class="v25"/><rect x="20" y="4" width="1.5" height="1.5" class="v24"/><rect x="21" y="4" width="2.5" height="1.5" class="v20"/><rect x="23" y="4" width="1" height="1.5" class="v19"/><rect x="0" y="5" width="1.5" height="1.5" class="v38"/><rect x="1" y="5" width="1.5" height="1.5" class="v31"/><rect x="2" y="5" width="1.5" height="1.5" class="v34"/><rect x="3" y="5" width="1.5" height="1.5" class="v29"/><rect x="4" y="5" width="1.5" height="1.5" class="v34"/><rect x="5" y="5" width="1.5" height="1.5" class="v29"/><rect x="6" y="5" width="1.5" height="1.5" class="v28"/><rect x="7" y="5" width="1.5" height="1.5" class="v21"/><rect x="8" y="5" width="1.5" height="1.5" class="v24"/><rect x="9" y="5" width="1.5" height="1.5" class="v20"/><rect x="10" y="5" width="3.5" height="1.5" class="v24"/><rect x="13" y="5" width="1.5" height="1.5" class="v27"/><rect x="14" y="5" width="3.5" height="1.5" class="v25"/><rect x="17" y="5" width="2.5" height="1.5" class="v26"/><rect x="19" y="5" width="1.5" height="1.5" class="v25"/><rect x="20" y="5" width="1.5" height="1.5" class="v24"/><rect x="21" y="5" width="3" height="1.5" class="v28"/><rect x="0" y="6" width="1.5" height="1.5" class="v21"/><rect x="1" y="6" width="1.5" height="1.5" class="v24"/><rect x="2" y="6" width="1.5" height="1.5" class="v20"/><rect x="3" y="6" width="1.5" height="1.5" class="v24"/><rect x="4" y="6" width="1.5" height="1.5" class="v22"/><rect x="5" y="6" width="1.5" height="1.5" class="v27"/><rect x="6" y="6" width="2.5" height="1.5" class="v24"/><rect x="8" y="6" width="1.5" height="1.5" class="v25"/><rect x="9" y="6" width="2.5" height="1.5" class="v28"/><rect x="11" y="6" width="1.5" height="1.5" class="v27"/><rect x="12" y="6" width="2.5" height="1.5" class="v28"/><rect x="14" y="6" width="1.5" height="1.5" class="v29"/><rect x="15" y="6" width="2.5" height="1.5" class="v28"/><rect x="17" y="6" width="1.5" height="1.5" class="v27"/><rect x="18" y="6" width="1.5" height="1.5" class="v26"/><rect x="19" y="6" width="3.5" height="1.5" class="v22"/><rect x="22" y="6" width="1.5" height="1.5" class="v24"/><rect x="23" y="6" width="1" height="1.5" class="v26"/><rect x="0" y="7" width="1.5" height="1.5" class="v18"/><rect x="1" y="7" width="1.5" height="1.5" class="v24"/><rect x="2" y="7" width="1.5" height="1.5" class="v28"/><rect x="3" y="7" width="1.5" height="1.5" class="v29"/><rect x="4" y="7" width="2.5" height="1.5" class="v31"/><rect x="6" y="7" width="1.5" height="1.5" class="v29"/><rect x="7" y="7" width="1.5" height="1.5" class="v25"/><rect x="8" y="7" width="1.5" height="1.5" class="v24"/><rect x="9" y="7" width="1.5" height="1.5" class="v19"/><rect x="10" y="7" width="1.5" height="1.5" class="v18"/><rect x="11" y="7" width="1.5" height="1.5" class="v13"/><rect x="12" y="7" width="1.5" height="1.5" class="v12"/><rect x="13" y="7" width="1.5" height="1.5" class="v15"/><rect x="14" y="7" width="1.5" height="1.5" class="v11"/><rect x="15" y="7" width="1.5" height="1.5" class="v14"/><rect x="16" y="7" width="2.5" height="1.5" class="v15"/><rect x="18" y="7" width="1.5" height="1.5" class="v13"/><rect x="19" y="7" width="2.5" height="1.5" class="v15"/><rect x="21" y="7" width="3" height="1.5" class="v18"/><rect x="0" y="8" width="1.5" height="1.5" class="v32"/><rect x="1" y="8" width="1.5" height="1.5" class="v27"/><rect x="2" y="8" width="1.5" height="1.5" class="v28"/><rect x="3" y="8" width="1.5" height="1.5" class="v25"/><rect x="4" y="8" width="2.5" height="1.5" class="v27"/><rect x="6" y="8" width="1.5" height="1.5" class="v28"/><rect x="7" y="8" width="1.5" height="1.5" class="v24"/><rect x="8" y="8" width="2.5" height="1.5" class="v23"/><rect x="10" y="8" width="1.5" height="1.5" class="v19"/><rect x="11" y="8" width="2.5" height="1.5" class="v13"/><rect x="13" y="8" width="4.5" height="1.5" class="v16"/><rect x="17" y="8" width="3.5" height="1.5" class="v18"/><rect x="20" y="8" width="1.5" height="1.5" class="v21"/><rect x="21" y="8" width="3" height="1.5" class="v24"/><rect x="0" y="9" width="1.5" height="1.5" class="v38"/><rect x="1" y="9" width="1.5" height="1.5" class="v27"/><rect x="2" y="9" width="1.5" height="1.5" class="v29"/><rect x="3" y="9" width="1.5" height="1.5" class="v32"/><rect x="4" y="9" width="1.5" height="1.5" class="v33"/><rect x="5" y="9" width="2.5" height="1.5" class="v31"/><rect x="7" y="9" width="1.5" height="1.5" class="v32"/><rect x="8" y="9" width="1.5" height="1.5" class="v31"/><rect x="9" y="9" width="1.5" height="1.5" class="v24"/><rect x="10" y="9" width="1.5" height="1.5" class="v25"/><rect x="11" y="9" width="1.5" height="1.5" class="v24"/><rect x="12" y="9" width="1.5" height="1.5" class="v22"/><rect x="13" y="9" width="1.5" height="1.5" class="v16"/><rect x="14" y="9" width="2.5" height="1.5" class="v18"/><rect x="16" y="9" width="1.5" height="1.5" class="v14"/><rect x="17" y="9" width="1.5" height="1.5" class="v15"/><rect x="18" y="9" width="1.5" height="1.5" class="v13"/><rect x="19" y="9" width="1.5" height="1.5" class="v14"/><rect x="20" y="9" width="2.5" height="1.5" class="v11"/><rect x="22" y="9" width="1.5" height="1.5" class="v10"/><rect x="23" y="9" width="1" height="1.5" class="v12"/><rect x="0" y="10" width="2.5" height="1.5" class="v38"/><rect x="2" y="10" width="1.5" height="1.5" class="v34"/><rect x="3" y="10" width="1.5" height="1.5" class="v28"/><rect x="4" y="10" width="1.5" height="1.5" class="v21"/><rect x="5" y="10" width="1.5" height="1.5" class="v24"/><rect x="6" y="10" width="1.5" height="1.5" class="v21"/><rect x="7" y="10" width="1.5" height="1.5" class="v20"/><rect x="8" y="10" width="1.5" height="1.5" class="v16"/><rect x="9" y="10" width="2.5" height="1.5" class="v18"/><rect x="11" y="10" width="1.5" height="1.5" class="v15"/><rect x="12" y="10" width="1.5" height="1.5" class="v14"/><rect x="13" y="10" width="1.5" height="1.5" class="v15"/><rect x="14" y="10" width="1.5" height="1.5" class="v11"/><rect x="15" y="10" width="2.5" height="1.5" class="v16"/><rect x="17" y="10" width="1.5" height="1.5" class="v18"/><rect x="18" y="10" width="1.5" height="1.5" class="v21"/><rect x="19" y="10" width="1.5" height="1.5" class="v18"/><rect x="20" y="10" width="1.5" height="1.5" class="v19"/><rect x="21" y="10" width="1.5" height="1.5" class="v16"/><rect x="22" y="10" width="2" height="1.5" class="v21"/><rect x="0" y="11" width="1.5" height="1" class="v33"/><rect x="1" y="11" width="1.5" height="1" class="v28"/><rect x="2" y="11" width="1.5" height="1" class="v31"/><rect x="3" y="11" width="1.5" height="1" class="v29"/><rect x="4" y="11" width="1.5" height="1" class="v30"/><rect x="5" y="11" width="1.5" height="1" class="v23"/><rect x="6" y="11" width="2.5" height="1" class="v25"/><rect x="8" y="11" width="1.5" height="1" class="v27"/><rect x="9" y="11" width="1.5" height="1" class="v25"/><rect x="10" y="11" width="1.5" height="1" class="v28"/><rect x="11" y="11" width="1.5" height="1" class="v26"/><rect x="12" y="11" width="1.5" height="1" class="v24"/><rect x="13" y="11" width="2.5" height="1" class="v28"/><rect x="15" y="11" width="2.5" height="1" class="v23"/><rect x="17" y="11" width="1.5" height="1" class="v21"/><rect x="18" y="11" width="1.5" height="1" class="v24"/><rect x="19" y="11" width="1.5" height="1" class="v28"/><rect x="20" y="11" width="1.5" height="1" class="v29"/><rect x="21" y="11" width="2.5" height="1" class="v30"/><rect x="23" y="11" width="1" height="1" class="v29"/><ellipse cx="2.500" cy="0.500" rx="0.111" ry="0.173" fill="#000" shape-rendering="auto"/><ellipse cx="0.500" cy="1.500" rx="0.111" ry="0.173" fill="#000" shape-rendering="auto"/><ellipse cx="0.500" cy="2.500" rx="0.111" ry="0.173" fill="#000" shape-rendering="auto"/><ellipse cx="0.500" cy="3.500" rx="0.111" ry="0.173" fill="#000" shape-rendering="auto"/><ellipse cx="0.500" cy="4.500" rx="0.111" ry="0.173" fill="#000" shape-rendering="auto"/><ellipse cx="0.500" cy="5.500" rx="0.111" ry="0.173" fill="#000" shape-rendering="auto"/><ellipse cx="14.500" cy="6.500" rx="0.111" ry="0.173" fill="#000" shape-rendering="auto"/><ellipse cx="4.500" cy="7.500" rx="0.111" ry="0.173" fill="#000" shape-rendering="auto"/><ellipse cx="0.500" cy="8.500" rx="0.111" ry="0.173" fill="#000" shape-rendering="auto"/><ellipse cx="0.500" cy="9.500" rx="0.111" ry="0.173" fill="#000" shape-rendering="auto"/><ellipse cx="1.500" cy="10.500" rx="0.111" ry="0.173" fill="#000" shape-rendering="auto"/><ellipse cx="0.500" cy="11.500" rx="0.111" ry="0.173" fill="#000" shape-rendering="auto"/></svg>
<div class="t mb" style="right:650.60px;top:789.99px">Jan</div>
<div class="t mb" style="right:650.60px;top:817.16px">Mar</div>
<div class="t mb" style="right:650.60px;top:844.33px">May</div>
<div class="t mb" style="right:650.60px;top:871.49px">Jul</div>
<div class="t mb" style="right:650.60px;top:898.66px">Sep</div>
<div class="t mb" style="right:650.60px;top:925.83px">Nov</div>
<div class="t pl" style="left:668.40px;top:861.40px">(D)</div>
<div class="t tk" style="left:757.18px;top:955.17px;width:40px;margin-left:-20px;text-align:center">&#160;1</div>
<div class="t tk" style="left:799.48px;top:955.17px;width:40px;margin-left:-20px;text-align:center">&#160;3</div>
<div class="t tk" style="left:841.78px;top:955.17px;width:40px;margin-left:-20px;text-align:center">&#160;5</div>
<div class="t tk" style="left:884.08px;top:955.17px;width:40px;margin-left:-20px;text-align:center">&#160;7</div>
<div class="t tk" style="left:926.38px;top:955.17px;width:40px;margin-left:-20px;text-align:center">&#160;9</div>
<div class="t tk" style="left:968.68px;top:955.17px;width:40px;margin-left:-20px;text-align:center">11</div>
<div class="t tk" style="left:1010.98px;top:955.17px;width:40px;margin-left:-20px;text-align:center">13</div>
<div class="t tk" style="left:1053.28px;top:955.17px;width:40px;margin-left:-20px;text-align:center">15</div>
<div class="t tk" style="left:1095.58px;top:955.17px;width:40px;margin-left:-20px;text-align:center">17</div>
<div class="t tk" style="left:1137.88px;top:955.17px;width:40px;margin-left:-20px;text-align:center">19</div>
<div class="t tk" style="left:1180.18px;top:955.17px;width:40px;margin-left:-20px;text-align:center">21</div>
<div class="t tk" style="left:1222.48px;top:955.17px;width:40px;margin-left:-20px;text-align:center">23</div>
<svg class="hm" style="left:746.60px;top:1032.70px;width:507.60px;height:162.30px" viewBox="0 0 24 12" preserveAspectRatio="none"><rect x="0" y="0" width="1.5" height="1.5" class="v34"/><rect x="1" y="0" width="1.5" height="1.5" class="v31"/><rect x="2" y="0" width="1.5" height="1.5" class="v26"/><rect x="3" y="0" width="1.5" height="1.5" class="v24"/><rect x="4" y="0" width="1.5" height="1.5" class="v29"/><rect x="5" y="0" width="1.5" height="1.5" class="v21"/><rect x="6" y="0" width="1.5" height="1.5" class="v20"/><rect x="7" y="0" width="1.5" height="1.5" class="v21"/><rect x="8" y="0" width="1.5" height="1.5" class="v20"/><rect x="9" y="0" width="1.5" height="1.5" class="v18"/><rect x="10" y="0" width="1.5" height="1.5" class="v19"/><rect x="11" y="0" width="2.5" height="1.5" class="v18"/><rect x="13" y="0" width="1.5" height="1.5" class="v17"/><rect x="14" y="0" width="2.5" height="1.5" class="v15"/><rect x="16" y="0" width="4.5" height="1.5" class="v18"/><rect x="20" y="0" width="3.5" height="1.5" class="v21"/><rect x="23" y="0" width="1" height="1.5" class="v22"/><rect x="0" y="1" width="2.5" height="1.5" class="v35"/><rect x="2" y="1" width="3.5" height="1.5" class="v27"/><rect x="5" y="1" width="1.5" height="1.5" class="v30"/><rect x="6" y="1" width="3.5" height="1.5" class="v34"/><rect x="9" y="1" width="1.5" height="1.5" class="v29"/><rect x="10" y="1" width="1.5" height="1.5" class="v26"/><rect x="11" y="1" width="2.5" height="1.5" class="v24"/><rect x="13" y="1" width="2.5" height="1.5" class="v22"/><rect x="15" y="1" width="1.5" height="1.5" class="v21"/><rect x="16" y="1" width="2.5" height="1.5" class="v22"/><rect x="18" y="1" width="3.5" height="1.5" class="v24"/><rect x="21" y="1" width="2.5" height="1.5" class="v28"/><rect x="23" y="1" width="1" height="1.5" class="v27"/><rect x="0" y="2" width="1.5" height="1.5" class="v34"/><rect x="1" y="2" width="1.5" height="1.5" class="v25"/><rect x="2" y="2" width="1.5" height="1.5" class="v12"/><rect x="3" y="2" width="1.5" height="1.5" class="v15"/><rect x="4" y="2" width="1.5" height="1.5" class="v18"/><rect x="5" y="2" width="1.5" height="1.5" class="v21"/><rect x="6" y="2" width="1.5" height="1.5" class="v12"/><rect x="7" y="2" width="1.5" height="1.5" class="v21"/><rect x="8" y="2" width="1.5" height="1.5" class="v22"/><rect x="9" y="2" width="2.5" height="1.5" class="v21"/><rect x="11" y="2" width="1.5" height="1.5" class="v22"/><rect x="12" y="2" width="2.5" height="1.5" class="v24"/><rect x="14" y="2" width="1.5" height="1.5" class="v27"/><rect x="15" y="2" width="1.5" height="1.5" class="v25"/><rect x="16" y="2" width="1.5" height="1.5" class="v28"/><rect x="17" y="2" width="2.5" height="1.5" class="v29"/><rect x="19" y="2" width="2.5" height="1.5" class="v30"/><rect x="21" y="2" width="1.5" height="1.5" class="v31"/><rect x="22" y="2" width="2" height="1.5" class="v27"/><rect x="0" y="3" width="1.5" height="1.5" class="v33"/><rect x="1" y="3" width="1.5" height="1.5" class="v26"/><rect x="2" y="3" width="1.5" height="1.5" class="v28"/><rect x="3" y="3" width="1.5" height="1.5" class="v30"/><rect x="4" y="3" width="1.5" height="1.5" class="v25"/><rect x="5" y="3" width="2.5" height="1.5" class="v28"/><rect x="7" y="3" width="1.5" height="1.5" class="v25"/><rect x="8" y="3" width="2.5" height="1.5" class="v30"/><rect x="10" y="3" width="1.5" height="1.5" class="v29"/><rect x="11" y="3" width="1.5" height="1.5" class="v27"/><rect x="12" y="3" width="1.5" height="1.5" class="v23"/><rect x="13" y="3" width="1.5" height="1.5" class="v22"/><rect x="14" y="3" width="1.5" height="1.5" class="v23"/><rect x="15" y="3" width="2.5" height="1.5" class="v24"/><rect x="17" y="3" width="1.5" height="1.5" class="v25"/><rect x="18" y="3" width="1.5" height="1.5" class="v28"/><rect x="19" y="3" width="3.5" height="1.5" class="v24"/><rect x="22" y="3" width="2" height="1.5" class="v25"/><rect x="0" y="4" width="1.5" height="1.5" class="v29"/><rect x="1" y="4" width="1.5" height="1.5" class="v35"/><rect x="2" y="4" width="1.5" height="1.5" class="v33"/><rect x="3" y="4" width="1.5" height="1.5" class="v29"/><rect x="4" y="4" width="1.5" height="1.5" class="v28"/><rect x="5" y="4" width="1.5" height="1.5" class="v26"/><rect x="6" y="4" width="1.5" height="1.5" class="v25"/><rect x="7" y="4" width="1.5" height="1.5" class="v24"/><rect x="8" y="4" width="1.5" height="1.5" class="v20"/><rect x="9" y="4" width="2.5" height="1.5" class="v28"/><rect x="11" y="4" width="1.5" height="1.5" class="v27"/><rect x="12" y="4" width="1.5" height="1.5" class="v25"/><rect x="13" y="4" width="3.5" height="1.5" class="v28"/><rect x="16" y="4" width="1.5" height="1.5" class="v26"/><rect x="17" y="4" width="2.5" height="1.5" class="v27"/><rect x="19" y="4" width="1.5" height="1.5" class="v29"/><rect x="20" y="4" width="4" height="1.5" class="v27"/><rect x="0" y="5" width="1.5" height="1.5" class="v33"/><rect x="1" y="5" width="1.5" height="1.5" class="v22"/><rect x="2" y="5" width="1.5" height="1.5" class="v25"/><rect x="3" y="5" width="1.5" height="1.5" class="v23"/><rect x="4" y="5" width="2.5" height="1.5" class="v24"/><rect x="6" y="5" width="1.5" height="1.5" class="v23"/><rect x="7" y="5" width="1.5" height="1.5" class="v22"/><rect x="8" y="5" width="1.5" height="1.5" class="v21"/><rect x="9" y="5" width="1.5" height="1.5" class="v18"/><rect x="10" y="5" width="1.5" height="1.5" class="v24"/><rect x="11" y="5" width="1.5" height="1.5" class="v25"/><rect x="12" y="5" width="1.5" height="1.5" class="v24"/><rect x="13" y="5" width="5.5" height="1.5" class="v21"/><rect x="18" y="5" width="1.5" height="1.5" class="v22"/><rect x="19" y="5" width="1.5" height="1.5" class="v23"/><rect x="20" y="5" width="1.5" height="1.5" class="v24"/><rect x="21" y="5" width="1.5" height="1.5" class="v22"/><rect x="22" y="5" width="2" height="1.5" class="v21"/><rect x="0" y="6" width="1.5" height="1.5" class="v36"/><rect x="1" y="6" width="1.5" height="1.5" class="v34"/><rect x="2" y="6" width="1.5" height="1.5" class="v29"/><rect x="3" y="6" width="1.5" height="1.5" class="v31"/><rect x="4" y="6" width="3.5" height="1.5" class="v28"/><rect x="7" y="6" width="2.5" height="1.5" class="v23"/><rect x="9" y="6" width="1.5" height="1.5" class="v21"/><rect x="10" y="6" width="1.5" height="1.5" class="v20"/><rect x="11" y="6" width="1.5" height="1.5" class="v19"/><rect x="12" y="6" width="1.5" height="1.5" class="v20"/><rect x="13" y="6" width="1.5" height="1.5" class="v18"/><rect x="14" y="6" width="2.5" height="1.5" class="v17"/><rect x="16" y="6" width="1.5" height="1.5" class="v14"/><rect x="17" y="6" width="1.5" height="1.5" class="v15"/><rect x="18" y="6" width="2.5" height="1.5" class="v13"/><rect x="20" y="6" width="1.5" height="1.5" class="v15"/><rect x="21" y="6" width="1.5" height="1.5" class="v17"/><rect x="22" y="6" width="1.5" height="1.5" class="v15"/><rect x="23" y="6" width="1" height="1.5" class="v16"/><rect x="0" y="7" width="1.5" height="1.5" class="v28"/><rect x="1" y="7" width="1.5" height="1.5" class="v29"/><rect x="2" y="7" width="1.5" height="1.5" class="v30"/><rect x="3" y="7" width="1.5" height="1.5" class="v29"/><rect x="4" y="7" width="1.5" height="1.5" class="v30"/><rect x="5" y="7" width="2.5" height="1.5" class="v28"/><rect x="7" y="7" width="1.5" height="1.5" class="v26"/><rect x="8" y="7" width="1.5" height="1.5" class="v24"/><rect x="9" y="7" width="1.5" height="1.5" class="v23"/><rect x="10" y="7" width="1.5" height="1.5" class="v24"/><rect x="11" y="7" width="1.5" height="1.5" class="v23"/><rect x="12" y="7" width="3.5" height="1.5" class="v21"/><rect x="15" y="7" width="1.5" height="1.5" class="v20"/><rect x="16" y="7" width="1.5" height="1.5" class="v17"/><rect x="17" y="7" width="1.5" height="1.5" class="v15"/><rect x="18" y="7" width="1.5" height="1.5" class="v12"/><rect x="19" y="7" width="2.5" height="1.5" class="v11"/><rect x="21" y="7" width="1.5" height="1.5" class="v12"/><rect x="22" y="7" width="1.5" height="1.5" class="v13"/><rect x="23" y="7" width="1" height="1.5" class="v10"/><rect x="0" y="8" width="1.5" height="1.5" class="v34"/><rect x="1" y="8" width="1.5" height="1.5" class="v33"/><rect x="2" y="8" width="2.5" height="1.5" class="v34"/><rect x="4" y="8" width="1.5" height="1.5" class="v32"/><rect x="5" y="8" width="1.5" height="1.5" class="v33"/><rect x="6" y="8" width="2.5" height="1.5" class="v32"/><rect x="8" y="8" width="2.5" height="1.5" class="v29"/><rect x="10" y="8" width="2.5" height="1.5" class="v24"/><rect x="12" y="8" width="1.5" height="1.5" class="v25"/><rect x="13" y="8" width="1.5" height="1.5" class="v18"/><rect x="14" y="8" width="2.5" height="1.5" class="v20"/><rect x="16" y="8" width="1.5" height="1.5" class="v17"/><rect x="17" y="8" width="1.5" height="1.5" class="v19"/><rect x="18" y="8" width="1.5" height="1.5" class="v17"/><rect x="19" y="8" width="2.5" height="1.5" class="v15"/><rect x="21" y="8" width="1.5" height="1.5" class="v13"/><rect x="22" y="8" width="1.5" height="1.5" class="v16"/><rect x="23" y="8" width="1" height="1.5" class="v17"/><rect x="0" y="9" width="2.5" height="1.5" class="v35"/><rect x="2" y="9" width="2.5" height="1.5" class="v39"/><rect x="4" y="9" width="1.5" height="1.5" class="v37"/><rect x="5" y="9" width="1.5" height="1.5" class="v35"/><rect x="6" y="9" width="2.5" height="1.5" class="v34"/><rect x="8" y="9" width="4.5" height="1.5" class="v33"/><rect x="12" y="9" width="1.5" height="1.5" class="v32"/><rect x="13" y="9" width="1.5" height="1.5" class="v31"/><rect x="14" y="9" width="1.5" height="1.5" class="v28"/><rect x="15" y="9" width="1.5" height="1.5" class="v27"/><rect x="16" y="9" width="1.5" height="1.5" class="v28"/><rect x="17" y="9" width="1.5" height="1.5" class="v27"/><rect x="18" y="9" width="2.5" height="1.5" class="v29"/><rect x="20" y="9" width="1.5" height="1.5" class="v25"/><rect x="21" y="9" width="2.5" height="1.5" class="v24"/><rect x="23" y="9" width="1" height="1.5" class="v28"/><rect x="0" y="10" width="1.5" height="1.5" class="v39"/><rect x="1" y="10" width="1.5" height="1.5" class="v34"/><rect x="2" y="10" width="1.5" height="1.5" class="v31"/><rect x="3" y="10" width="1.5" height="1.5" class="v22"/><rect x="4" y="10" width="2.5" height="1.5" class="v21"/><rect x="6" y="10" width="3.5" height="1.5" class="v18"/><rect x="9" y="10" width="1.5" height="1.5" class="v21"/><rect x="10" y="10" width="1.5" height="1.5" class="v18"/><rect x="11" y="10" width="1.5" height="1.5" class="v19"/><rect x="12" y="10" width="1.5" height="1.5" class="v18"/><rect x="13" y="10" width="1.5" height="1.5" class="v21"/><rect x="14" y="10" width="1.5" height="1.5" class="v22"/><rect x="15" y="10" width="3.5" height="1.5" class="v26"/><rect x="18" y="10" width="1.5" height="1.5" class="v28"/><rect x="19" y="10" width="3.5" height="1.5" class="v24"/><rect x="22" y="10" width="2" height="1.5" class="v28"/><rect x="0" y="11" width="1.5" height="1" class="v32"/><rect x="1" y="11" width="1.5" height="1" class="v22"/><rect x="2" y="11" width="2.5" height="1" class="v20"/><rect x="4" y="11" width="2.5" height="1" class="v16"/><rect x="6" y="11" width="1.5" height="1" class="v17"/><rect x="7" y="11" width="1.5" height="1" class="v18"/><rect x="8" y="11" width="1.5" height="1" class="v20"/><rect x="9" y="11" width="2.5" height="1" class="v23"/><rect x="11" y="11" width="1.5" height="1" class="v22"/><rect x="12" y="11" width="1.5" height="1" class="v23"/><rect x="13" y="11" width="1.5" height="1" class="v26"/><rect x="14" y="11" width="1.5" height="1" class="v24"/><rect x="15" y="11" width="1.5" height="1" class="v22"/><rect x="16" y="11" width="1.5" height="1" class="v17"/><rect x="17" y="11" width="2.5" height="1" class="v16"/><rect x="19" y="11" width="2.5" height="1" class="v18"/><rect x="21" y="11" width="1.5" height="1" class="v20"/><rect x="22" y="11" width="1.5" height="1" class="v22"/><rect x="23" y="11" width="1" height="1" class="v20"/><ellipse cx="0.500" cy="0.500" rx="0.111" ry="0.174" fill="#000" shape-rendering="auto"/><ellipse cx="1.500" cy="1.500" rx="0.111" ry="0.174" fill="#000" shape-rendering="auto"/><ellipse cx="0.500" cy="2.500" rx="0.111" ry="0.174" fill="#000" shape-rendering="auto"/><ellipse cx="0.500" cy="3.500" rx="0.111" ry="0.174" fill="#000" shape-rendering="auto"/><ellipse cx="1.500" cy="4.500" rx="0.111" ry="0.174" fill="#000" shape-rendering="auto"/><ellipse cx="0.500" cy="5.500" rx="0.111" ry="0.174" fill="#000" shape-rendering="auto"/><ellipse cx="0.500" cy="6.500" rx="0.111" ry="0.174" fill="#000" shape-rendering="auto"/><ellipse cx="2.500" cy="7.500" rx="0.111" ry="0.174" fill="#000" shape-rendering="auto"/><ellipse cx="0.500" cy="8.500" rx="0.111" ry="0.174" fill="#000" shape-rendering="auto"/><ellipse cx="2.500" cy="9.500" rx="0.111" ry="0.174" fill="#000" shape-rendering="auto"/><ellipse cx="0.500" cy="10.500" rx="0.111" ry="0.174" fill="#000" shape-rendering="auto"/><ellipse cx="0.500" cy="11.500" rx="0.111" ry="0.174" fill="#000" shape-rendering="auto"/></svg>
<div class="t mb" style="right:650.60px;top:1032.06px">Jan</div>
<div class="t mb" style="right:650.60px;top:1059.11px">Mar</div>
<div class="t mb" style="right:650.60px;top:1086.16px">May</div>
<div class="t mb" style="right:650.60px;top:1113.21px">Jul</div>
<div class="t mb" style="right:650.60px;top:1140.26px">Sep</div>
<div class="t mb" style="right:650.60px;top:1167.31px">Nov</div>
<div class="t pl" style="left:671.00px;top:1100.80px">(E)</div>
<div class="t tk" style="left:757.18px;top:1196.57px;width:40px;margin-left:-20px;text-align:center">&#160;1</div>
<div class="t tk" style="left:799.48px;top:1196.57px;width:40px;margin-left:-20px;text-align:center">&#160;3</div>
<div class="t tk" style="left:841.78px;top:1196.57px;width:40px;margin-left:-20px;text-align:center">&#160;5</div>
<div class="t tk" style="left:884.08px;top:1196.57px;width:40px;margin-left:-20px;text-align:center">&#160;7</div>
<div class="t tk" style="left:926.38px;top:1196.57px;width:40px;margin-left:-20px;text-align:center">&#160;9</div>
<div class="t tk" style="left:968.68px;top:1196.57px;width:40px;margin-left:-20px;text-align:center">11</div>
<div class="t tk" style="left:1010.98px;top:1196.57px;width:40px;margin-left:-20px;text-align:center">13</div>
<div class="t tk" style="left:1053.28px;top:1196.57px;width:40px;margin-left:-20px;text-align:center">15</div>
<div class="t tk" style="left:1095.58px;top:1196.57px;width:40px;margin-left:-20px;text-align:center">17</div>
<div class="t tk" style="left:1137.88px;top:1196.57px;width:40px;margin-left:-20px;text-align:center">19</div>
<div class="t tk" style="left:1180.18px;top:1196.57px;width:40px;margin-left:-20px;text-align:center">21</div>
<div class="t tk" style="left:1222.48px;top:1196.57px;width:40px;margin-left:-20px;text-align:center">23</div>
<svg class="hm" style="left:746.60px;top:1274.20px;width:507.60px;height:162.80px" viewBox="0 0 24 12" preserveAspectRatio="none"><rect x="0" y="0" width="1.5" height="1.5" class="v27"/><rect x="1" y="0" width="1.5" height="1.5" class="v31"/><rect x="2" y="0" width="1.5" height="1.5" class="v24"/><rect x="3" y="0" width="2.5" height="1.5" class="v25"/><rect x="5" y="0" width="1.5" height="1.5" class="v18"/><rect x="6" y="0" width="1.5" height="1.5" class="v21"/><rect x="7" y="0" width="1.5" height="1.5" class="v22"/><rect x="8" y="0" width="5.5" height="1.5" class="v18"/><rect x="13" y="0" width="1.5" height="1.5" class="v17"/><rect x="14" y="0" width="1.5" height="1.5" class="v20"/><rect x="15" y="0" width="1.5" height="1.5" class="v18"/><rect x="16" y="0" width="1.5" height="1.5" class="v15"/><rect x="17" y="0" width="2.5" height="1.5" class="v19"/><rect x="19" y="0" width="2.5" height="1.5" class="v22"/><rect x="21" y="0" width="1.5" height="1.5" class="v23"/><rect x="22" y="0" width="2" height="1.5" class="v24"/><rect x="0" y="1" width="1.5" height="1.5" class="v37"/><rect x="1" y="1" width="1.5" height="1.5" class="v34"/><rect x="2" y="1" width="1.5" height="1.5" class="v31"/><rect x="3" y="1" width="1.5" height="1.5" class="v29"/><rect x="4" y="1" width="1.5" height="1.5" class="v32"/><rect x="5" y="1" width="1.5" height="1.5" class="v29"/><rect x="6" y="1" width="1.5" height="1.5" class="v22"/><rect x="7" y="1" width="2.5" height="1.5" class="v25"/><rect x="9" y="1" width="2.5" height="1.5" class="v15"/><rect x="11" y="1" width="1.5" height="1.5" class="v12"/><rect x="12" y="1" width="1.5" height="1.5" class="v10"/><rect x="13" y="1" width="1.5" height="1.5" class="v12"/><rect x="14" y="1" width="1.5" height="1.5" class="v9"/><rect x="15" y="1" width="1.5" height="1.5" class="v10"/><rect x="16" y="1" width="1.5" height="1.5" class="v12"/><rect x="17" y="1" width="1.5" height="1.5" class="v11"/><rect x="18" y="1" width="1.5" height="1.5" class="v15"/><rect x="19" y="1" width="1.5" height="1.5" class="v20"/><rect x="20" y="1" width="1.5" height="1.5" class="v24"/><rect x="21" y="1" width="1.5" height="1.5" class="v18"/><rect x="22" y="1" width="1.5" height="1.5" class="v19"/><rect x="23" y="1" width="1" height="1.5" class="v18"/><rect x="0" y="2" width="1.5" height="1.5" class="v37"/><rect x="1" y="2" width="1.5" height="1.5" class="v31"/><rect x="2" y="2" width="1.5" height="1.5" class="v21"/><rect x="3" y="2" width="1.5" height="1.5" class="v18"/><rect x="4" y="2" width="1.5" height="1.5" class="v14"/><rect x="5" y="2" width="1.5" height="1.5" class="v12"/><rect x="6" y="2" width="1.5" height="1.5" class="v10"/><rect x="7" y="2" width="1.5" height="1.5" class="v18"/><rect x="8" y="2" width="1.5" height="1.5" class="v21"/><rect x="9" y="2" width="2.5" height="1.5" class="v23"/><rect x="11" y="2" width="2.5" height="1.5" class="v24"/><rect x="13" y="2" width="1.5" height="1.5" class="v27"/><rect x="14" y="2" width="3.5" height="1.5" class="v28"/><rect x="17" y="2" width="2.5" height="1.5" class="v29"/><rect x="19" y="2" width="1.5" height="1.5" class="v28"/><rect x="20" y="2" width="1.5" height="1.5" class="v29"/><rect x="21" y="2" width="1.5" height="1.5" class="v30"/><rect x="22" y="2" width="2" height="1.5" class="v24"/><rect x="0" y="3" width="1.5" height="1.5" class="v29"/><rect x="1" y="3" width="1.5" height="1.5" class="v31"/><rect x="2" y="3" width="1.5" height="1.5" class="v28"/><rect x="3" y="3" width="1.5" height="1.5" class="v21"/><rect x="4" y="3" width="1.5" height="1.5" class="v12"/><rect x="5" y="3" width="1.5" height="1.5" class="v14"/><rect x="6" y="3" width="1.5" height="1.5" class="v13"/><rect x="7" y="3" width="1.5" height="1.5" class="v10"/><rect x="8" y="3" width="1.5" height="1.5" class="v24"/><rect x="9" y="3" width="1.5" height="1.5" class="v25"/><rect x="10" y="3" width="1.5" height="1.5" class="v27"/><rect x="11" y="3" width="1.5" height="1.5" class="v29"/><rect x="12" y="3" width="2.5" height="1.5" class="v24"/><rect x="14" y="3" width="2.5" height="1.5" class="v27"/><rect x="16" y="3" width="1.5" height="1.5" class="v30"/><rect x="17" y="3" width="1.5" height="1.5" class="v28"/><rect x="18" y="3" width="1.5" height="1.5" class="v31"/><rect x="19" y="3" width="3.5" height="1.5" class="v29"/><rect x="22" y="3" width="1.5" height="1.5" class="v30"/><rect x="23" y="3" width="1" height="1.5" class="v24"/><rect x="0" y="4" width="1.5" height="1.5" class="v29"/><rect x="1" y="4" width="1.5" height="1.5" class="v24"/><rect x="2" y="4" width="2.5" height="1.5" class="v28"/><rect x="4" y="4" width="1.5" height="1.5" class="v24"/><rect x="5" y="4" width="1.5" height="1.5" class="v21"/><rect x="6" y="4" width="1.5" height="1.5" class="v16"/><rect x="7" y="4" width="2.5" height="1.5" class="v13"/><rect x="9" y="4" width="1.5" height="1.5" class="v21"/><rect x="10" y="4" width="1.5" height="1.5" class="v24"/><rect x="11" y="4" width="1.5" height="1.5" class="v23"/><rect x="12" y="4" width="1.5" height="1.5" class="v24"/><rect x="13" y="4" width="2.5" height="1.5" class="v23"/><rect x="15" y="4" width="1.5" height="1.5" class="v25"/><rect x="16" y="4" width="1.5" height="1.5" class="v26"/><rect x="17" y="4" width="1.5" height="1.5" class="v27"/><rect x="18" y="4" width="3.5" height="1.5" class="v24"/><rect x="21" y="4" width="1.5" height="1.5" class="v26"/><rect x="22" y="4" width="2" height="1.5" class="v28"/><rect x="0" y="5" width="1.5" height="1.5" class="v19"/><rect x="1" y="5" width="1.5" height="1.5" class="v11"/><rect x="2" y="5" width="1.5" height="1.5" class="v17"/><rect x="3" y="5" width="1.5" height="1.5" class="v18"/><rect x="4" y="5" width="1.5" height="1.5" class="v17"/><rect x="5" y="5" width="1.5" height="1.5" class="v11"/><rect x="6" y="5" width="3.5" height="1.5" class="v9"/><rect x="9" y="5" width="1.5" height="1.5" class="v6"/><rect x="10" y="5" width="1.5" height="1.5" class="v15"/><rect x="11" y="5" width="1.5" height="1.5" class="v18"/><rect x="12" y="5" width="1.5" height="1.5" class="v19"/><rect x="13" y="5" width="2.5" height="1.5" class="v18"/><rect x="15" y="5" width="1.5" height="1.5" class="v19"/><rect x="16" y="5" width="1.5" height="1.5" class="v22"/><rect x="17" y="5" width="1.5" height="1.5" class="v24"/><rect x="18" y="5" width="1.5" height="1.5" class="v25"/><rect x="19" y="5" width="1.5" height="1.5" class="v28"/><rect x="20" y="5" width="2.5" height="1.5" class="v29"/><rect x="22" y="5" width="2" height="1.5" class="v24"/><rect x="0" y="6" width="1.5" height="1.5" class="v28"/><rect x="1" y="6" width="1.5" height="1.5" class="v24"/><rect x="2" y="6" width="1.5" height="1.5" class="v15"/><rect x="3" y="6" width="2.5" height="1.5" class="v16"/><rect x="5" y="6" width="1.5" height="1.5" class="v15"/><rect x="6" y="6" width="1.5" height="1.5" class="v21"/><rect x="7" y="6" width="1.5" height="1.5" class="v18"/><rect x="8" y="6" width="1.5" height="1.5" class="v13"/><rect x="9" y="6" width="2.5" height="1.5" class="v18"/><rect x="11" y="6" width="1.5" height="1.5" class="v21"/><rect x="12" y="6" width="1.5" height="1.5" class="v22"/><rect x="13" y="6" width="1.5" height="1.5" class="v23"/><rect x="14" y="6" width="1.5" height="1.5" class="v22"/><rect x="15" y="6" width="1.5" height="1.5" class="v18"/><rect x="16" y="6" width="1.5" height="1.5" class="v16"/><rect x="17" y="6" width="2.5" height="1.5" class="v17"/><rect x="19" y="6" width="3.5" height="1.5" class="v21"/><rect x="22" y="6" width="1.5" height="1.5" class="v15"/><rect x="23" y="6" width="1" height="1.5" class="v21"/><rect x="0" y="7" width="1.5" height="1.5" class="v29"/><rect x="1" y="7" width="2.5" height="1.5" class="v31"/><rect x="3" y="7" width="2.5" height="1.5" class="v29"/><rect x="5" y="7" width="2.5" height="1.5" class="v28"/><rect x="7" y="7" width="1.5" height="1.5" class="v31"/><rect x="8" y="7" width="1.5" height="1.5" class="v28"/><rect x="9" y="7" width="1.5" height="1.5" class="v27"/><rect x="10" y="7" width="1.5" height="1.5" class="v29"/><rect x="11" y="7" width="1.5" height="1.5" class="v28"/><rect x="12" y="7" width="2.5" height="1.5" class="v31"/><rect x="14" y="7" width="1.5" height="1.5" class="v32"/><rect x="15" y="7" width="1.5" height="1.5" class="v29"/><rect x="16" y="7" width="1.5" height="1.5" class="v28"/><rect x="17" y="7" width="1.5" height="1.5" class="v27"/><rect x="18" y="7" width="1.5" height="1.5" class="v22"/><rect x="19" y="7" width="1.5" height="1.5" class="v21"/><rect x="20" y="7" width="2.5" height="1.5" class="v22"/><rect x="22" y="7" width="1.5" height="1.5" class="v24"/><rect x="23" y="7" width="1" height="1.5" class="v22"/><rect x="0" y="8" width="1.5" height="1.5" class="v25"/><rect x="1" y="8" width="1.5" height="1.5" class="v24"/><rect x="2" y="8" width="1.5" height="1.5" class="v27"/><rect x="3" y="8" width="1.5" height="1.5" class="v28"/><rect x="4" y="8" width="1.5" height="1.5" class="v22"/><rect x="5" y="8" width="1.5" height="1.5" class="v21"/><rect x="6" y="8" width="1.5" height="1.5" class="v20"/><rect x="7" y="8" width="1.5" height="1.5" class="v18"/><rect x="8" y="8" width="1.5" height="1.5" class="v19"/><rect x="9" y="8" width="2.5" height="1.5" class="v18"/><rect x="11" y="8" width="2.5" height="1.5" class="v21"/><rect x="13" y="8" width="2.5" height="1.5" class="v24"/><rect x="15" y="8" width="1.5" height="1.5" class="v27"/><rect x="16" y="8" width="1.5" height="1.5" class="v21"/><rect x="17" y="8" width="1.5" height="1.5" class="v24"/><rect x="18" y="8" width="1.5" height="1.5" class="v22"/><rect x="19" y="8" width="1.5" height="1.5" class="v18"/><rect x="20" y="8" width="1.5" height="1.5" class="v16"/><rect x="21" y="8" width="1.5" height="1.5" class="v15"/><rect x="22" y="8" width="1.5" height="1.5" class="v19"/><rect x="23" y="8" width="1" height="1.5" class="v22"/><rect x="0" y="9" width="1.5" height="1.5" class="v37"/><rect x="1" y="9" width="1.5" height="1.5" class="v24"/><rect x="2" y="9" width="1.5" height="1.5" class="v34"/><rect x="3" y="9" width="1.5" height="1.5" class="v36"/><rect x="4" y="9" width="1.5" height="1.5" class="v37"/><rect x="5" y="9" width="3.5" height="1.5" class="v35"/><rect x="8" y="9" width="3.5" height="1.5" class="v32"/><rect x="11" y="9" width="1.5" height="1.5" class="v33"/><rect x="12" y="9" width="1.5" height="1.5" class="v35"/><rect x="13" y="9" width="1.5" height="1.5" class="v34"/><rect x="14" y="9" width="1.5" height="1.5" class="v35"/><rect x="15" y="9" width="1.5" height="1.5" class="v36"/><rect x="16" y="9" width="1.5" height="1.5" class="v37"/><rect x="17" y="9" width="1.5" height="1.5" class="v36"/><rect x="18" y="9" width="1.5" height="1.5" class="v38"/><rect x="19" y="9" width="1.5" height="1.5" class="v37"/><rect x="20" y="9" width="1.5" height="1.5" class="v29"/><rect x="21" y="9" width="1.5" height="1.5" class="v25"/><rect x="22" y="9" width="1.5" height="1.5" class="v23"/><rect x="23" y="9" width="1" height="1.5" class="v25"/><rect x="0" y="10" width="1.5" height="1.5" class="v36"/><rect x="1" y="10" width="1.5" height="1.5" class="v34"/><rect x="2" y="10" width="1.5" height="1.5" class="v35"/><rect x="3" y="10" width="1.5" height="1.5" class="v21"/><rect x="4" y="10" width="1.5" height="1.5" class="v22"/><rect x="5" y="10" width="1.5" height="1.5" class="v24"/><rect x="6" y="10" width="1.5" height="1.5" class="v15"/><rect x="7" y="10" width="1.5" height="1.5" class="v18"/><rect x="8" y="10" width="1.5" height="1.5" class="v17"/><rect x="9" y="10" width="1.5" height="1.5" class="v15"/><rect x="10" y="10" width="1.5" height="1.5" class="v18"/><rect x="11" y="10" width="1.5" height="1.5" class="v13"/><rect x="12" y="10" width="1.5" height="1.5" class="v15"/><rect x="13" y="10" width="1.5" height="1.5" class="v20"/><rect x="14" y="10" width="1.5" height="1.5" class="v18"/><rect x="15" y="10" width="2.5" height="1.5" class="v22"/><rect x="17" y="10" width="1.5" height="1.5" class="v28"/><rect x="18" y="10" width="1.5" height="1.5" class="v22"/><rect x="19" y="10" width="2.5" height="1.5" class="v23"/><rect x="21" y="10" width="1.5" height="1.5" class="v19"/><rect x="22" y="10" width="1.5" height="1.5" class="v18"/><rect x="23" y="10" width="1" height="1.5" class="v22"/><rect x="0" y="11" width="1.5" height="1" class="v38"/><rect x="1" y="11" width="1.5" height="1" class="v29"/><rect x="2" y="11" width="1.5" height="1" class="v20"/><rect x="3" y="11" width="1.5" height="1" class="v15"/><rect x="4" y="11" width="1.5" height="1" class="v21"/><rect x="5" y="11" width="3.5" height="1" class="v24"/><rect x="8" y="11" width="1.5" height="1" class="v26"/><rect x="9" y="11" width="1.5" height="1" class="v27"/><rect x="10" y="11" width="1.5" height="1" class="v30"/><rect x="11" y="11" width="2.5" height="1" class="v29"/><rect x="13" y="11" width="2.5" height="1" class="v33"/><rect x="15" y="11" width="1.5" height="1" class="v35"/><rect x="16" y="11" width="1.5" height="1" class="v25"/><rect x="17" y="11" width="2.5" height="1" class="v28"/><rect x="19" y="11" width="1.5" height="1" class="v25"/><rect x="20" y="11" width="1.5" height="1" class="v24"/><rect x="21" y="11" width="1.5" height="1" class="v23"/><rect x="22" y="11" width="1.5" height="1" class="v25"/><rect x="23" y="11" width="1" height="1" class="v24"/><ellipse cx="1.500" cy="0.500" rx="0.111" ry="0.173" fill="#000" shape-rendering="auto"/><ellipse cx="0.500" cy="1.500" rx="0.111" ry="0.173" fill="#000" shape-rendering="auto"/><ellipse cx="0.500" cy="2.500" rx="0.111" ry="0.173" fill="#000" shape-rendering="auto"/><ellipse cx="18.500" cy="3.500" rx="0.111" ry="0.173" fill="#000" shape-rendering="auto"/><ellipse cx="0.500" cy="4.500" rx="0.111" ry="0.173" fill="#000" shape-rendering="auto"/><ellipse cx="20.500" cy="5.500" rx="0.111" ry="0.173" fill="#000" shape-rendering="auto"/><ellipse cx="0.500" cy="6.500" rx="0.111" ry="0.173" fill="#000" shape-rendering="auto"/><ellipse cx="14.500" cy="7.500" rx="0.111" ry="0.173" fill="#000" shape-rendering="auto"/><ellipse cx="3.500" cy="8.500" rx="0.111" ry="0.173" fill="#000" shape-rendering="auto"/><ellipse cx="18.500" cy="9.500" rx="0.111" ry="0.173" fill="#000" shape-rendering="auto"/><ellipse cx="0.500" cy="10.500" rx="0.111" ry="0.173" fill="#000" shape-rendering="auto"/><ellipse cx="0.500" cy="11.500" rx="0.111" ry="0.173" fill="#000" shape-rendering="auto"/></svg>
<div class="t mb" style="right:650.60px;top:1273.58px">Jan</div>
<div class="t mb" style="right:650.60px;top:1300.72px">Mar</div>
<div class="t mb" style="right:650.60px;top:1327.85px">May</div>
<div class="t mb" style="right:650.60px;top:1354.98px">Jul</div>
<div class="t mb" style="right:650.60px;top:1382.12px">Sep</div>
<div class="t mb" style="right:650.60px;top:1409.25px">Nov</div>
<div class="t pl" style="left:672.90px;top:1344.40px">(F)</div>
<div class="t tk" style="left:757.18px;top:1438.57px;width:40px;margin-left:-20px;text-align:center">&#160;1</div>
<div class="t tk" style="left:799.48px;top:1438.57px;width:40px;margin-left:-20px;text-align:center">&#160;3</div>
<div class="t tk" style="left:841.78px;top:1438.57px;width:40px;margin-left:-20px;text-align:center">&#160;5</div>
<div class="t tk" style="left:884.08px;top:1438.57px;width:40px;margin-left:-20px;text-align:center">&#160;7</div>
<div class="t tk" style="left:926.38px;top:1438.57px;width:40px;margin-left:-20px;text-align:center">&#160;9</div>
<div class="t tk" style="left:968.68px;top:1438.57px;width:40px;margin-left:-20px;text-align:center">11</div>
<div class="t tk" style="left:1010.98px;top:1438.57px;width:40px;margin-left:-20px;text-align:center">13</div>
<div class="t tk" style="left:1053.28px;top:1438.57px;width:40px;margin-left:-20px;text-align:center">15</div>
<div class="t tk" style="left:1095.58px;top:1438.57px;width:40px;margin-left:-20px;text-align:center">17</div>
<div class="t tk" style="left:1137.88px;top:1438.57px;width:40px;margin-left:-20px;text-align:center">19</div>
<div class="t tk" style="left:1180.18px;top:1438.57px;width:40px;margin-left:-20px;text-align:center">21</div>
<div class="t tk" style="left:1222.48px;top:1438.57px;width:40px;margin-left:-20px;text-align:center">23</div>
<div class="t sc" style="left:990.10px;top:1459.59px;width:100px;margin-left:-50px;text-align:center">Scales</div>
<svg class="hm" style="left:98.20px;top:1617.00px;width:514.30px;height:164.00px" viewBox="0 0 24 12" preserveAspectRatio="none"><rect x="0" y="0" width="1.5" height="1.5" class="v29"/><rect x="1" y="0" width="1.5" height="1.5" class="v28"/><rect x="2" y="0" width="1.5" height="1.5" class="v24"/><rect x="3" y="0" width="1.5" height="1.5" class="v26"/><rect x="4" y="0" width="1.5" height="1.5" class="v21"/><rect x="5" y="0" width="1.5" height="1.5" class="v20"/><rect x="6" y="0" width="1.5" height="1.5" class="v15"/><rect x="7" y="0" width="1.5" height="1.5" class="v21"/><rect x="8" y="0" width="1.5" height="1.5" class="v20"/><rect x="9" y="0" width="1.5" height="1.5" class="v18"/><rect x="10" y="0" width="1.5" height="1.5" class="v15"/><rect x="11" y="0" width="2.5" height="1.5" class="v16"/><rect x="13" y="0" width="1.5" height="1.5" class="v17"/><rect x="14" y="0" width="1.5" height="1.5" class="v15"/><rect x="15" y="0" width="1.5" height="1.5" class="v16"/><rect x="16" y="0" width="1.5" height="1.5" class="v13"/><rect x="17" y="0" width="1.5" height="1.5" class="v15"/><rect x="18" y="0" width="1.5" height="1.5" class="v18"/><rect x="19" y="0" width="1.5" height="1.5" class="v19"/><rect x="20" y="0" width="1.5" height="1.5" class="v21"/><rect x="21" y="0" width="1.5" height="1.5" class="v20"/><rect x="22" y="0" width="1.5" height="1.5" class="v21"/><rect x="23" y="0" width="1" height="1.5" class="v20"/><rect x="0" y="1" width="1.5" height="1.5" class="v26"/><rect x="1" y="1" width="1.5" height="1.5" class="v23"/><rect x="2" y="1" width="1.5" height="1.5" class="v24"/><rect x="3" y="1" width="1.5" height="1.5" class="v19"/><rect x="4" y="1" width="1.5" height="1.5" class="v26"/><rect x="5" y="1" width="1.5" height="1.5" class="v19"/><rect x="6" y="1" width="1.5" height="1.5" class="v24"/><rect x="7" y="1" width="1.5" height="1.5" class="v30"/><rect x="8" y="1" width="1.5" height="1.5" class="v34"/><rect x="9" y="1" width="3.5" height="1.5" class="v35"/><rect x="12" y="1" width="1.5" height="1.5" class="v33"/><rect x="13" y="1" width="2.5" height="1.5" class="v30"/><rect x="15" y="1" width="1.5" height="1.5" class="v31"/><rect x="16" y="1" width="2.5" height="1.5" class="v32"/><rect x="18" y="1" width="2.5" height="1.5" class="v35"/><rect x="20" y="1" width="1.5" height="1.5" class="v32"/><rect x="21" y="1" width="2.5" height="1.5" class="v33"/><rect x="23" y="1" width="1" height="1.5" class="v31"/><rect x="0" y="2" width="1.5" height="1.5" class="v21"/><rect x="1" y="2" width="1.5" height="1.5" class="v27"/><rect x="2" y="2" width="1.5" height="1.5" class="v26"/><rect x="3" y="2" width="2.5" height="1.5" class="v28"/><rect x="5" y="2" width="1.5" height="1.5" class="v27"/><rect x="6" y="2" width="1.5" height="1.5" class="v15"/><rect x="7" y="2" width="1.5" height="1.5" class="v23"/><rect x="8" y="2" width="2.5" height="1.5" class="v25"/><rect x="10" y="2" width="1.5" height="1.5" class="v24"/><rect x="11" y="2" width="1.5" height="1.5" class="v26"/><rect x="12" y="2" width="2.5" height="1.5" class="v24"/><rect x="14" y="2" width="1.5" height="1.5" class="v22"/><rect x="15" y="2" width="2.5" height="1.5" class="v23"/><rect x="17" y="2" width="1.5" height="1.5" class="v20"/><rect x="18" y="2" width="1.5" height="1.5" class="v22"/><rect x="19" y="2" width="1.5" height="1.5" class="v24"/><rect x="20" y="2" width="1.5" height="1.5" class="v25"/><rect x="21" y="2" width="1.5" height="1.5" class="v24"/><rect x="22" y="2" width="2" height="1.5" class="v25"/><rect x="0" y="3" width="1.5" height="1.5" class="v27"/><rect x="1" y="3" width="1.5" height="1.5" class="v24"/><rect x="2" y="3" width="1.5" height="1.5" class="v28"/><rect x="3" y="3" width="2.5" height="1.5" class="v24"/><rect x="5" y="3" width="1.5" height="1.5" class="v22"/><rect x="6" y="3" width="1.5" height="1.5" class="v27"/><rect x="7" y="3" width="1.5" height="1.5" class="v28"/><rect x="8" y="3" width="1.5" height="1.5" class="v31"/><rect x="9" y="3" width="2.5" height="1.5" class="v33"/><rect x="11" y="3" width="3.5" height="1.5" class="v32"/><rect x="14" y="3" width="2.5" height="1.5" class="v33"/><rect x="16" y="3" width="1.5" height="1.5" class="v34"/><rect x="17" y="3" width="2.5" height="1.5" class="v33"/><rect x="19" y="3" width="1.5" height="1.5" class="v31"/><rect x="20" y="3" width="1.5" height="1.5" class="v29"/><rect x="21" y="3" width="1.5" height="1.5" class="v30"/><rect x="22" y="3" width="2" height="1.5" class="v31"/><rect x="0" y="4" width="2.5" height="1.5" class="v27"/><rect x="2" y="4" width="1.5" height="1.5" class="v29"/><rect x="3" y="4" width="1.5" height="1.5" class="v27"/><rect x="4" y="4" width="1.5" height="1.5" class="v24"/><rect x="5" y="4" width="1.5" height="1.5" class="v21"/><rect x="6" y="4" width="1.5" height="1.5" class="v22"/><rect x="7" y="4" width="1.5" height="1.5" class="v24"/><rect x="8" y="4" width="1.5" height="1.5" class="v26"/><rect x="9" y="4" width="2.5" height="1.5" class="v29"/><rect x="11" y="4" width="1.5" height="1.5" class="v28"/><rect x="12" y="4" width="2.5" height="1.5" class="v29"/><rect x="14" y="4" width="1.5" height="1.5" class="v28"/><rect x="15" y="4" width="3.5" height="1.5" class="v29"/><rect x="18" y="4" width="1.5" height="1.5" class="v28"/><rect x="19" y="4" width="2.5" height="1.5" class="v29"/><rect x="21" y="4" width="1.5" height="1.5" class="v35"/><rect x="22" y="4" width="1.5" height="1.5" class="v34"/><rect x="23" y="4" width="1" height="1.5" class="v33"/><rect x="0" y="5" width="1.5" height="1.5" class="v40"/><rect x="1" y="5" width="2.5" height="1.5" class="v39"/><rect x="3" y="5" width="1.5" height="1.5" class="v35"/><rect x="4" y="5" width="1.5" height="1.5" class="v37"/><rect x="5" y="5" width="1.5" height="1.5" class="v34"/><rect x="6" y="5" width="1.5" height="1.5" class="v31"/><rect x="7" y="5" width="1.5" height="1.5" class="v29"/><rect x="8" y="5" width="1.5" height="1.5" class="v32"/><rect x="9" y="5" width="1.5" height="1.5" class="v24"/><rect x="10" y="5" width="1.5" height="1.5" class="v30"/><rect x="11" y="5" width="1.5" height="1.5" class="v34"/><rect x="12" y="5" width="1.5" height="1.5" class="v31"/><rect x="13" y="5" width="1.5" height="1.5" class="v32"/><rect x="14" y="5" width="2.5" height="1.5" class="v34"/><rect x="16" y="5" width="1.5" height="1.5" class="v32"/><rect x="17" y="5" width="2.5" height="1.5" class="v31"/><rect x="19" y="5" width="2.5" height="1.5" class="v32"/><rect x="21" y="5" width="3" height="1.5" class="v35"/><rect x="0" y="6" width="1.5" height="1.5" class="v37"/><rect x="1" y="6" width="3.5" height="1.5" class="v39"/><rect x="4" y="6" width="1.5" height="1.5" class="v38"/><rect x="5" y="6" width="1.5" height="1.5" class="v37"/><rect x="6" y="6" width="2.5" height="1.5" class="v36"/><rect x="8" y="6" width="1.5" height="1.5" class="v35"/><rect x="9" y="6" width="1.5" height="1.5" class="v37"/><rect x="10" y="6" width="1.5" height="1.5" class="v34"/><rect x="11" y="6" width="1.5" height="1.5" class="v35"/><rect x="12" y="6" width="1.5" height="1.5" class="v37"/><rect x="13" y="6" width="9.5" height="1.5" class="v36"/><rect x="22" y="6" width="1.5" height="1.5" class="v38"/><rect x="23" y="6" width="1" height="1.5" class="v37"/><rect x="0" y="7" width="1.5" height="1.5" class="v36"/><rect x="1" y="7" width="3.5" height="1.5" class="v39"/><rect x="4" y="7" width="1.5" height="1.5" class="v40"/><rect x="5" y="7" width="2.5" height="1.5" class="v39"/><rect x="7" y="7" width="5.5" height="1.5" class="v38"/><rect x="12" y="7" width="2.5" height="1.5" class="v37"/><rect x="14" y="7" width="2.5" height="1.5" class="v36"/><rect x="16" y="7" width="8" height="1.5" class="v35"/><rect x="0" y="8" width="1.5" height="1.5" class="v28"/><rect x="1" y="8" width="1.5" height="1.5" class="v36"/><rect x="2" y="8" width="1.5" height="1.5" class="v37"/><rect x="3" y="8" width="1.5" height="1.5" class="v31"/><rect x="4" y="8" width="1.5" height="1.5" class="v32"/><rect x="5" y="8" width="2.5" height="1.5" class="v33"/><rect x="7" y="8" width="1.5" height="1.5" class="v34"/><rect x="8" y="8" width="2.5" height="1.5" class="v35"/><rect x="10" y="8" width="1.5" height="1.5" class="v34"/><rect x="11" y="8" width="2.5" height="1.5" class="v33"/><rect x="13" y="8" width="1.5" height="1.5" class="v25"/><rect x="14" y="8" width="1.5" height="1.5" class="v22"/><rect x="15" y="8" width="2.5" height="1.5" class="v24"/><rect x="17" y="8" width="2.5" height="1.5" class="v22"/><rect x="19" y="8" width="1.5" height="1.5" class="v21"/><rect x="20" y="8" width="2.5" height="1.5" class="v22"/><rect x="22" y="8" width="1.5" height="1.5" class="v23"/><rect x="23" y="8" width="1" height="1.5" class="v20"/><rect x="0" y="9" width="1.5" height="1.5" class="v39"/><rect x="1" y="9" width="1.5" height="1.5" class="v29"/><rect x="2" y="9" width="1.5" height="1.5" class="v36"/><rect x="3" y="9" width="2.5" height="1.5" class="v38"/><rect x="5" y="9" width="4.5" height="1.5" class="v39"/><rect x="9" y="9" width="3.5" height="1.5" class="v40"/><rect x="12" y="9" width="1.5" height="1.5" class="v39"/><rect x="13" y="9" width="1.5" height="1.5" class="v37"/><rect x="14" y="9" width="1.5" height="1.5" class="v32"/><rect x="15" y="9" width="5.5" height="1.5" class="v31"/><rect x="20" y="9" width="1.5" height="1.5" class="v28"/><rect x="21" y="9" width="1.5" height="1.5" class="v29"/><rect x="22" y="9" width="2" height="1.5" class="v28"/><rect x="0" y="10" width="1.5" height="1.5" class="v27"/><rect x="1" y="10" width="2.5" height="1.5" class="v24"/><rect x="3" y="10" width="1.5" height="1.5" class="v28"/><rect x="4" y="10" width="1.5" height="1.5" class="v26"/><rect x="5" y="10" width="7.5" height="1.5" class="v21"/><rect x="12" y="10" width="1.5" height="1.5" class="v22"/><rect x="13" y="10" width="1.5" height="1.5" class="v21"/><rect x="14" y="10" width="1.5" height="1.5" class="v23"/><rect x="15" y="10" width="1.5" height="1.5" class="v20"/><rect x="16" y="10" width="6.5" height="1.5" class="v21"/><rect x="22" y="10" width="2" height="1.5" class="v22"/><rect x="0" y="11" width="2.5" height="1" class="v21"/><rect x="2" y="11" width="1.5" height="1" class="v18"/><rect x="3" y="11" width="2.5" height="1" class="v14"/><rect x="5" y="11" width="1.5" height="1" class="v16"/><rect x="6" y="11" width="4.5" height="1" class="v20"/><rect x="10" y="11" width="1.5" height="1" class="v18"/><rect x="11" y="11" width="1.5" height="1" class="v17"/><rect x="12" y="11" width="1.5" height="1" class="v16"/><rect x="13" y="11" width="2.5" height="1" class="v17"/><rect x="15" y="11" width="1.5" height="1" class="v21"/><rect x="16" y="11" width="2.5" height="1" class="v28"/><rect x="18" y="11" width="2.5" height="1" class="v25"/><rect x="20" y="11" width="4" height="1" class="v26"/><ellipse cx="0.500" cy="0.500" rx="0.110" ry="0.172" fill="#000" shape-rendering="auto"/><ellipse cx="19.500" cy="1.500" rx="0.110" ry="0.172" fill="#000" shape-rendering="auto"/><ellipse cx="3.500" cy="2.500" rx="0.110" ry="0.172" fill="#000" shape-rendering="auto"/><ellipse cx="16.500" cy="3.500" rx="0.110" ry="0.172" fill="#000" shape-rendering="auto"/><ellipse cx="21.500" cy="4.500" rx="0.110" ry="0.172" fill="#000" shape-rendering="auto"/><ellipse cx="0.500" cy="5.500" rx="0.110" ry="0.172" fill="#000" shape-rendering="auto"/><ellipse cx="1.500" cy="6.500" rx="0.110" ry="0.172" fill="#000" shape-rendering="auto"/><ellipse cx="4.500" cy="7.500" rx="0.110" ry="0.172" fill="#000" shape-rendering="auto"/><ellipse cx="2.500" cy="8.500" rx="0.110" ry="0.172" fill="#000" shape-rendering="auto"/><ellipse cx="10.500" cy="9.500" rx="0.110" ry="0.172" fill="#000" shape-rendering="auto"/><ellipse cx="3.500" cy="10.500" rx="0.110" ry="0.172" fill="#000" shape-rendering="auto"/><ellipse cx="17.500" cy="11.500" rx="0.110" ry="0.172" fill="#000" shape-rendering="auto"/></svg>
<div class="t mb" style="right:1299.00px;top:1616.43px">Jan</div>
<div class="t mb" style="right:1299.00px;top:1643.77px">Mar</div>
<div class="t mb" style="right:1299.00px;top:1671.10px">May</div>
<div class="t mb" style="right:1299.00px;top:1698.43px">Jul</div>
<div class="t mb" style="right:1299.00px;top:1725.77px">Sep</div>
<div class="t mb" style="right:1299.00px;top:1753.10px">Nov</div>
<div class="t pl" style="left:21.60px;top:1688.60px">(A)</div>
<div class="t tk" style="left:108.91px;top:1782.57px;width:40px;margin-left:-20px;text-align:center">&#160;1</div>
<div class="t tk" style="left:151.77px;top:1782.57px;width:40px;margin-left:-20px;text-align:center">&#160;3</div>
<div class="t tk" style="left:194.63px;top:1782.57px;width:40px;margin-left:-20px;text-align:center">&#160;5</div>
<div class="t tk" style="left:237.49px;top:1782.57px;width:40px;margin-left:-20px;text-align:center">&#160;7</div>
<div class="t tk" style="left:280.35px;top:1782.57px;width:40px;margin-left:-20px;text-align:center">&#160;9</div>
<div class="t tk" style="left:323.21px;top:1782.57px;width:40px;margin-left:-20px;text-align:center">11</div>
<div class="t tk" style="left:366.06px;top:1782.57px;width:40px;margin-left:-20px;text-align:center">13</div>
<div class="t tk" style="left:408.92px;top:1782.57px;width:40px;margin-left:-20px;text-align:center">15</div>
<div class="t tk" style="left:451.78px;top:1782.57px;width:40px;margin-left:-20px;text-align:center">17</div>
<div class="t tk" style="left:494.64px;top:1782.57px;width:40px;margin-left:-20px;text-align:center">19</div>
<div class="t tk" style="left:537.50px;top:1782.57px;width:40px;margin-left:-20px;text-align:center">21</div>
<div class="t tk" style="left:580.36px;top:1782.57px;width:40px;margin-left:-20px;text-align:center">23</div>
<svg class="hm" style="left:98.20px;top:1861.30px;width:514.30px;height:163.90px" viewBox="0 0 24 12" preserveAspectRatio="none"><rect x="0" y="0" width="2.5" height="1.5" class="v18"/><rect x="2" y="0" width="1.5" height="1.5" class="v15"/><rect x="3" y="0" width="1.5" height="1.5" class="v18"/><rect x="4" y="0" width="1.5" height="1.5" class="v14"/><rect x="5" y="0" width="1.5" height="1.5" class="v18"/><rect x="6" y="0" width="1.5" height="1.5" class="v27"/><rect x="7" y="0" width="1.5" height="1.5" class="v24"/><rect x="8" y="0" width="2.5" height="1.5" class="v28"/><rect x="10" y="0" width="3.5" height="1.5" class="v29"/><rect x="13" y="0" width="1.5" height="1.5" class="v28"/><rect x="14" y="0" width="1.5" height="1.5" class="v29"/><rect x="15" y="0" width="1.5" height="1.5" class="v28"/><rect x="16" y="0" width="1.5" height="1.5" class="v32"/><rect x="17" y="0" width="1.5" height="1.5" class="v31"/><rect x="18" y="0" width="2.5" height="1.5" class="v26"/><rect x="20" y="0" width="2.5" height="1.5" class="v28"/><rect x="22" y="0" width="2" height="1.5" class="v29"/><rect x="0" y="1" width="1.5" height="1.5" class="v23"/><rect x="1" y="1" width="2.5" height="1.5" class="v20"/><rect x="3" y="1" width="1.5" height="1.5" class="v16"/><rect x="4" y="1" width="1.5" height="1.5" class="v20"/><rect x="5" y="1" width="1.5" height="1.5" class="v16"/><rect x="6" y="1" width="1.5" height="1.5" class="v18"/><rect x="7" y="1" width="1.5" height="1.5" class="v26"/><rect x="8" y="1" width="1.5" height="1.5" class="v24"/><rect x="9" y="1" width="2.5" height="1.5" class="v28"/><rect x="11" y="1" width="5.5" height="1.5" class="v29"/><rect x="16" y="1" width="1.5" height="1.5" class="v28"/><rect x="17" y="1" width="1.5" height="1.5" class="v32"/><rect x="18" y="1" width="1.5" height="1.5" class="v31"/><rect x="19" y="1" width="1.5" height="1.5" class="v28"/><rect x="20" y="1" width="1.5" height="1.5" class="v27"/><rect x="21" y="1" width="1.5" height="1.5" class="v28"/><rect x="22" y="1" width="2" height="1.5" class="v29"/><rect x="0" y="2" width="1.5" height="1.5" class="v32"/><rect x="1" y="2" width="1.5" height="1.5" class="v35"/><rect x="2" y="2" width="1.5" height="1.5" class="v28"/><rect x="3" y="2" width="1.5" height="1.5" class="v27"/><rect x="4" y="2" width="1.5" height="1.5" class="v21"/><rect x="5" y="2" width="1.5" height="1.5" class="v24"/><rect x="6" y="2" width="1.5" height="1.5" class="v15"/><rect x="7" y="2" width="1.5" height="1.5" class="v20"/><rect x="8" y="2" width="2.5" height="1.5" class="v28"/><rect x="10" y="2" width="1.5" height="1.5" class="v29"/><rect x="11" y="2" width="1.5" height="1.5" class="v30"/><rect x="12" y="2" width="1.5" height="1.5" class="v29"/><rect x="13" y="2" width="3.5" height="1.5" class="v30"/><rect x="16" y="2" width="1.5" height="1.5" class="v31"/><rect x="17" y="2" width="1.5" height="1.5" class="v29"/><rect x="18" y="2" width="2.5" height="1.5" class="v33"/><rect x="20" y="2" width="1.5" height="1.5" class="v30"/><rect x="21" y="2" width="1.5" height="1.5" class="v27"/><rect x="22" y="2" width="1.5" height="1.5" class="v29"/><rect x="23" y="2" width="1" height="1.5" class="v30"/><rect x="0" y="3" width="1.5" height="1.5" class="v10"/><rect x="1" y="3" width="1.5" height="1.5" class="v24"/><rect x="2" y="3" width="1.5" height="1.5" class="v25"/><rect x="3" y="3" width="1.5" height="1.5" class="v21"/><rect x="4" y="3" width="1.5" height="1.5" class="v22"/><rect x="5" y="3" width="1.5" height="1.5" class="v18"/><rect x="6" y="3" width="1.5" height="1.5" class="v20"/><rect x="7" y="3" width="1.5" height="1.5" class="v16"/><rect x="8" y="3" width="1.5" height="1.5" class="v19"/><rect x="9" y="3" width="1.5" height="1.5" class="v27"/><rect x="10" y="3" width="1.5" height="1.5" class="v24"/><rect x="11" y="3" width="1.5" height="1.5" class="v28"/><rect x="12" y="3" width="1.5" height="1.5" class="v31"/><rect x="13" y="3" width="1.5" height="1.5" class="v30"/><rect x="14" y="3" width="5.5" height="1.5" class="v29"/><rect x="19" y="3" width="1.5" height="1.5" class="v33"/><rect x="20" y="3" width="1.5" height="1.5" class="v31"/><rect x="21" y="3" width="3" height="1.5" class="v28"/><rect x="0" y="4" width="1.5" height="1.5" class="v27"/><rect x="1" y="4" width="1.5" height="1.5" class="v22"/><rect x="2" y="4" width="1.5" height="1.5" class="v27"/><rect x="3" y="4" width="2.5" height="1.5" class="v29"/><rect x="5" y="4" width="1.5" height="1.5" class="v28"/><rect x="6" y="4" width="1.5" height="1.5" class="v25"/><rect x="7" y="4" width="1.5" height="1.5" class="v24"/><rect x="8" y="4" width="2.5" height="1.5" class="v20"/><rect x="10" y="4" width="2.5" height="1.5" class="v28"/><rect x="12" y="4" width="1.5" height="1.5" class="v29"/><rect x="13" y="4" width="1.5" height="1.5" class="v31"/><rect x="14" y="4" width="1.5" height="1.5" class="v30"/><rect x="15" y="4" width="1.5" height="1.5" class="v29"/><rect x="16" y="4" width="2.5" height="1.5" class="v30"/><rect x="18" y="4" width="1.5" height="1.5" class="v31"/><rect x="19" y="4" width="1.5" height="1.5" class="v30"/><rect x="20" y="4" width="1.5" height="1.5" class="v34"/><rect x="21" y="4" width="1.5" height="1.5" class="v32"/><rect x="22" y="4" width="1.5" height="1.5" class="v31"/><rect x="23" y="4" width="1" height="1.5" class="v27"/><rect x="0" y="5" width="2.5" height="1.5" class="v34"/><rect x="2" y="5" width="2.5" height="1.5" class="v32"/><rect x="4" y="5" width="1.5" height="1.5" class="v33"/><rect x="5" y="5" width="2.5" height="1.5" class="v32"/><rect x="7" y="5" width="1.5" height="1.5" class="v30"/><rect x="8" y="5" width="1.5" height="1.5" class="v31"/><rect x="9" y="5" width="1.5" height="1.5" class="v26"/><rect x="10" y="5" width="1.5" height="1.5" class="v27"/><rect x="11" y="5" width="1.5" height="1.5" class="v32"/><rect x="12" y="5" width="1.5" height="1.5" class="v29"/><rect x="13" y="5" width="1.5" height="1.5" class="v31"/><rect x="14" y="5" width="6.5" height="1.5" class="v34"/><rect x="20" y="5" width="1.5" height="1.5" class="v33"/><rect x="21" y="5" width="1.5" height="1.5" class="v36"/><rect x="22" y="5" width="1.5" height="1.5" class="v35"/><rect x="23" y="5" width="1" height="1.5" class="v32"/><rect x="0" y="6" width="1.5" height="1.5" class="v20"/><rect x="1" y="6" width="1.5" height="1.5" class="v23"/><rect x="2" y="6" width="1.5" height="1.5" class="v29"/><rect x="3" y="6" width="1.5" height="1.5" class="v28"/><rect x="4" y="6" width="2.5" height="1.5" class="v29"/><rect x="6" y="6" width="2.5" height="1.5" class="v28"/><rect x="8" y="6" width="1.5" height="1.5" class="v24"/><rect x="9" y="6" width="1.5" height="1.5" class="v22"/><rect x="10" y="6" width="1.5" height="1.5" class="v18"/><rect x="11" y="6" width="1.5" height="1.5" class="v22"/><rect x="12" y="6" width="1.5" height="1.5" class="v29"/><rect x="13" y="6" width="1.5" height="1.5" class="v25"/><rect x="14" y="6" width="5.5" height="1.5" class="v30"/><rect x="19" y="6" width="1.5" height="1.5" class="v29"/><rect x="20" y="6" width="1.5" height="1.5" class="v30"/><rect x="21" y="6" width="1.5" height="1.5" class="v31"/><rect x="22" y="6" width="1.5" height="1.5" class="v35"/><rect x="23" y="6" width="1" height="1.5" class="v33"/><rect x="0" y="7" width="1.5" height="1.5" class="v31"/><rect x="1" y="7" width="1.5" height="1.5" class="v27"/><rect x="2" y="7" width="1.5" height="1.5" class="v28"/><rect x="3" y="7" width="1.5" height="1.5" class="v30"/><rect x="4" y="7" width="1.5" height="1.5" class="v29"/><rect x="5" y="7" width="2.5" height="1.5" class="v30"/><rect x="7" y="7" width="1.5" height="1.5" class="v29"/><rect x="8" y="7" width="3.5" height="1.5" class="v30"/><rect x="11" y="7" width="1.5" height="1.5" class="v26"/><rect x="12" y="7" width="1.5" height="1.5" class="v29"/><rect x="13" y="7" width="1.5" height="1.5" class="v34"/><rect x="14" y="7" width="1.5" height="1.5" class="v31"/><rect x="15" y="7" width="1.5" height="1.5" class="v32"/><rect x="16" y="7" width="2.5" height="1.5" class="v34"/><rect x="18" y="7" width="1.5" height="1.5" class="v32"/><rect x="19" y="7" width="3.5" height="1.5" class="v34"/><rect x="22" y="7" width="1.5" height="1.5" class="v31"/><rect x="23" y="7" width="1" height="1.5" class="v35"/><rect x="0" y="8" width="1.5" height="1.5" class="v15"/><rect x="1" y="8" width="2.5" height="1.5" class="v24"/><rect x="3" y="8" width="1.5" height="1.5" class="v25"/><rect x="4" y="8" width="1.5" height="1.5" class="v28"/><rect x="5" y="8" width="1.5" height="1.5" class="v26"/><rect x="6" y="8" width="2.5" height="1.5" class="v27"/><rect x="8" y="8" width="1.5" height="1.5" class="v26"/><rect x="9" y="8" width="1.5" height="1.5" class="v25"/><rect x="10" y="8" width="1.5" height="1.5" class="v24"/><rect x="11" y="8" width="1.5" height="1.5" class="v25"/><rect x="12" y="8" width="2.5" height="1.5" class="v24"/><rect x="14" y="8" width="1.5" height="1.5" class="v25"/><rect x="15" y="8" width="1.5" height="1.5" class="v24"/><rect x="16" y="8" width="1.5" height="1.5" class="v26"/><rect x="17" y="8" width="1.5" height="1.5" class="v27"/><rect x="18" y="8" width="1.5" height="1.5" class="v28"/><rect x="19" y="8" width="1.5" height="1.5" class="v27"/><rect x="20" y="8" width="2.5" height="1.5" class="v28"/><rect x="22" y="8" width="1.5" height="1.5" class="v29"/><rect x="23" y="8" width="1" height="1.5" class="v27"/><rect x="0" y="9" width="1.5" height="1.5" class="v29"/><rect x="1" y="9" width="1.5" height="1.5" class="v23"/><rect x="2" y="9" width="1.5" height="1.5" class="v28"/><rect x="3" y="9" width="1.5" height="1.5" class="v26"/><rect x="4" y="9" width="1.5" height="1.5" class="v28"/><rect x="5" y="9" width="1.5" height="1.5" class="v30"/><rect x="6" y="9" width="1.5" height="1.5" class="v29"/><rect x="7" y="9" width="3.5" height="1.5" class="v30"/><rect x="10" y="9" width="2.5" height="1.5" class="v28"/><rect x="12" y="9" width="2.5" height="1.5" class="v29"/><rect x="14" y="9" width="1.5" height="1.5" class="v30"/><rect x="15" y="9" width="1.5" height="1.5" class="v31"/><rect x="16" y="9" width="1.5" height="1.5" class="v28"/><rect x="17" y="9" width="1.5" height="1.5" class="v30"/><rect x="18" y="9" width="5.5" height="1.5" class="v31"/><rect x="23" y="9" width="1" height="1.5" class="v32"/><rect x="0" y="10" width="1.5" height="1.5" class="v16"/><rect x="1" y="10" width="1.5" height="1.5" class="v31"/><rect x="2" y="10" width="1.5" height="1.5" class="v23"/><rect x="3" y="10" width="1.5" height="1.5" class="v29"/><rect x="4" y="10" width="1.5" height="1.5" class="v26"/><rect x="5" y="10" width="1.5" height="1.5" class="v28"/><rect x="6" y="10" width="3.5" height="1.5" class="v30"/><rect x="9" y="10" width="1.5" height="1.5" class="v29"/><rect x="10" y="10" width="2.5" height="1.5" class="v30"/><rect x="12" y="10" width="2.5" height="1.5" class="v29"/><rect x="14" y="10" width="1.5" height="1.5" class="v28"/><rect x="15" y="10" width="2.5" height="1.5" class="v31"/><rect x="17" y="10" width="1.5" height="1.5" class="v29"/><rect x="18" y="10" width="1.5" height="1.5" class="v30"/><rect x="19" y="10" width="5" height="1.5" class="v31"/><rect x="0" y="11" width="1.5" height="1" class="v21"/><rect x="1" y="11" width="1.5" height="1" class="v17"/><rect x="2" y="11" width="1.5" height="1" class="v31"/><rect x="3" y="11" width="1.5" height="1" class="v26"/><rect x="4" y="11" width="1.5" height="1" class="v29"/><rect x="5" y="11" width="1.5" height="1" class="v28"/><rect x="6" y="11" width="6.5" height="1" class="v30"/><rect x="12" y="11" width="4.5" height="1" class="v29"/><rect x="16" y="11" width="1.5" height="1" class="v31"/><rect x="17" y="11" width="1.5" height="1" class="v32"/><rect x="18" y="11" width="3.5" height="1" class="v31"/><rect x="21" y="11" width="1.5" height="1" class="v32"/><rect x="22" y="11" width="1.5" height="1" class="v31"/><rect x="23" y="11" width="1" height="1" class="v32"/><ellipse cx="16.500" cy="0.500" rx="0.110" ry="0.172" fill="#000" shape-rendering="auto"/><ellipse cx="17.500" cy="1.500" rx="0.110" ry="0.172" fill="#000" shape-rendering="auto"/><ellipse cx="1.500" cy="2.500" rx="0.110" ry="0.172" fill="#000" shape-rendering="auto"/><ellipse cx="19.500" cy="3.500" rx="0.110" ry="0.172" fill="#000" shape-rendering="auto"/><ellipse cx="20.500" cy="4.500" rx="0.110" ry="0.172" fill="#000" shape-rendering="auto"/><ellipse cx="21.500" cy="5.500" rx="0.110" ry="0.172" fill="#000" shape-rendering="auto"/><ellipse cx="22.500" cy="6.500" rx="0.110" ry="0.172" fill="#000" shape-rendering="auto"/><ellipse cx="23.500" cy="7.500" rx="0.110" ry="0.172" fill="#000" shape-rendering="auto"/><ellipse cx="22.500" cy="8.500" rx="0.110" ry="0.172" fill="#000" shape-rendering="auto"/><ellipse cx="23.500" cy="9.500" rx="0.110" ry="0.172" fill="#000" shape-rendering="auto"/><ellipse cx="20.500" cy="10.500" rx="0.110" ry="0.172" fill="#000" shape-rendering="auto"/><ellipse cx="21.500" cy="11.500" rx="0.110" ry="0.172" fill="#000" shape-rendering="auto"/></svg>
<div class="t mb" style="right:1299.00px;top:1860.73px">Jan</div>
<div class="t mb" style="right:1299.00px;top:1888.05px">Mar</div>
<div class="t mb" style="right:1299.00px;top:1915.36px">May</div>
<div class="t mb" style="right:1299.00px;top:1942.68px">Jul</div>
<div class="t mb" style="right:1299.00px;top:1970.00px">Sep</div>
<div class="t mb" style="right:1299.00px;top:1997.31px">Nov</div>
<div class="t pl" style="left:23.40px;top:1933.30px">(B)</div>
<div class="t tk" style="left:108.91px;top:2026.77px;width:40px;margin-left:-20px;text-align:center">&#160;1</div>
<div class="t tk" style="left:151.77px;top:2026.77px;width:40px;margin-left:-20px;text-align:center">&#160;3</div>
<div class="t tk" style="left:194.63px;top:2026.77px;width:40px;margin-left:-20px;text-align:center">&#160;5</div>
<div class="t tk" style="left:237.49px;top:2026.77px;width:40px;margin-left:-20px;text-align:center">&#160;7</div>
<div class="t tk" style="left:280.35px;top:2026.77px;width:40px;margin-left:-20px;text-align:center">&#160;9</div>
<div class="t tk" style="left:323.21px;top:2026.77px;width:40px;margin-left:-20px;text-align:center">11</div>
<div class="t tk" style="left:366.06px;top:2026.77px;width:40px;margin-left:-20px;text-align:center">13</div>
<div class="t tk" style="left:408.92px;top:2026.77px;width:40px;margin-left:-20px;text-align:center">15</div>
<div class="t tk" style="left:451.78px;top:2026.77px;width:40px;margin-left:-20px;text-align:center">17</div>
<div class="t tk" style="left:494.64px;top:2026.77px;width:40px;margin-left:-20px;text-align:center">19</div>
<div class="t tk" style="left:537.50px;top:2026.77px;width:40px;margin-left:-20px;text-align:center">21</div>
<div class="t tk" style="left:580.36px;top:2026.77px;width:40px;margin-left:-20px;text-align:center">23</div>
<svg class="hm" style="left:98.20px;top:2104.80px;width:514.30px;height:163.90px" viewBox="0 0 24 12" preserveAspectRatio="none"><rect x="0" y="0" width="1.5" height="1.5" class="v17"/><rect x="1" y="0" width="1.5" height="1.5" class="v18"/><rect x="2" y="0" width="1.5" height="1.5" class="v14"/><rect x="3" y="0" width="1.5" height="1.5" class="v16"/><rect x="4" y="0" width="2.5" height="1.5" class="v31"/><rect x="6" y="0" width="2.5" height="1.5" class="v29"/><rect x="8" y="0" width="1.5" height="1.5" class="v28"/><rect x="9" y="0" width="1.5" height="1.5" class="v27"/><rect x="10" y="0" width="2.5" height="1.5" class="v25"/><rect x="12" y="0" width="4.5" height="1.5" class="v24"/><rect x="16" y="0" width="1.5" height="1.5" class="v20"/><rect x="17" y="0" width="1.5" height="1.5" class="v21"/><rect x="18" y="0" width="1.5" height="1.5" class="v20"/><rect x="19" y="0" width="1.5" height="1.5" class="v21"/><rect x="20" y="0" width="1.5" height="1.5" class="v20"/><rect x="21" y="0" width="1.5" height="1.5" class="v19"/><rect x="22" y="0" width="2" height="1.5" class="v20"/><rect x="0" y="1" width="1.5" height="1.5" class="v31"/><rect x="1" y="1" width="1.5" height="1.5" class="v33"/><rect x="2" y="1" width="1.5" height="1.5" class="v35"/><rect x="3" y="1" width="1.5" height="1.5" class="v34"/><rect x="4" y="1" width="1.5" height="1.5" class="v33"/><rect x="5" y="1" width="1.5" height="1.5" class="v21"/><rect x="6" y="1" width="2.5" height="1.5" class="v16"/><rect x="8" y="1" width="1.5" height="1.5" class="v18"/><rect x="9" y="1" width="2.5" height="1.5" class="v22"/><rect x="11" y="1" width="1.5" height="1.5" class="v24"/><rect x="12" y="1" width="1.5" height="1.5" class="v25"/><rect x="13" y="1" width="1.5" height="1.5" class="v21"/><rect x="14" y="1" width="2.5" height="1.5" class="v24"/><rect x="16" y="1" width="1.5" height="1.5" class="v22"/><rect x="17" y="1" width="1.5" height="1.5" class="v21"/><rect x="18" y="1" width="4.5" height="1.5" class="v24"/><rect x="22" y="1" width="2" height="1.5" class="v22"/><rect x="0" y="2" width="1.5" height="1.5" class="v31"/><rect x="1" y="2" width="1.5" height="1.5" class="v29"/><rect x="2" y="2" width="1.5" height="1.5" class="v15"/><rect x="3" y="2" width="1.5" height="1.5" class="v21"/><rect x="4" y="2" width="1.5" height="1.5" class="v18"/><rect x="5" y="2" width="1.5" height="1.5" class="v16"/><rect x="6" y="2" width="1.5" height="1.5" class="v27"/><rect x="7" y="2" width="1.5" height="1.5" class="v28"/><rect x="8" y="2" width="1.5" height="1.5" class="v29"/><rect x="9" y="2" width="1.5" height="1.5" class="v30"/><rect x="10" y="2" width="5.5" height="1.5" class="v32"/><rect x="15" y="2" width="3.5" height="1.5" class="v31"/><rect x="18" y="2" width="1.5" height="1.5" class="v29"/><rect x="19" y="2" width="1.5" height="1.5" class="v30"/><rect x="20" y="2" width="4" height="1.5" class="v28"/><rect x="0" y="3" width="1.5" height="1.5" class="v32"/><rect x="1" y="3" width="1.5" height="1.5" class="v35"/><rect x="2" y="3" width="1.5" height="1.5" class="v36"/><rect x="3" y="3" width="4.5" height="1.5" class="v37"/><rect x="7" y="3" width="1.5" height="1.5" class="v35"/><rect x="8" y="3" width="1.5" height="1.5" class="v31"/><rect x="9" y="3" width="1.5" height="1.5" class="v29"/><rect x="10" y="3" width="4.5" height="1.5" class="v31"/><rect x="14" y="3" width="1.5" height="1.5" class="v32"/><rect x="15" y="3" width="1.5" height="1.5" class="v29"/><rect x="16" y="3" width="1.5" height="1.5" class="v30"/><rect x="17" y="3" width="1.5" height="1.5" class="v29"/><rect x="18" y="3" width="2.5" height="1.5" class="v28"/><rect x="20" y="3" width="1.5" height="1.5" class="v29"/><rect x="21" y="3" width="1.5" height="1.5" class="v28"/><rect x="22" y="3" width="1.5" height="1.5" class="v25"/><rect x="23" y="3" width="1" height="1.5" class="v24"/><rect x="0" y="4" width="2.5" height="1.5" class="v29"/><rect x="2" y="4" width="1.5" height="1.5" class="v30"/><rect x="3" y="4" width="1.5" height="1.5" class="v31"/><rect x="4" y="4" width="1.5" height="1.5" class="v26"/><rect x="5" y="4" width="1.5" height="1.5" class="v23"/><rect x="6" y="4" width="1.5" height="1.5" class="v25"/><rect x="7" y="4" width="1.5" height="1.5" class="v21"/><rect x="8" y="4" width="2.5" height="1.5" class="v24"/><rect x="10" y="4" width="1.5" height="1.5" class="v23"/><rect x="11" y="4" width="1.5" height="1.5" class="v18"/><rect x="12" y="4" width="1.5" height="1.5" class="v17"/><rect x="13" y="4" width="1.5" height="1.5" class="v16"/><rect x="14" y="4" width="1.5" height="1.5" class="v15"/><rect x="15" y="4" width="1.5" height="1.5" class="v16"/><rect x="16" y="4" width="1.5" height="1.5" class="v15"/><rect x="17" y="4" width="2.5" height="1.5" class="v14"/><rect x="19" y="4" width="1.5" height="1.5" class="v15"/><rect x="20" y="4" width="1.5" height="1.5" class="v16"/><rect x="21" y="4" width="1.5" height="1.5" class="v18"/><rect x="22" y="4" width="1.5" height="1.5" class="v19"/><rect x="23" y="4" width="1" height="1.5" class="v18"/><rect x="0" y="5" width="1.5" height="1.5" class="v34"/><rect x="1" y="5" width="1.5" height="1.5" class="v28"/><rect x="2" y="5" width="1.5" height="1.5" class="v30"/><rect x="3" y="5" width="1.5" height="1.5" class="v31"/><rect x="4" y="5" width="1.5" height="1.5" class="v29"/><rect x="5" y="5" width="1.5" height="1.5" class="v33"/><rect x="6" y="5" width="1.5" height="1.5" class="v28"/><rect x="7" y="5" width="1.5" height="1.5" class="v30"/><rect x="8" y="5" width="1.5" height="1.5" class="v31"/><rect x="9" y="5" width="1.5" height="1.5" class="v29"/><rect x="10" y="5" width="2.5" height="1.5" class="v25"/><rect x="12" y="5" width="1.5" height="1.5" class="v24"/><rect x="13" y="5" width="1.5" height="1.5" class="v25"/><rect x="14" y="5" width="2.5" height="1.5" class="v26"/><rect x="16" y="5" width="1.5" height="1.5" class="v27"/><rect x="17" y="5" width="1.5" height="1.5" class="v25"/><rect x="18" y="5" width="1.5" height="1.5" class="v28"/><rect x="19" y="5" width="1.5" height="1.5" class="v26"/><rect x="20" y="5" width="1.5" height="1.5" class="v24"/><rect x="21" y="5" width="1.5" height="1.5" class="v23"/><rect x="22" y="5" width="1.5" height="1.5" class="v22"/><rect x="23" y="5" width="1" height="1.5" class="v21"/><rect x="0" y="6" width="1.5" height="1.5" class="v29"/><rect x="1" y="6" width="1.5" height="1.5" class="v20"/><rect x="2" y="6" width="1.5" height="1.5" class="v15"/><rect x="3" y="6" width="1.5" height="1.5" class="v18"/><rect x="4" y="6" width="2.5" height="1.5" class="v17"/><rect x="6" y="6" width="1.5" height="1.5" class="v22"/><rect x="7" y="6" width="1.5" height="1.5" class="v21"/><rect x="8" y="6" width="2.5" height="1.5" class="v20"/><rect x="10" y="6" width="1.5" height="1.5" class="v9"/><rect x="11" y="6" width="1.5" height="1.5" class="v5"/><rect x="12" y="6" width="1.5" height="1.5" class="v3"/><rect x="13" y="6" width="3.5" height="1.5" class="v5"/><rect x="16" y="6" width="1.5" height="1.5" class="v6"/><rect x="17" y="6" width="1.5" height="1.5" class="v7"/><rect x="18" y="6" width="1.5" height="1.5" class="v5"/><rect x="19" y="6" width="3.5" height="1.5" class="v6"/><rect x="22" y="6" width="1.5" height="1.5" class="v9"/><rect x="23" y="6" width="1" height="1.5" class="v11"/><rect x="0" y="7" width="1.5" height="1.5" class="v32"/><rect x="1" y="7" width="1.5" height="1.5" class="v33"/><rect x="2" y="7" width="1.5" height="1.5" class="v25"/><rect x="3" y="7" width="1.5" height="1.5" class="v15"/><rect x="4" y="7" width="1.5" height="1.5" class="v13"/><rect x="5" y="7" width="1.5" height="1.5" class="v14"/><rect x="6" y="7" width="1.5" height="1.5" class="v13"/><rect x="7" y="7" width="2.5" height="1.5" class="v17"/><rect x="9" y="7" width="1.5" height="1.5" class="v16"/><rect x="10" y="7" width="1.5" height="1.5" class="v18"/><rect x="11" y="7" width="1.5" height="1.5" class="v11"/><rect x="12" y="7" width="1.5" height="1.5" class="v9"/><rect x="13" y="7" width="2.5" height="1.5" class="v10"/><rect x="15" y="7" width="1.5" height="1.5" class="v11"/><rect x="16" y="7" width="1.5" height="1.5" class="v12"/><rect x="17" y="7" width="2.5" height="1.5" class="v13"/><rect x="19" y="7" width="1.5" height="1.5" class="v12"/><rect x="20" y="7" width="1.5" height="1.5" class="v14"/><rect x="21" y="7" width="1.5" height="1.5" class="v15"/><rect x="22" y="7" width="2" height="1.5" class="v14"/><rect x="0" y="8" width="4.5" height="1.5" class="v34"/><rect x="4" y="8" width="1.5" height="1.5" class="v37"/><rect x="5" y="8" width="2.5" height="1.5" class="v36"/><rect x="7" y="8" width="1.5" height="1.5" class="v37"/><rect x="8" y="8" width="1.5" height="1.5" class="v35"/><rect x="9" y="8" width="3.5" height="1.5" class="v34"/><rect x="12" y="8" width="1.5" height="1.5" class="v32"/><rect x="13" y="8" width="1.5" height="1.5" class="v31"/><rect x="14" y="8" width="1.5" height="1.5" class="v29"/><rect x="15" y="8" width="5.5" height="1.5" class="v28"/><rect x="20" y="8" width="1.5" height="1.5" class="v27"/><rect x="21" y="8" width="2.5" height="1.5" class="v28"/><rect x="23" y="8" width="1" height="1.5" class="v26"/><rect x="0" y="9" width="1.5" height="1.5" class="v34"/><rect x="1" y="9" width="1.5" height="1.5" class="v32"/><rect x="2" y="9" width="3.5" height="1.5" class="v29"/><rect x="5" y="9" width="1.5" height="1.5" class="v28"/><rect x="6" y="9" width="1.5" height="1.5" class="v27"/><rect x="7" y="9" width="1.5" height="1.5" class="v26"/><rect x="8" y="9" width="1.5" height="1.5" class="v27"/><rect x="9" y="9" width="1.5" height="1.5" class="v28"/><rect x="10" y="9" width="1.5" height="1.5" class="v29"/><rect x="11" y="9" width="2.5" height="1.5" class="v28"/><rect x="13" y="9" width="1.5" height="1.5" class="v21"/><rect x="14" y="9" width="1.5" height="1.5" class="v18"/><rect x="15" y="9" width="1.5" height="1.5" class="v16"/><rect x="16" y="9" width="1.5" height="1.5" class="v17"/><rect x="17" y="9" width="1.5" height="1.5" class="v20"/><rect x="18" y="9" width="1.5" height="1.5" class="v18"/><rect x="19" y="9" width="2.5" height="1.5" class="v17"/><rect x="21" y="9" width="3" height="1.5" class="v15"/><rect x="0" y="10" width="1.5" height="1.5" class="v36"/><rect x="1" y="10" width="1.5" height="1.5" class="v28"/><rect x="2" y="10" width="4.5" height="1.5" class="v24"/><rect x="6" y="10" width="1.5" height="1.5" class="v22"/><rect x="7" y="10" width="3.5" height="1.5" class="v20"/><rect x="10" y="10" width="1.5" height="1.5" class="v24"/><rect x="11" y="10" width="1.5" height="1.5" class="v22"/><rect x="12" y="10" width="2.5" height="1.5" class="v21"/><rect x="14" y="10" width="1.5" height="1.5" class="v23"/><rect x="15" y="10" width="1.5" height="1.5" class="v20"/><rect x="16" y="10" width="1.5" height="1.5" class="v19"/><rect x="17" y="10" width="1.5" height="1.5" class="v18"/><rect x="18" y="10" width="3.5" height="1.5" class="v17"/><rect x="21" y="10" width="1.5" height="1.5" class="v18"/><rect x="22" y="10" width="1.5" height="1.5" class="v19"/><rect x="23" y="10" width="1" height="1.5" class="v22"/><rect x="0" y="11" width="1.5" height="1" class="v21"/><rect x="1" y="11" width="1.5" height="1" class="v29"/><rect x="2" y="11" width="1.5" height="1" class="v22"/><rect x="3" y="11" width="2.5" height="1" class="v17"/><rect x="5" y="11" width="1.5" height="1" class="v18"/><rect x="6" y="11" width="2.5" height="1" class="v20"/><rect x="8" y="11" width="1.5" height="1" class="v18"/><rect x="9" y="11" width="2.5" height="1" class="v17"/><rect x="11" y="11" width="3.5" height="1" class="v18"/><rect x="14" y="11" width="1.5" height="1" class="v17"/><rect x="15" y="11" width="1.5" height="1" class="v15"/><rect x="16" y="11" width="1.5" height="1" class="v11"/><rect x="17" y="11" width="1.5" height="1" class="v9"/><rect x="18" y="11" width="1.5" height="1" class="v7"/><rect x="19" y="11" width="1.5" height="1" class="v6"/><rect x="20" y="11" width="1.5" height="1" class="v9"/><rect x="21" y="11" width="1.5" height="1" class="v6"/><rect x="22" y="11" width="2" height="1" class="v9"/><ellipse cx="5.500" cy="0.500" rx="0.110" ry="0.172" fill="#000" shape-rendering="auto"/><ellipse cx="2.500" cy="1.500" rx="0.110" ry="0.172" fill="#000" shape-rendering="auto"/><ellipse cx="10.500" cy="2.500" rx="0.110" ry="0.172" fill="#000" shape-rendering="auto"/><ellipse cx="4.500" cy="3.500" rx="0.110" ry="0.172" fill="#000" shape-rendering="auto"/><ellipse cx="3.500" cy="4.500" rx="0.110" ry="0.172" fill="#000" shape-rendering="auto"/><ellipse cx="0.500" cy="5.500" rx="0.110" ry="0.172" fill="#000" shape-rendering="auto"/><ellipse cx="0.500" cy="6.500" rx="0.110" ry="0.172" fill="#000" shape-rendering="auto"/><ellipse cx="1.500" cy="7.500" rx="0.110" ry="0.172" fill="#000" shape-rendering="auto"/><ellipse cx="4.500" cy="8.500" rx="0.110" ry="0.172" fill="#000" shape-rendering="auto"/><ellipse cx="0.500" cy="9.500" rx="0.110" ry="0.172" fill="#000" shape-rendering="auto"/><ellipse cx="0.500" cy="10.500" rx="0.110" ry="0.172" fill="#000" shape-rendering="auto"/><ellipse cx="1.500" cy="11.500" rx="0.110" ry="0.172" fill="#000" shape-rendering="auto"/></svg>
<div class="t mb" style="right:1299.00px;top:2104.23px">Jan</div>
<div class="t mb" style="right:1299.00px;top:2131.55px">Mar</div>
<div class="t mb" style="right:1299.00px;top:2158.86px">May</div>
<div class="t mb" style="right:1299.00px;top:2186.18px">Jul</div>
<div class="t mb" style="right:1299.00px;top:2213.50px">Sep</div>
<div class="t mb" style="right:1299.00px;top:2240.81px">Nov</div>
<div class="t pl" style="left:19.80px;top:2177.10px">(C)</div>
<div class="t tk" style="left:108.91px;top:2270.27px;width:40px;margin-left:-20px;text-align:center">&#160;1</div>
<div class="t tk" style="left:151.77px;top:2270.27px;width:40px;margin-left:-20px;text-align:center">&#160;3</div>
<div class="t tk" style="left:194.63px;top:2270.27px;width:40px;margin-left:-20px;text-align:center">&#160;5</div>
<div class="t tk" style="left:237.49px;top:2270.27px;width:40px;margin-left:-20px;text-align:center">&#160;7</div>
<div class="t tk" style="left:280.35px;top:2270.27px;width:40px;margin-left:-20px;text-align:center">&#160;9</div>
<div class="t tk" style="left:323.21px;top:2270.27px;width:40px;margin-left:-20px;text-align:center">11</div>
<div class="t tk" style="left:366.06px;top:2270.27px;width:40px;margin-left:-20px;text-align:center">13</div>
<div class="t tk" style="left:408.92px;top:2270.27px;width:40px;margin-left:-20px;text-align:center">15</div>
<div class="t tk" style="left:451.78px;top:2270.27px;width:40px;margin-left:-20px;text-align:center">17</div>
<div class="t tk" style="left:494.64px;top:2270.27px;width:40px;margin-left:-20px;text-align:center">19</div>
<div class="t tk" style="left:537.50px;top:2270.27px;width:40px;margin-left:-20px;text-align:center">21</div>
<div class="t tk" style="left:580.36px;top:2270.27px;width:40px;margin-left:-20px;text-align:center">23</div>
<div class="t sc" style="left:344.00px;top:2296.19px;width:100px;margin-left:-50px;text-align:center">Scales</div>
<svg class="hm" style="left:757.00px;top:1616.90px;width:514.60px;height:164.10px" viewBox="0 0 24 12" preserveAspectRatio="none"><rect x="0" y="0" width="1.5" height="1.5" class="v14"/><rect x="1" y="0" width="1.5" height="1.5" class="v21"/><rect x="2" y="0" width="1.5" height="1.5" class="v26"/><rect x="3" y="0" width="1.5" height="1.5" class="v24"/><rect x="4" y="0" width="1.5" height="1.5" class="v18"/><rect x="5" y="0" width="2.5" height="1.5" class="v21"/><rect x="7" y="0" width="1.5" height="1.5" class="v20"/><rect x="8" y="0" width="1.5" height="1.5" class="v23"/><rect x="9" y="0" width="1.5" height="1.5" class="v22"/><rect x="10" y="0" width="2.5" height="1.5" class="v23"/><rect x="12" y="0" width="1.5" height="1.5" class="v15"/><rect x="13" y="0" width="2.5" height="1.5" class="v13"/><rect x="15" y="0" width="3.5" height="1.5" class="v12"/><rect x="18" y="0" width="2.5" height="1.5" class="v11"/><rect x="20" y="0" width="1.5" height="1.5" class="v12"/><rect x="21" y="0" width="1.5" height="1.5" class="v13"/><rect x="22" y="0" width="1.5" height="1.5" class="v11"/><rect x="23" y="0" width="1" height="1.5" class="v12"/><rect x="0" y="1" width="1.5" height="1.5" class="v20"/><rect x="1" y="1" width="1.5" height="1.5" class="v12"/><rect x="2" y="1" width="1.5" height="1.5" class="v16"/><rect x="3" y="1" width="1.5" height="1.5" class="v24"/><rect x="4" y="1" width="1.5" height="1.5" class="v21"/><rect x="5" y="1" width="1.5" height="1.5" class="v12"/><rect x="6" y="1" width="1.5" height="1.5" class="v18"/><rect x="7" y="1" width="1.5" height="1.5" class="v19"/><rect x="8" y="1" width="1.5" height="1.5" class="v18"/><rect x="9" y="1" width="1.5" height="1.5" class="v20"/><rect x="10" y="1" width="2.5" height="1.5" class="v21"/><rect x="12" y="1" width="1.5" height="1.5" class="v22"/><rect x="13" y="1" width="1.5" height="1.5" class="v16"/><rect x="14" y="1" width="1.5" height="1.5" class="v14"/><rect x="15" y="1" width="1.5" height="1.5" class="v12"/><rect x="16" y="1" width="1.5" height="1.5" class="v10"/><rect x="17" y="1" width="2.5" height="1.5" class="v12"/><rect x="19" y="1" width="2.5" height="1.5" class="v10"/><rect x="21" y="1" width="2.5" height="1.5" class="v11"/><rect x="23" y="1" width="1" height="1.5" class="v9"/><rect x="0" y="2" width="2.5" height="1.5" class="v21"/><rect x="2" y="2" width="1.5" height="1.5" class="v9"/><rect x="3" y="2" width="1.5" height="1.5" class="v12"/><rect x="4" y="2" width="1.5" height="1.5" class="v24"/><rect x="5" y="2" width="1.5" height="1.5" class="v18"/><rect x="6" y="2" width="1.5" height="1.5" class="v10"/><rect x="7" y="2" width="1.5" height="1.5" class="v15"/><rect x="8" y="2" width="1.5" height="1.5" class="v16"/><rect x="9" y="2" width="1.5" height="1.5" class="v15"/><rect x="10" y="2" width="1.5" height="1.5" class="v16"/><rect x="11" y="2" width="1.5" height="1.5" class="v18"/><rect x="12" y="2" width="1.5" height="1.5" class="v20"/><rect x="13" y="2" width="1.5" height="1.5" class="v18"/><rect x="14" y="2" width="1.5" height="1.5" class="v14"/><rect x="15" y="2" width="1.5" height="1.5" class="v12"/><rect x="16" y="2" width="1.5" height="1.5" class="v11"/><rect x="17" y="2" width="1.5" height="1.5" class="v8"/><rect x="18" y="2" width="1.5" height="1.5" class="v10"/><rect x="19" y="2" width="1.5" height="1.5" class="v11"/><rect x="20" y="2" width="1.5" height="1.5" class="v10"/><rect x="21" y="2" width="1.5" height="1.5" class="v12"/><rect x="22" y="2" width="1.5" height="1.5" class="v11"/><rect x="23" y="2" width="1" height="1.5" class="v10"/><rect x="0" y="3" width="2.5" height="1.5" class="v30"/><rect x="2" y="3" width="1.5" height="1.5" class="v29"/><rect x="3" y="3" width="2.5" height="1.5" class="v20"/><rect x="5" y="3" width="1.5" height="1.5" class="v27"/><rect x="6" y="3" width="1.5" height="1.5" class="v24"/><rect x="7" y="3" width="1.5" height="1.5" class="v16"/><rect x="8" y="3" width="1.5" height="1.5" class="v18"/><rect x="9" y="3" width="1.5" height="1.5" class="v19"/><rect x="10" y="3" width="2.5" height="1.5" class="v18"/><rect x="12" y="3" width="1.5" height="1.5" class="v21"/><rect x="13" y="3" width="1.5" height="1.5" class="v22"/><rect x="14" y="3" width="1.5" height="1.5" class="v21"/><rect x="15" y="3" width="1.5" height="1.5" class="v16"/><rect x="16" y="3" width="1.5" height="1.5" class="v15"/><rect x="17" y="3" width="1.5" height="1.5" class="v14"/><rect x="18" y="3" width="1.5" height="1.5" class="v8"/><rect x="19" y="3" width="2.5" height="1.5" class="v10"/><rect x="21" y="3" width="1.5" height="1.5" class="v9"/><rect x="22" y="3" width="2" height="1.5" class="v10"/><rect x="0" y="4" width="1.5" height="1.5" class="v27"/><rect x="1" y="4" width="1.5" height="1.5" class="v29"/><rect x="2" y="4" width="1.5" height="1.5" class="v31"/><rect x="3" y="4" width="1.5" height="1.5" class="v29"/><rect x="4" y="4" width="1.5" height="1.5" class="v18"/><rect x="5" y="4" width="1.5" height="1.5" class="v20"/><rect x="6" y="4" width="1.5" height="1.5" class="v28"/><rect x="7" y="4" width="1.5" height="1.5" class="v21"/><rect x="8" y="4" width="1.5" height="1.5" class="v14"/><rect x="9" y="4" width="1.5" height="1.5" class="v18"/><rect x="10" y="4" width="1.5" height="1.5" class="v19"/><rect x="11" y="4" width="1.5" height="1.5" class="v17"/><rect x="12" y="4" width="2.5" height="1.5" class="v18"/><rect x="14" y="4" width="1.5" height="1.5" class="v21"/><rect x="15" y="4" width="1.5" height="1.5" class="v20"/><rect x="16" y="4" width="1.5" height="1.5" class="v13"/><rect x="17" y="4" width="1.5" height="1.5" class="v12"/><rect x="18" y="4" width="1.5" height="1.5" class="v14"/><rect x="19" y="4" width="1.5" height="1.5" class="v10"/><rect x="20" y="4" width="2.5" height="1.5" class="v13"/><rect x="22" y="4" width="2" height="1.5" class="v12"/><rect x="0" y="5" width="1.5" height="1.5" class="v13"/><rect x="1" y="5" width="1.5" height="1.5" class="v18"/><rect x="2" y="5" width="2.5" height="1.5" class="v25"/><rect x="4" y="5" width="1.5" height="1.5" class="v24"/><rect x="5" y="5" width="1.5" height="1.5" class="v15"/><rect x="6" y="5" width="1.5" height="1.5" class="v18"/><rect x="7" y="5" width="1.5" height="1.5" class="v24"/><rect x="8" y="5" width="1.5" height="1.5" class="v21"/><rect x="9" y="5" width="1.5" height="1.5" class="v13"/><rect x="10" y="5" width="1.5" height="1.5" class="v18"/><rect x="11" y="5" width="1.5" height="1.5" class="v21"/><rect x="12" y="5" width="1.5" height="1.5" class="v16"/><rect x="13" y="5" width="2.5" height="1.5" class="v18"/><rect x="15" y="5" width="2.5" height="1.5" class="v20"/><rect x="17" y="5" width="1.5" height="1.5" class="v15"/><rect x="18" y="5" width="1.5" height="1.5" class="v12"/><rect x="19" y="5" width="1.5" height="1.5" class="v13"/><rect x="20" y="5" width="2.5" height="1.5" class="v9"/><rect x="22" y="5" width="1.5" height="1.5" class="v12"/><rect x="23" y="5" width="1" height="1.5" class="v11"/><rect x="0" y="6" width="1.5" height="1.5" class="v28"/><rect x="1" y="6" width="1.5" height="1.5" class="v25"/><rect x="2" y="6" width="1.5" height="1.5" class="v27"/><rect x="3" y="6" width="1.5" height="1.5" class="v31"/><rect x="4" y="6" width="2.5" height="1.5" class="v28"/><rect x="6" y="6" width="2.5" height="1.5" class="v21"/><rect x="8" y="6" width="1.5" height="1.5" class="v29"/><rect x="9" y="6" width="1.5" height="1.5" class="v25"/><rect x="10" y="6" width="1.5" height="1.5" class="v15"/><rect x="11" y="6" width="1.5" height="1.5" class="v18"/><rect x="12" y="6" width="1.5" height="1.5" class="v21"/><rect x="13" y="6" width="1.5" height="1.5" class="v17"/><rect x="14" y="6" width="1.5" height="1.5" class="v21"/><rect x="15" y="6" width="1.5" height="1.5" class="v20"/><rect x="16" y="6" width="2.5" height="1.5" class="v21"/><rect x="18" y="6" width="1.5" height="1.5" class="v15"/><rect x="19" y="6" width="1.5" height="1.5" class="v13"/><rect x="20" y="6" width="1.5" height="1.5" class="v14"/><rect x="21" y="6" width="3" height="1.5" class="v11"/><rect x="0" y="7" width="1.5" height="1.5" class="v27"/><rect x="1" y="7" width="1.5" height="1.5" class="v28"/><rect x="2" y="7" width="1.5" height="1.5" class="v27"/><rect x="3" y="7" width="1.5" height="1.5" class="v26"/><rect x="4" y="7" width="2.5" height="1.5" class="v27"/><rect x="6" y="7" width="1.5" height="1.5" class="v28"/><rect x="7" y="7" width="2.5" height="1.5" class="v24"/><rect x="9" y="7" width="1.5" height="1.5" class="v27"/><rect x="10" y="7" width="1.5" height="1.5" class="v24"/><rect x="11" y="7" width="1.5" height="1.5" class="v18"/><rect x="12" y="7" width="1.5" height="1.5" class="v21"/><rect x="13" y="7" width="1.5" height="1.5" class="v22"/><rect x="14" y="7" width="1.5" height="1.5" class="v21"/><rect x="15" y="7" width="1.5" height="1.5" class="v22"/><rect x="16" y="7" width="1.5" height="1.5" class="v21"/><rect x="17" y="7" width="2.5" height="1.5" class="v22"/><rect x="19" y="7" width="1.5" height="1.5" class="v21"/><rect x="20" y="7" width="1.5" height="1.5" class="v18"/><rect x="21" y="7" width="3" height="1.5" class="v15"/><rect x="0" y="8" width="1.5" height="1.5" class="v18"/><rect x="1" y="8" width="1.5" height="1.5" class="v21"/><rect x="2" y="8" width="1.5" height="1.5" class="v27"/><rect x="3" y="8" width="1.5" height="1.5" class="v25"/><rect x="4" y="8" width="1.5" height="1.5" class="v26"/><rect x="5" y="8" width="1.5" height="1.5" class="v25"/><rect x="6" y="8" width="1.5" height="1.5" class="v24"/><rect x="7" y="8" width="1.5" height="1.5" class="v25"/><rect x="8" y="8" width="1.5" height="1.5" class="v21"/><rect x="9" y="8" width="1.5" height="1.5" class="v22"/><rect x="10" y="8" width="2.5" height="1.5" class="v24"/><rect x="12" y="8" width="1.5" height="1.5" class="v17"/><rect x="13" y="8" width="2.5" height="1.5" class="v21"/><rect x="15" y="8" width="1.5" height="1.5" class="v20"/><rect x="16" y="8" width="1.5" height="1.5" class="v21"/><rect x="17" y="8" width="1.5" height="1.5" class="v20"/><rect x="18" y="8" width="2.5" height="1.5" class="v21"/><rect x="20" y="8" width="1.5" height="1.5" class="v17"/><rect x="21" y="8" width="2.5" height="1.5" class="v16"/><rect x="23" y="8" width="1" height="1.5" class="v12"/><rect x="0" y="9" width="1.5" height="1.5" class="v21"/><rect x="1" y="9" width="1.5" height="1.5" class="v20"/><rect x="2" y="9" width="1.5" height="1.5" class="v22"/><rect x="3" y="9" width="1.5" height="1.5" class="v25"/><rect x="4" y="9" width="2.5" height="1.5" class="v24"/><rect x="6" y="9" width="3.5" height="1.5" class="v26"/><rect x="9" y="9" width="1.5" height="1.5" class="v22"/><rect x="10" y="9" width="1.5" height="1.5" class="v23"/><rect x="11" y="9" width="1.5" height="1.5" class="v26"/><rect x="12" y="9" width="1.5" height="1.5" class="v24"/><rect x="13" y="9" width="3.5" height="1.5" class="v21"/><rect x="16" y="9" width="1.5" height="1.5" class="v20"/><rect x="17" y="9" width="1.5" height="1.5" class="v21"/><rect x="18" y="9" width="1.5" height="1.5" class="v20"/><rect x="19" y="9" width="1.5" height="1.5" class="v22"/><rect x="20" y="9" width="1.5" height="1.5" class="v21"/><rect x="21" y="9" width="3" height="1.5" class="v18"/><rect x="0" y="10" width="1.5" height="1.5" class="v18"/><rect x="1" y="10" width="1.5" height="1.5" class="v15"/><rect x="2" y="10" width="1.5" height="1.5" class="v14"/><rect x="3" y="10" width="1.5" height="1.5" class="v20"/><rect x="4" y="10" width="1.5" height="1.5" class="v24"/><rect x="5" y="10" width="1.5" height="1.5" class="v23"/><rect x="6" y="10" width="1.5" height="1.5" class="v24"/><rect x="7" y="10" width="1.5" height="1.5" class="v25"/><rect x="8" y="10" width="1.5" height="1.5" class="v26"/><rect x="9" y="10" width="1.5" height="1.5" class="v24"/><rect x="10" y="10" width="1.5" height="1.5" class="v22"/><rect x="11" y="10" width="1.5" height="1.5" class="v21"/><rect x="12" y="10" width="2.5" height="1.5" class="v24"/><rect x="14" y="10" width="1.5" height="1.5" class="v19"/><rect x="15" y="10" width="2.5" height="1.5" class="v20"/><rect x="17" y="10" width="1.5" height="1.5" class="v18"/><rect x="18" y="10" width="2.5" height="1.5" class="v21"/><rect x="20" y="10" width="1.5" height="1.5" class="v22"/><rect x="21" y="10" width="1.5" height="1.5" class="v23"/><rect x="22" y="10" width="1.5" height="1.5" class="v20"/><rect x="23" y="10" width="1" height="1.5" class="v19"/><rect x="0" y="11" width="1.5" height="1" class="v23"/><rect x="1" y="11" width="1.5" height="1" class="v26"/><rect x="2" y="11" width="1.5" height="1" class="v20"/><rect x="3" y="11" width="1.5" height="1" class="v12"/><rect x="4" y="11" width="1.5" height="1" class="v18"/><rect x="5" y="11" width="1.5" height="1" class="v22"/><rect x="6" y="11" width="1.5" height="1" class="v20"/><rect x="7" y="11" width="1.5" height="1" class="v21"/><rect x="8" y="11" width="1.5" height="1" class="v24"/><rect x="9" y="11" width="2.5" height="1" class="v25"/><rect x="11" y="11" width="2.5" height="1" class="v16"/><rect x="13" y="11" width="1.5" height="1" class="v18"/><rect x="14" y="11" width="1.5" height="1" class="v16"/><rect x="15" y="11" width="2.5" height="1" class="v12"/><rect x="17" y="11" width="1.5" height="1" class="v9"/><rect x="18" y="11" width="2.5" height="1" class="v10"/><rect x="20" y="11" width="1.5" height="1" class="v14"/><rect x="21" y="11" width="1.5" height="1" class="v11"/><rect x="22" y="11" width="1.5" height="1" class="v14"/><rect x="23" y="11" width="1" height="1" class="v16"/><ellipse cx="2.500" cy="0.500" rx="0.110" ry="0.172" fill="#000" shape-rendering="auto"/><ellipse cx="3.500" cy="1.500" rx="0.110" ry="0.172" fill="#000" shape-rendering="auto"/><ellipse cx="4.500" cy="2.500" rx="0.110" ry="0.172" fill="#000" shape-rendering="auto"/><ellipse cx="0.500" cy="3.500" rx="0.110" ry="0.172" fill="#000" shape-rendering="auto"/><ellipse cx="2.500" cy="4.500" rx="0.110" ry="0.172" fill="#000" shape-rendering="auto"/><ellipse cx="2.500" cy="5.500" rx="0.110" ry="0.172" fill="#000" shape-rendering="auto"/><ellipse cx="3.500" cy="6.500" rx="0.110" ry="0.172" fill="#000" shape-rendering="auto"/><ellipse cx="1.500" cy="7.500" rx="0.110" ry="0.172" fill="#000" shape-rendering="auto"/><ellipse cx="2.500" cy="8.500" rx="0.110" ry="0.172" fill="#000" shape-rendering="auto"/><ellipse cx="8.500" cy="9.500" rx="0.110" ry="0.172" fill="#000" shape-rendering="auto"/><ellipse cx="8.500" cy="10.500" rx="0.110" ry="0.172" fill="#000" shape-rendering="auto"/><ellipse cx="1.500" cy="11.500" rx="0.110" ry="0.172" fill="#000" shape-rendering="auto"/></svg>
<div class="t mb" style="right:640.20px;top:1616.34px">Jan</div>
<div class="t mb" style="right:640.20px;top:1643.69px">Mar</div>
<div class="t mb" style="right:640.20px;top:1671.04px">May</div>
<div class="t mb" style="right:640.20px;top:1698.39px">Jul</div>
<div class="t mb" style="right:640.20px;top:1725.74px">Sep</div>
<div class="t mb" style="right:640.20px;top:1753.09px">Nov</div>
<div class="t pl" style="left:678.70px;top:1689.70px">(D)</div>
<div class="t tk" style="left:767.72px;top:1782.57px;width:40px;margin-left:-20px;text-align:center">&#160;1</div>
<div class="t tk" style="left:810.60px;top:1782.57px;width:40px;margin-left:-20px;text-align:center">&#160;3</div>
<div class="t tk" style="left:853.49px;top:1782.57px;width:40px;margin-left:-20px;text-align:center">&#160;5</div>
<div class="t tk" style="left:896.37px;top:1782.57px;width:40px;margin-left:-20px;text-align:center">&#160;7</div>
<div class="t tk" style="left:939.25px;top:1782.57px;width:40px;margin-left:-20px;text-align:center">&#160;9</div>
<div class="t tk" style="left:982.14px;top:1782.57px;width:40px;margin-left:-20px;text-align:center">11</div>
<div class="t tk" style="left:1025.02px;top:1782.57px;width:40px;margin-left:-20px;text-align:center">13</div>
<div class="t tk" style="left:1067.90px;top:1782.57px;width:40px;margin-left:-20px;text-align:center">15</div>
<div class="t tk" style="left:1110.79px;top:1782.57px;width:40px;margin-left:-20px;text-align:center">17</div>
<div class="t tk" style="left:1153.67px;top:1782.57px;width:40px;margin-left:-20px;text-align:center">19</div>
<div class="t tk" style="left:1196.55px;top:1782.57px;width:40px;margin-left:-20px;text-align:center">21</div>
<div class="t tk" style="left:1239.44px;top:1782.57px;width:40px;margin-left:-20px;text-align:center">23</div>
<svg class="hm" style="left:757.00px;top:1861.30px;width:514.60px;height:163.90px" viewBox="0 0 24 12" preserveAspectRatio="none"><rect x="0" y="0" width="1.5" height="1.5" class="v31"/><rect x="1" y="0" width="1.5" height="1.5" class="v29"/><rect x="2" y="0" width="1.5" height="1.5" class="v32"/><rect x="3" y="0" width="1.5" height="1.5" class="v35"/><rect x="4" y="0" width="3.5" height="1.5" class="v32"/><rect x="7" y="0" width="1.5" height="1.5" class="v34"/><rect x="8" y="0" width="1.5" height="1.5" class="v33"/><rect x="9" y="0" width="3.5" height="1.5" class="v30"/><rect x="12" y="0" width="3.5" height="1.5" class="v29"/><rect x="15" y="0" width="1.5" height="1.5" class="v27"/><rect x="16" y="0" width="2.5" height="1.5" class="v23"/><rect x="18" y="0" width="1.5" height="1.5" class="v24"/><rect x="19" y="0" width="1.5" height="1.5" class="v22"/><rect x="20" y="0" width="1.5" height="1.5" class="v23"/><rect x="21" y="0" width="3" height="1.5" class="v22"/><rect x="0" y="1" width="1.5" height="1.5" class="v24"/><rect x="1" y="1" width="1.5" height="1.5" class="v36"/><rect x="2" y="1" width="2.5" height="1.5" class="v27"/><rect x="4" y="1" width="1.5" height="1.5" class="v33"/><rect x="5" y="1" width="1.5" height="1.5" class="v35"/><rect x="6" y="1" width="3.5" height="1.5" class="v34"/><rect x="9" y="1" width="1.5" height="1.5" class="v33"/><rect x="10" y="1" width="1.5" height="1.5" class="v34"/><rect x="11" y="1" width="1.5" height="1.5" class="v33"/><rect x="12" y="1" width="2.5" height="1.5" class="v34"/><rect x="14" y="1" width="1.5" height="1.5" class="v35"/><rect x="15" y="1" width="1.5" height="1.5" class="v34"/><rect x="16" y="1" width="1.5" height="1.5" class="v33"/><rect x="17" y="1" width="1.5" height="1.5" class="v27"/><rect x="18" y="1" width="4.5" height="1.5" class="v24"/><rect x="22" y="1" width="2" height="1.5" class="v23"/><rect x="0" y="2" width="1.5" height="1.5" class="v18"/><rect x="1" y="2" width="1.5" height="1.5" class="v17"/><rect x="2" y="2" width="1.5" height="1.5" class="v37"/><rect x="3" y="2" width="2.5" height="1.5" class="v30"/><rect x="5" y="2" width="1.5" height="1.5" class="v36"/><rect x="6" y="2" width="1.5" height="1.5" class="v35"/><rect x="7" y="2" width="1.5" height="1.5" class="v31"/><rect x="8" y="2" width="2.5" height="1.5" class="v32"/><rect x="10" y="2" width="3.5" height="1.5" class="v31"/><rect x="13" y="2" width="1.5" height="1.5" class="v29"/><rect x="14" y="2" width="3.5" height="1.5" class="v31"/><rect x="17" y="2" width="1.5" height="1.5" class="v25"/><rect x="18" y="2" width="1.5" height="1.5" class="v19"/><rect x="19" y="2" width="2.5" height="1.5" class="v18"/><rect x="21" y="2" width="1.5" height="1.5" class="v17"/><rect x="22" y="2" width="1.5" height="1.5" class="v18"/><rect x="23" y="2" width="1" height="1.5" class="v17"/><rect x="0" y="3" width="1.5" height="1.5" class="v23"/><rect x="1" y="3" width="2.5" height="1.5" class="v20"/><rect x="3" y="3" width="1.5" height="1.5" class="v32"/><rect x="4" y="3" width="2.5" height="1.5" class="v29"/><rect x="6" y="3" width="1.5" height="1.5" class="v34"/><rect x="7" y="3" width="5.5" height="1.5" class="v35"/><rect x="12" y="3" width="2.5" height="1.5" class="v34"/><rect x="14" y="3" width="3.5" height="1.5" class="v33"/><rect x="17" y="3" width="1.5" height="1.5" class="v34"/><rect x="18" y="3" width="1.5" height="1.5" class="v29"/><rect x="19" y="3" width="1.5" height="1.5" class="v24"/><rect x="20" y="3" width="4" height="1.5" class="v22"/><rect x="0" y="4" width="2.5" height="1.5" class="v21"/><rect x="2" y="4" width="2.5" height="1.5" class="v18"/><rect x="4" y="4" width="1.5" height="1.5" class="v29"/><rect x="5" y="4" width="1.5" height="1.5" class="v25"/><rect x="6" y="4" width="1.5" height="1.5" class="v29"/><rect x="7" y="4" width="1.5" height="1.5" class="v33"/><rect x="8" y="4" width="1.5" height="1.5" class="v37"/><rect x="9" y="4" width="4.5" height="1.5" class="v36"/><rect x="13" y="4" width="2.5" height="1.5" class="v35"/><rect x="15" y="4" width="2.5" height="1.5" class="v34"/><rect x="17" y="4" width="2.5" height="1.5" class="v35"/><rect x="19" y="4" width="1.5" height="1.5" class="v33"/><rect x="20" y="4" width="4" height="1.5" class="v28"/><rect x="0" y="5" width="1.5" height="1.5" class="v26"/><rect x="1" y="5" width="1.5" height="1.5" class="v20"/><rect x="2" y="5" width="1.5" height="1.5" class="v24"/><rect x="3" y="5" width="1.5" height="1.5" class="v20"/><rect x="4" y="5" width="1.5" height="1.5" class="v22"/><rect x="5" y="5" width="1.5" height="1.5" class="v30"/><rect x="6" y="5" width="1.5" height="1.5" class="v24"/><rect x="7" y="5" width="1.5" height="1.5" class="v26"/><rect x="8" y="5" width="1.5" height="1.5" class="v30"/><rect x="9" y="5" width="1.5" height="1.5" class="v35"/><rect x="10" y="5" width="1.5" height="1.5" class="v34"/><rect x="11" y="5" width="1.5" height="1.5" class="v33"/><rect x="12" y="5" width="1.5" height="1.5" class="v34"/><rect x="13" y="5" width="2.5" height="1.5" class="v33"/><rect x="15" y="5" width="1.5" height="1.5" class="v34"/><rect x="16" y="5" width="2.5" height="1.5" class="v33"/><rect x="18" y="5" width="2.5" height="1.5" class="v35"/><rect x="20" y="5" width="1.5" height="1.5" class="v32"/><rect x="21" y="5" width="1.5" height="1.5" class="v28"/><rect x="22" y="5" width="1.5" height="1.5" class="v27"/><rect x="23" y="5" width="1" height="1.5" class="v28"/><rect x="0" y="6" width="1.5" height="1.5" class="v23"/><rect x="1" y="6" width="1.5" height="1.5" class="v33"/><rect x="2" y="6" width="2.5" height="1.5" class="v28"/><rect x="4" y="6" width="1.5" height="1.5" class="v29"/><rect x="5" y="6" width="1.5" height="1.5" class="v31"/><rect x="6" y="6" width="1.5" height="1.5" class="v29"/><rect x="7" y="6" width="1.5" height="1.5" class="v26"/><rect x="8" y="6" width="2.5" height="1.5" class="v29"/><rect x="10" y="6" width="1.5" height="1.5" class="v33"/><rect x="11" y="6" width="3.5" height="1.5" class="v31"/><rect x="14" y="6" width="1.5" height="1.5" class="v32"/><rect x="15" y="6" width="5.5" height="1.5" class="v33"/><rect x="20" y="6" width="1.5" height="1.5" class="v32"/><rect x="21" y="6" width="1.5" height="1.5" class="v28"/><rect x="22" y="6" width="1.5" height="1.5" class="v27"/><rect x="23" y="6" width="1" height="1.5" class="v25"/><rect x="0" y="7" width="2.5" height="1.5" class="v21"/><rect x="2" y="7" width="2.5" height="1.5" class="v23"/><rect x="4" y="7" width="1.5" height="1.5" class="v25"/><rect x="5" y="7" width="1.5" height="1.5" class="v29"/><rect x="6" y="7" width="1.5" height="1.5" class="v28"/><rect x="7" y="7" width="1.5" height="1.5" class="v26"/><rect x="8" y="7" width="1.5" height="1.5" class="v25"/><rect x="9" y="7" width="1.5" height="1.5" class="v28"/><rect x="10" y="7" width="2.5" height="1.5" class="v25"/><rect x="12" y="7" width="1.5" height="1.5" class="v23"/><rect x="13" y="7" width="1.5" height="1.5" class="v24"/><rect x="14" y="7" width="1.5" height="1.5" class="v21"/><rect x="15" y="7" width="1.5" height="1.5" class="v24"/><rect x="16" y="7" width="1.5" height="1.5" class="v28"/><rect x="17" y="7" width="2.5" height="1.5" class="v27"/><rect x="19" y="7" width="1.5" height="1.5" class="v25"/><rect x="20" y="7" width="1.5" height="1.5" class="v24"/><rect x="21" y="7" width="1.5" height="1.5" class="v22"/><rect x="22" y="7" width="2" height="1.5" class="v21"/><rect x="0" y="8" width="1.5" height="1.5" class="v27"/><rect x="1" y="8" width="3.5" height="1.5" class="v29"/><rect x="4" y="8" width="1.5" height="1.5" class="v30"/><rect x="5" y="8" width="1.5" height="1.5" class="v31"/><rect x="6" y="8" width="1.5" height="1.5" class="v34"/><rect x="7" y="8" width="1.5" height="1.5" class="v33"/><rect x="8" y="8" width="2.5" height="1.5" class="v29"/><rect x="10" y="8" width="1.5" height="1.5" class="v33"/><rect x="11" y="8" width="2.5" height="1.5" class="v29"/><rect x="13" y="8" width="1.5" height="1.5" class="v28"/><rect x="14" y="8" width="2.5" height="1.5" class="v27"/><rect x="16" y="8" width="1.5" height="1.5" class="v28"/><rect x="17" y="8" width="1.5" height="1.5" class="v29"/><rect x="18" y="8" width="2.5" height="1.5" class="v28"/><rect x="20" y="8" width="2.5" height="1.5" class="v27"/><rect x="22" y="8" width="2" height="1.5" class="v25"/><rect x="0" y="9" width="1.5" height="1.5" class="v34"/><rect x="1" y="9" width="3.5" height="1.5" class="v35"/><rect x="4" y="9" width="3.5" height="1.5" class="v36"/><rect x="7" y="9" width="1.5" height="1.5" class="v37"/><rect x="8" y="9" width="1.5" height="1.5" class="v36"/><rect x="9" y="9" width="1.5" height="1.5" class="v35"/><rect x="10" y="9" width="2.5" height="1.5" class="v36"/><rect x="12" y="9" width="1.5" height="1.5" class="v34"/><rect x="13" y="9" width="1.5" height="1.5" class="v29"/><rect x="14" y="9" width="3.5" height="1.5" class="v27"/><rect x="17" y="9" width="1.5" height="1.5" class="v29"/><rect x="18" y="9" width="4.5" height="1.5" class="v28"/><rect x="22" y="9" width="1.5" height="1.5" class="v27"/><rect x="23" y="9" width="1" height="1.5" class="v28"/><rect x="0" y="10" width="1.5" height="1.5" class="v31"/><rect x="1" y="10" width="1.5" height="1.5" class="v35"/><rect x="2" y="10" width="1.5" height="1.5" class="v37"/><rect x="3" y="10" width="4.5" height="1.5" class="v38"/><rect x="7" y="10" width="1.5" height="1.5" class="v37"/><rect x="8" y="10" width="4.5" height="1.5" class="v38"/><rect x="12" y="10" width="1.5" height="1.5" class="v37"/><rect x="13" y="10" width="1.5" height="1.5" class="v35"/><rect x="14" y="10" width="2.5" height="1.5" class="v28"/><rect x="16" y="10" width="1.5" height="1.5" class="v27"/><rect x="17" y="10" width="1.5" height="1.5" class="v28"/><rect x="18" y="10" width="1.5" height="1.5" class="v29"/><rect x="19" y="10" width="4.5" height="1.5" class="v27"/><rect x="23" y="10" width="1" height="1.5" class="v28"/><rect x="0" y="11" width="1.5" height="1" class="v23"/><rect x="1" y="11" width="1.5" height="1" class="v25"/><rect x="2" y="11" width="1.5" height="1" class="v34"/><rect x="3" y="11" width="1.5" height="1" class="v31"/><rect x="4" y="11" width="1.5" height="1" class="v29"/><rect x="5" y="11" width="2.5" height="1" class="v31"/><rect x="7" y="11" width="1.5" height="1" class="v33"/><rect x="8" y="11" width="1.5" height="1" class="v29"/><rect x="9" y="11" width="1.5" height="1" class="v30"/><rect x="10" y="11" width="1.5" height="1" class="v31"/><rect x="11" y="11" width="1.5" height="1" class="v26"/><rect x="12" y="11" width="2.5" height="1" class="v28"/><rect x="14" y="11" width="1.5" height="1" class="v24"/><rect x="15" y="11" width="2.5" height="1" class="v21"/><rect x="17" y="11" width="6.5" height="1" class="v20"/><rect x="23" y="11" width="1" height="1" class="v21"/><ellipse cx="3.500" cy="0.500" rx="0.110" ry="0.172" fill="#000" shape-rendering="auto"/><ellipse cx="14.500" cy="1.500" rx="0.110" ry="0.172" fill="#000" shape-rendering="auto"/><ellipse cx="2.500" cy="2.500" rx="0.110" ry="0.172" fill="#000" shape-rendering="auto"/><ellipse cx="8.500" cy="3.500" rx="0.110" ry="0.172" fill="#000" shape-rendering="auto"/><ellipse cx="8.500" cy="4.500" rx="0.110" ry="0.172" fill="#000" shape-rendering="auto"/><ellipse cx="18.500" cy="5.500" rx="0.110" ry="0.172" fill="#000" shape-rendering="auto"/><ellipse cx="10.500" cy="6.500" rx="0.110" ry="0.172" fill="#000" shape-rendering="auto"/><ellipse cx="5.500" cy="7.500" rx="0.110" ry="0.172" fill="#000" shape-rendering="auto"/><ellipse cx="6.500" cy="8.500" rx="0.110" ry="0.172" fill="#000" shape-rendering="auto"/><ellipse cx="7.500" cy="9.500" rx="0.110" ry="0.172" fill="#000" shape-rendering="auto"/><ellipse cx="9.500" cy="10.500" rx="0.110" ry="0.172" fill="#000" shape-rendering="auto"/><ellipse cx="2.500" cy="11.500" rx="0.110" ry="0.172" fill="#000" shape-rendering="auto"/></svg>
<div class="t mb" style="right:640.20px;top:1860.73px">Jan</div>
<div class="t mb" style="right:640.20px;top:1888.05px">Mar</div>
<div class="t mb" style="right:640.20px;top:1915.36px">May</div>
<div class="t mb" style="right:640.20px;top:1942.68px">Jul</div>
<div class="t mb" style="right:640.20px;top:1970.00px">Sep</div>
<div class="t mb" style="right:640.20px;top:1997.31px">Nov</div>
<div class="t pl" style="left:679.70px;top:1934.30px">(E)</div>
<div class="t tk" style="left:767.72px;top:2026.77px;width:40px;margin-left:-20px;text-align:center">&#160;1</div>
<div class="t tk" style="left:810.60px;top:2026.77px;width:40px;margin-left:-20px;text-align:center">&#160;3</div>
<div class="t tk" style="left:853.49px;top:2026.77px;width:40px;margin-left:-20px;text-align:center">&#160;5</div>
<div class="t tk" style="left:896.37px;top:2026.77px;width:40px;margin-left:-20px;text-align:center">&#160;7</div>
<div class="t tk" style="left:939.25px;top:2026.77px;width:40px;margin-left:-20px;text-align:center">&#160;9</div>
<div class="t tk" style="left:982.14px;top:2026.77px;width:40px;margin-left:-20px;text-align:center">11</div>
<div class="t tk" style="left:1025.02px;top:2026.77px;width:40px;margin-left:-20px;text-align:center">13</div>
<div class="t tk" style="left:1067.90px;top:2026.77px;width:40px;margin-left:-20px;text-align:center">15</div>
<div class="t tk" style="left:1110.79px;top:2026.77px;width:40px;margin-left:-20px;text-align:center">17</div>
<div class="t tk" style="left:1153.67px;top:2026.77px;width:40px;margin-left:-20px;text-align:center">19</div>
<div class="t tk" style="left:1196.55px;top:2026.77px;width:40px;margin-left:-20px;text-align:center">21</div>
<div class="t tk" style="left:1239.44px;top:2026.77px;width:40px;margin-left:-20px;text-align:center">23</div>
<svg class="hm" style="left:757.00px;top:2104.80px;width:514.60px;height:164.40px" viewBox="0 0 24 12" preserveAspectRatio="none"><rect x="0" y="0" width="1.5" height="1.5" class="v34"/><rect x="1" y="0" width="1.5" height="1.5" class="v35"/><rect x="2" y="0" width="1.5" height="1.5" class="v34"/><rect x="3" y="0" width="1.5" height="1.5" class="v33"/><rect x="4" y="0" width="1.5" height="1.5" class="v35"/><rect x="5" y="0" width="1.5" height="1.5" class="v32"/><rect x="6" y="0" width="2.5" height="1.5" class="v33"/><rect x="8" y="0" width="1.5" height="1.5" class="v31"/><rect x="9" y="0" width="3.5" height="1.5" class="v29"/><rect x="12" y="0" width="1.5" height="1.5" class="v32"/><rect x="13" y="0" width="1.5" height="1.5" class="v31"/><rect x="14" y="0" width="1.5" height="1.5" class="v32"/><rect x="15" y="0" width="1.5" height="1.5" class="v33"/><rect x="16" y="0" width="2.5" height="1.5" class="v30"/><rect x="18" y="0" width="3.5" height="1.5" class="v31"/><rect x="21" y="0" width="1.5" height="1.5" class="v32"/><rect x="22" y="0" width="2" height="1.5" class="v30"/><rect x="0" y="1" width="1.5" height="1.5" class="v38"/><rect x="1" y="1" width="1.5" height="1.5" class="v28"/><rect x="2" y="1" width="1.5" height="1.5" class="v22"/><rect x="3" y="1" width="2.5" height="1.5" class="v28"/><rect x="5" y="1" width="1.5" height="1.5" class="v35"/><rect x="6" y="1" width="2.5" height="1.5" class="v37"/><rect x="8" y="1" width="1.5" height="1.5" class="v36"/><rect x="9" y="1" width="4.5" height="1.5" class="v37"/><rect x="13" y="1" width="1.5" height="1.5" class="v32"/><rect x="14" y="1" width="1.5" height="1.5" class="v34"/><rect x="15" y="1" width="1.5" height="1.5" class="v33"/><rect x="16" y="1" width="1.5" height="1.5" class="v30"/><rect x="17" y="1" width="1.5" height="1.5" class="v32"/><rect x="18" y="1" width="5.5" height="1.5" class="v29"/><rect x="23" y="1" width="1" height="1.5" class="v30"/><rect x="0" y="2" width="1.5" height="1.5" class="v29"/><rect x="1" y="2" width="1.5" height="1.5" class="v30"/><rect x="2" y="2" width="1.5" height="1.5" class="v20"/><rect x="3" y="2" width="1.5" height="1.5" class="v15"/><rect x="4" y="2" width="1.5" height="1.5" class="v22"/><rect x="5" y="2" width="1.5" height="1.5" class="v15"/><rect x="6" y="2" width="1.5" height="1.5" class="v18"/><rect x="7" y="2" width="2.5" height="1.5" class="v20"/><rect x="9" y="2" width="1.5" height="1.5" class="v19"/><rect x="10" y="2" width="2.5" height="1.5" class="v20"/><rect x="12" y="2" width="4.5" height="1.5" class="v18"/><rect x="16" y="2" width="1.5" height="1.5" class="v16"/><rect x="17" y="2" width="1.5" height="1.5" class="v19"/><rect x="18" y="2" width="1.5" height="1.5" class="v29"/><rect x="19" y="2" width="1.5" height="1.5" class="v31"/><rect x="20" y="2" width="3.5" height="1.5" class="v30"/><rect x="23" y="2" width="1" height="1.5" class="v29"/><rect x="0" y="3" width="1.5" height="1.5" class="v21"/><rect x="1" y="3" width="1.5" height="1.5" class="v17"/><rect x="2" y="3" width="1.5" height="1.5" class="v21"/><rect x="3" y="3" width="2.5" height="1.5" class="v17"/><rect x="5" y="3" width="1.5" height="1.5" class="v19"/><rect x="6" y="3" width="1.5" height="1.5" class="v21"/><rect x="7" y="3" width="1.5" height="1.5" class="v30"/><rect x="8" y="3" width="4.5" height="1.5" class="v33"/><rect x="12" y="3" width="3.5" height="1.5" class="v32"/><rect x="15" y="3" width="1.5" height="1.5" class="v31"/><rect x="16" y="3" width="1.5" height="1.5" class="v32"/><rect x="17" y="3" width="2.5" height="1.5" class="v34"/><rect x="19" y="3" width="1.5" height="1.5" class="v31"/><rect x="20" y="3" width="1.5" height="1.5" class="v33"/><rect x="21" y="3" width="2.5" height="1.5" class="v31"/><rect x="23" y="3" width="1" height="1.5" class="v33"/><rect x="0" y="4" width="1.5" height="1.5" class="v32"/><rect x="1" y="4" width="1.5" height="1.5" class="v22"/><rect x="2" y="4" width="1.5" height="1.5" class="v18"/><rect x="3" y="4" width="1.5" height="1.5" class="v20"/><rect x="4" y="4" width="2.5" height="1.5" class="v10"/><rect x="6" y="4" width="1.5" height="1.5" class="v12"/><rect x="7" y="4" width="1.5" height="1.5" class="v18"/><rect x="8" y="4" width="1.5" height="1.5" class="v29"/><rect x="9" y="4" width="1.5" height="1.5" class="v31"/><rect x="10" y="4" width="2.5" height="1.5" class="v33"/><rect x="12" y="4" width="4.5" height="1.5" class="v32"/><rect x="16" y="4" width="1.5" height="1.5" class="v34"/><rect x="17" y="4" width="1.5" height="1.5" class="v32"/><rect x="18" y="4" width="1.5" height="1.5" class="v34"/><rect x="19" y="4" width="2.5" height="1.5" class="v36"/><rect x="21" y="4" width="3" height="1.5" class="v37"/><rect x="0" y="5" width="1.5" height="1.5" class="v36"/><rect x="1" y="5" width="1.5" height="1.5" class="v25"/><rect x="2" y="5" width="2.5" height="1.5" class="v11"/><rect x="4" y="5" width="1.5" height="1.5" class="v12"/><rect x="5" y="5" width="1.5" height="1.5" class="v18"/><rect x="6" y="5" width="1.5" height="1.5" class="v17"/><rect x="7" y="5" width="1.5" height="1.5" class="v20"/><rect x="8" y="5" width="1.5" height="1.5" class="v26"/><rect x="9" y="5" width="1.5" height="1.5" class="v33"/><rect x="10" y="5" width="1.5" height="1.5" class="v36"/><rect x="11" y="5" width="2.5" height="1.5" class="v37"/><rect x="13" y="5" width="1.5" height="1.5" class="v36"/><rect x="14" y="5" width="2.5" height="1.5" class="v35"/><rect x="16" y="5" width="2.5" height="1.5" class="v36"/><rect x="18" y="5" width="1.5" height="1.5" class="v35"/><rect x="19" y="5" width="1.5" height="1.5" class="v36"/><rect x="20" y="5" width="1.5" height="1.5" class="v37"/><rect x="21" y="5" width="1.5" height="1.5" class="v39"/><rect x="22" y="5" width="2" height="1.5" class="v38"/><rect x="0" y="6" width="1.5" height="1.5" class="v33"/><rect x="1" y="6" width="1.5" height="1.5" class="v35"/><rect x="2" y="6" width="1.5" height="1.5" class="v34"/><rect x="3" y="6" width="1.5" height="1.5" class="v21"/><rect x="4" y="6" width="1.5" height="1.5" class="v20"/><rect x="5" y="6" width="1.5" height="1.5" class="v22"/><rect x="6" y="6" width="1.5" height="1.5" class="v24"/><rect x="7" y="6" width="1.5" height="1.5" class="v21"/><rect x="8" y="6" width="1.5" height="1.5" class="v25"/><rect x="9" y="6" width="1.5" height="1.5" class="v29"/><rect x="10" y="6" width="1.5" height="1.5" class="v35"/><rect x="11" y="6" width="2.5" height="1.5" class="v37"/><rect x="13" y="6" width="1.5" height="1.5" class="v38"/><rect x="14" y="6" width="6.5" height="1.5" class="v37"/><rect x="20" y="6" width="2.5" height="1.5" class="v38"/><rect x="22" y="6" width="1.5" height="1.5" class="v39"/><rect x="23" y="6" width="1" height="1.5" class="v37"/><rect x="0" y="7" width="1.5" height="1.5" class="v33"/><rect x="1" y="7" width="2.5" height="1.5" class="v34"/><rect x="3" y="7" width="1.5" height="1.5" class="v33"/><rect x="4" y="7" width="2.5" height="1.5" class="v29"/><rect x="6" y="7" width="1.5" height="1.5" class="v31"/><rect x="7" y="7" width="1.5" height="1.5" class="v29"/><rect x="8" y="7" width="1.5" height="1.5" class="v28"/><rect x="9" y="7" width="1.5" height="1.5" class="v29"/><rect x="10" y="7" width="1.5" height="1.5" class="v34"/><rect x="11" y="7" width="1.5" height="1.5" class="v35"/><rect x="12" y="7" width="7.5" height="1.5" class="v37"/><rect x="19" y="7" width="3.5" height="1.5" class="v38"/><rect x="22" y="7" width="2" height="1.5" class="v37"/><rect x="0" y="8" width="1.5" height="1.5" class="v37"/><rect x="1" y="8" width="3.5" height="1.5" class="v39"/><rect x="4" y="8" width="1.5" height="1.5" class="v38"/><rect x="5" y="8" width="3.5" height="1.5" class="v37"/><rect x="8" y="8" width="2.5" height="1.5" class="v38"/><rect x="10" y="8" width="1.5" height="1.5" class="v39"/><rect x="11" y="8" width="1.5" height="1.5" class="v38"/><rect x="12" y="8" width="1.5" height="1.5" class="v37"/><rect x="13" y="8" width="6.5" height="1.5" class="v35"/><rect x="19" y="8" width="4.5" height="1.5" class="v36"/><rect x="23" y="8" width="1" height="1.5" class="v35"/><rect x="0" y="9" width="1.5" height="1.5" class="v37"/><rect x="1" y="9" width="1.5" height="1.5" class="v35"/><rect x="2" y="9" width="5.5" height="1.5" class="v34"/><rect x="7" y="9" width="1.5" height="1.5" class="v33"/><rect x="8" y="9" width="2.5" height="1.5" class="v35"/><rect x="10" y="9" width="1.5" height="1.5" class="v36"/><rect x="11" y="9" width="1.5" height="1.5" class="v37"/><rect x="12" y="9" width="1.5" height="1.5" class="v35"/><rect x="13" y="9" width="1.5" height="1.5" class="v32"/><rect x="14" y="9" width="8.5" height="1.5" class="v29"/><rect x="22" y="9" width="1.5" height="1.5" class="v30"/><rect x="23" y="9" width="1" height="1.5" class="v29"/><rect x="0" y="10" width="1.5" height="1.5" class="v39"/><rect x="1" y="10" width="1.5" height="1.5" class="v37"/><rect x="2" y="10" width="1.5" height="1.5" class="v32"/><rect x="3" y="10" width="1.5" height="1.5" class="v31"/><rect x="4" y="10" width="4.5" height="1.5" class="v32"/><rect x="8" y="10" width="1.5" height="1.5" class="v29"/><rect x="9" y="10" width="1.5" height="1.5" class="v31"/><rect x="10" y="10" width="1.5" height="1.5" class="v32"/><rect x="11" y="10" width="1.5" height="1.5" class="v31"/><rect x="12" y="10" width="1.5" height="1.5" class="v33"/><rect x="13" y="10" width="1.5" height="1.5" class="v34"/><rect x="14" y="10" width="1.5" height="1.5" class="v37"/><rect x="15" y="10" width="2.5" height="1.5" class="v35"/><rect x="17" y="10" width="1.5" height="1.5" class="v36"/><rect x="18" y="10" width="1.5" height="1.5" class="v35"/><rect x="19" y="10" width="2.5" height="1.5" class="v36"/><rect x="21" y="10" width="2.5" height="1.5" class="v35"/><rect x="23" y="10" width="1" height="1.5" class="v36"/><rect x="0" y="11" width="1.5" height="1" class="v31"/><rect x="1" y="11" width="1.5" height="1" class="v33"/><rect x="2" y="11" width="1.5" height="1" class="v34"/><rect x="3" y="11" width="1.5" height="1" class="v29"/><rect x="4" y="11" width="4.5" height="1" class="v27"/><rect x="8" y="11" width="1.5" height="1" class="v24"/><rect x="9" y="11" width="2.5" height="1" class="v25"/><rect x="11" y="11" width="1.5" height="1" class="v26"/><rect x="12" y="11" width="1.5" height="1" class="v25"/><rect x="13" y="11" width="2.5" height="1" class="v27"/><rect x="15" y="11" width="1.5" height="1" class="v29"/><rect x="16" y="11" width="2.5" height="1" class="v25"/><rect x="18" y="11" width="1.5" height="1" class="v26"/><rect x="19" y="11" width="1.5" height="1" class="v25"/><rect x="20" y="11" width="1.5" height="1" class="v26"/><rect x="21" y="11" width="1.5" height="1" class="v24"/><rect x="22" y="11" width="2" height="1" class="v26"/><ellipse cx="4.500" cy="0.500" rx="0.110" ry="0.172" fill="#000" shape-rendering="auto"/><ellipse cx="0.500" cy="1.500" rx="0.110" ry="0.172" fill="#000" shape-rendering="auto"/><ellipse cx="19.500" cy="2.500" rx="0.110" ry="0.172" fill="#000" shape-rendering="auto"/><ellipse cx="18.500" cy="3.500" rx="0.110" ry="0.172" fill="#000" shape-rendering="auto"/><ellipse cx="20.500" cy="4.500" rx="0.110" ry="0.172" fill="#000" shape-rendering="auto"/><ellipse cx="21.500" cy="5.500" rx="0.110" ry="0.172" fill="#000" shape-rendering="auto"/><ellipse cx="22.500" cy="6.500" rx="0.110" ry="0.172" fill="#000" shape-rendering="auto"/><ellipse cx="19.500" cy="7.500" rx="0.110" ry="0.172" fill="#000" shape-rendering="auto"/><ellipse cx="1.500" cy="8.500" rx="0.110" ry="0.172" fill="#000" shape-rendering="auto"/><ellipse cx="0.500" cy="9.500" rx="0.110" ry="0.172" fill="#000" shape-rendering="auto"/><ellipse cx="0.500" cy="10.500" rx="0.110" ry="0.172" fill="#000" shape-rendering="auto"/><ellipse cx="2.500" cy="11.500" rx="0.110" ry="0.172" fill="#000" shape-rendering="auto"/></svg>
<div class="t mb" style="right:640.20px;top:2104.25px">Jan</div>
<div class="t mb" style="right:640.20px;top:2131.65px">Mar</div>
<div class="t mb" style="right:640.20px;top:2159.05px">May</div>
<div class="t mb" style="right:640.20px;top:2186.45px">Jul</div>
<div class="t mb" style="right:640.20px;top:2213.85px">Sep</div>
<div class="t mb" style="right:640.20px;top:2241.25px">Nov</div>
<div class="t pl" style="left:682.30px;top:2179.10px">(F)</div>
<div class="t tk" style="left:767.72px;top:2270.77px;width:40px;margin-left:-20px;text-align:center">&#160;1</div>
<div class="t tk" style="left:810.60px;top:2270.77px;width:40px;margin-left:-20px;text-align:center">&#160;3</div>
<div class="t tk" style="left:853.49px;top:2270.77px;width:40px;margin-left:-20px;text-align:center">&#160;5</div>
<div class="t tk" style="left:896.37px;top:2270.77px;width:40px;margin-left:-20px;text-align:center">&#160;7</div>
<div class="t tk" style="left:939.25px;top:2270.77px;width:40px;margin-left:-20px;text-align:center">&#160;9</div>
<div class="t tk" style="left:982.14px;top:2270.77px;width:40px;margin-left:-20px;text-align:center">11</div>
<div class="t tk" style="left:1025.02px;top:2270.77px;width:40px;margin-left:-20px;text-align:center">13</div>
<div class="t tk" style="left:1067.90px;top:2270.77px;width:40px;margin-left:-20px;text-align:center">15</div>
<div class="t tk" style="left:1110.79px;top:2270.77px;width:40px;margin-left:-20px;text-align:center">17</div>
<div class="t tk" style="left:1153.67px;top:2270.77px;width:40px;margin-left:-20px;text-align:center">19</div>
<div class="t tk" style="left:1196.55px;top:2270.77px;width:40px;margin-left:-20px;text-align:center">21</div>
<div class="t tk" style="left:1239.44px;top:2270.77px;width:40px;margin-left:-20px;text-align:center">23</div>
<div class="t sc" style="left:1006.30px;top:2295.59px;width:100px;margin-left:-50px;text-align:center">Scales</div>
<svg class="hm" style="left:1300.80px;top:7.60px;width:47.40px;height:646.60px" viewBox="0 0 47.40 646.60" shape-rendering="crispEdges"><rect x="0" y="0.000" width="47.40" height="10.403" fill="#800000"/><rect x="0" y="10.103" width="47.40" height="10.403" fill="#900000"/><rect x="0" y="20.206" width="47.40" height="10.403" fill="#a00000"/><rect x="0" y="30.309" width="47.40" height="10.403" fill="#b00000"/><rect x="0" y="40.413" width="47.40" height="10.403" fill="#c00000"/><rect x="0" y="50.516" width="47.40" height="10.403" fill="#d00000"/><rect x="0" y="60.619" width="47.40" height="10.403" fill="#e10000"/><rect x="0" y="70.722" width="47.40" height="10.403" fill="#f10000"/><rect x="0" y="80.825" width="47.40" height="10.403" fill="#ff0200"/><rect x="0" y="90.928" width="47.40" height="10.403" fill="#ff1200"/><rect x="0" y="101.031" width="47.40" height="10.403" fill="#ff2200"/><rect x="0" y="111.134" width="47.40" height="10.403" fill="#ff3300"/><rect x="0" y="121.238" width="47.40" height="10.403" fill="#ff4300"/><rect x="0" y="131.341" width="47.40" height="10.403" fill="#ff5300"/><rect x="0" y="141.444" width="47.40" height="10.403" fill="#ff6300"/><rect x="0" y="151.547" width="47.40" height="10.403" fill="#ff7300"/><rect x="0" y="161.650" width="47.40" height="10.403" fill="#ff8400"/><rect x="0" y="171.753" width="47.40" height="10.403" fill="#ff9400"/><rect x="0" y="181.856" width="47.40" height="10.403" fill="#ffa400"/><rect x="0" y="191.959" width="47.40" height="10.403" fill="#ffb400"/><rect x="0" y="202.062" width="47.40" height="10.403" fill="#ffc400"/><rect x="0" y="212.166" width="47.40" height="10.403" fill="#ffd500"/><rect x="0" y="222.269" width="47.40" height="10.403" fill="#ffe500"/><rect x="0" y="232.372" width="47.40" height="10.403" fill="#fff500"/><rect x="0" y="242.475" width="47.40" height="10.403" fill="#f9ff06"/><rect x="0" y="252.578" width="47.40" height="10.403" fill="#e9ff16"/><rect x="0" y="262.681" width="47.40" height="10.403" fill="#d9ff26"/><rect x="0" y="272.784" width="47.40" height="10.403" fill="#c8ff37"/><rect x="0" y="282.887" width="47.40" height="10.403" fill="#b8ff47"/><rect x="0" y="292.991" width="47.40" height="10.403" fill="#a8ff57"/><rect x="0" y="303.094" width="47.40" height="10.403" fill="#98ff67"/><rect x="0" y="313.197" width="47.40" height="10.403" fill="#88ff77"/><rect x="0" y="323.300" width="47.40" height="10.403" fill="#77ff88"/><rect x="0" y="333.403" width="47.40" height="10.403" fill="#67ff98"/><rect x="0" y="343.506" width="47.40" height="10.403" fill="#57ffa8"/><rect x="0" y="353.609" width="47.40" height="10.403" fill="#47ffb8"/><rect x="0" y="363.713" width="47.40" height="10.403" fill="#37ffc8"/><rect x="0" y="373.816" width="47.40" height="10.403" fill="#26ffd9"/><rect x="0" y="383.919" width="47.40" height="10.403" fill="#16ffe9"/><rect x="0" y="394.022" width="47.40" height="10.403" fill="#06fff9"/><rect x="0" y="404.125" width="47.40" height="10.403" fill="#00f5ff"/><rect x="0" y="414.228" width="47.40" height="10.403" fill="#00e5ff"/><rect x="0" y="424.331" width="47.40" height="10.403" fill="#00d4ff"/><rect x="0" y="434.434" width="47.40" height="10.403" fill="#00c4ff"/><rect x="0" y="444.538" width="47.40" height="10.403" fill="#00b4ff"/><rect x="0" y="454.641" width="47.40" height="10.403" fill="#00a4ff"/><rect x="0" y="464.744" width="47.40" height="10.403" fill="#0094ff"/><rect x="0" y="474.847" width="47.40" height="10.403" fill="#0084ff"/><rect x="0" y="484.950" width="47.40" height="10.403" fill="#0073ff"/><rect x="0" y="495.053" width="47.40" height="10.403" fill="#0063ff"/><rect x="0" y="505.156" width="47.40" height="10.403" fill="#0053ff"/><rect x="0" y="515.259" width="47.40" height="10.403" fill="#0043ff"/><rect x="0" y="525.363" width="47.40" height="10.403" fill="#0033ff"/><rect x="0" y="535.466" width="47.40" height="10.403" fill="#0022ff"/><rect x="0" y="545.569" width="47.40" height="10.403" fill="#0012ff"/><rect x="0" y="555.672" width="47.40" height="10.403" fill="#0002ff"/><rect x="0" y="565.775" width="47.40" height="10.403" fill="#0000f1"/><rect x="0" y="575.878" width="47.40" height="10.403" fill="#0000e1"/><rect x="0" y="585.981" width="47.40" height="10.403" fill="#0000d0"/><rect x="0" y="596.084" width="47.40" height="10.403" fill="#0000c0"/><rect x="0" y="606.188" width="47.40" height="10.403" fill="#0000b0"/><rect x="0" y="616.291" width="47.40" height="10.403" fill="#0000a0"/><rect x="0" y="626.394" width="47.40" height="10.403" fill="#000090"/><rect x="0" y="636.497" width="47.40" height="10.403" fill="#000080"/><rect x="40.90" y="64.01" width="6" height="1.3" fill="#222"/><rect x="40.90" y="128.67" width="6" height="1.3" fill="#222"/><rect x="40.90" y="193.33" width="6" height="1.3" fill="#222"/><rect x="40.90" y="257.99" width="6" height="1.3" fill="#222"/><rect x="40.90" y="322.65" width="6" height="1.3" fill="#222"/><rect x="40.90" y="387.31" width="6" height="1.3" fill="#222"/><rect x="40.90" y="451.97" width="6" height="1.3" fill="#222"/><rect x="40.90" y="516.63" width="6" height="1.3" fill="#222"/><rect x="40.90" y="581.29" width="6" height="1.3" fill="#222"/><rect x="0.5" y="0.5" width="46.40" height="645.60" fill="none" stroke="#2a2a2a" stroke-width="1"/></svg>
<div class="cb" style="left:1354.20px;top:0.90px">1</div>
<div class="cb" style="left:1354.20px;top:65.56px">0.8</div>
<div class="cb" style="left:1354.20px;top:130.22px">0.6</div>
<div class="cb" style="left:1354.20px;top:194.88px">0.4</div>
<div class="cb" style="left:1354.20px;top:259.54px">0.2</div>
<div class="cb" style="left:1354.20px;top:324.20px">0</div>
<div class="cb" style="left:1354.20px;top:388.86px">-0.2</div>
<div class="cb" style="left:1354.20px;top:453.52px">-0.4</div>
<div class="cb" style="left:1354.20px;top:518.18px">-0.6</div>
<div class="cb" style="left:1354.20px;top:582.84px">-0.8</div>
<div class="cb" style="left:1354.20px;top:647.50px">-1</div>
<svg class="hm" style="left:1292.30px;top:795.60px;width:40.60px;height:633.30px" viewBox="0 0 40.60 633.30" shape-rendering="crispEdges"><rect x="0" y="0.000" width="40.60" height="10.195" fill="#800000"/><rect x="0" y="9.895" width="40.60" height="10.195" fill="#900000"/><rect x="0" y="19.791" width="40.60" height="10.195" fill="#a00000"/><rect x="0" y="29.686" width="40.60" height="10.195" fill="#b00000"/><rect x="0" y="39.581" width="40.60" height="10.195" fill="#c00000"/><rect x="0" y="49.477" width="40.60" height="10.195" fill="#d00000"/><rect x="0" y="59.372" width="40.60" height="10.195" fill="#e10000"/><rect x="0" y="69.267" width="40.60" height="10.195" fill="#f10000"/><rect x="0" y="79.163" width="40.60" height="10.195" fill="#ff0200"/><rect x="0" y="89.058" width="40.60" height="10.195" fill="#ff1200"/><rect x="0" y="98.953" width="40.60" height="10.195" fill="#ff2200"/><rect x="0" y="108.848" width="40.60" height="10.195" fill="#ff3300"/><rect x="0" y="118.744" width="40.60" height="10.195" fill="#ff4300"/><rect x="0" y="128.639" width="40.60" height="10.195" fill="#ff5300"/><rect x="0" y="138.534" width="40.60" height="10.195" fill="#ff6300"/><rect x="0" y="148.430" width="40.60" height="10.195" fill="#ff7300"/><rect x="0" y="158.325" width="40.60" height="10.195" fill="#ff8400"/><rect x="0" y="168.220" width="40.60" height="10.195" fill="#ff9400"/><rect x="0" y="178.116" width="40.60" height="10.195" fill="#ffa400"/><rect x="0" y="188.011" width="40.60" height="10.195" fill="#ffb400"/><rect x="0" y="197.906" width="40.60" height="10.195" fill="#ffc400"/><rect x="0" y="207.802" width="40.60" height="10.195" fill="#ffd500"/><rect x="0" y="217.697" width="40.60" height="10.195" fill="#ffe500"/><rect x="0" y="227.592" width="40.60" height="10.195" fill="#fff500"/><rect x="0" y="237.488" width="40.60" height="10.195" fill="#f9ff06"/><rect x="0" y="247.383" width="40.60" height="10.195" fill="#e9ff16"/><rect x="0" y="257.278" width="40.60" height="10.195" fill="#d9ff26"/><rect x="0" y="267.173" width="40.60" height="10.195" fill="#c8ff37"/><rect x="0" y="277.069" width="40.60" height="10.195" fill="#b8ff47"/><rect x="0" y="286.964" width="40.60" height="10.195" fill="#a8ff57"/><rect x="0" y="296.859" width="40.60" height="10.195" fill="#98ff67"/><rect x="0" y="306.755" width="40.60" height="10.195" fill="#88ff77"/><rect x="0" y="316.650" width="40.60" height="10.195" fill="#77ff88"/><rect x="0" y="326.545" width="40.60" height="10.195" fill="#67ff98"/><rect x="0" y="336.441" width="40.60" height="10.195" fill="#57ffa8"/><rect x="0" y="346.336" width="40.60" height="10.195" fill="#47ffb8"/><rect x="0" y="356.231" width="40.60" height="10.195" fill="#37ffc8"/><rect x="0" y="366.127" width="40.60" height="10.195" fill="#26ffd9"/><rect x="0" y="376.022" width="40.60" height="10.195" fill="#16ffe9"/><rect x="0" y="385.917" width="40.60" height="10.195" fill="#06fff9"/><rect x="0" y="395.813" width="40.60" height="10.195" fill="#00f5ff"/><rect x="0" y="405.708" width="40.60" height="10.195" fill="#00e5ff"/><rect x="0" y="415.603" width="40.60" height="10.195" fill="#00d4ff"/><rect x="0" y="425.498" width="40.60" height="10.195" fill="#00c4ff"/><rect x="0" y="435.394" width="40.60" height="10.195" fill="#00b4ff"/><rect x="0" y="445.289" width="40.60" height="10.195" fill="#00a4ff"/><rect x="0" y="455.184" width="40.60" height="10.195" fill="#0094ff"/><rect x="0" y="465.080" width="40.60" height="10.195" fill="#0084ff"/><rect x="0" y="474.975" width="40.60" height="10.195" fill="#0073ff"/><rect x="0" y="484.870" width="40.60" height="10.195" fill="#0063ff"/><rect x="0" y="494.766" width="40.60" height="10.195" fill="#0053ff"/><rect x="0" y="504.661" width="40.60" height="10.195" fill="#0043ff"/><rect x="0" y="514.556" width="40.60" height="10.195" fill="#0033ff"/><rect x="0" y="524.452" width="40.60" height="10.195" fill="#0022ff"/><rect x="0" y="534.347" width="40.60" height="10.195" fill="#0012ff"/><rect x="0" y="544.242" width="40.60" height="10.195" fill="#0002ff"/><rect x="0" y="554.138" width="40.60" height="10.195" fill="#0000f1"/><rect x="0" y="564.033" width="40.60" height="10.195" fill="#0000e1"/><rect x="0" y="573.928" width="40.60" height="10.195" fill="#0000d0"/><rect x="0" y="583.823" width="40.60" height="10.195" fill="#0000c0"/><rect x="0" y="593.719" width="40.60" height="10.195" fill="#0000b0"/><rect x="0" y="603.614" width="40.60" height="10.195" fill="#0000a0"/><rect x="0" y="613.509" width="40.60" height="10.195" fill="#000090"/><rect x="0" y="623.405" width="40.60" height="10.195" fill="#000080"/><rect x="34.10" y="62.68" width="6" height="1.3" fill="#222"/><rect x="34.10" y="126.01" width="6" height="1.3" fill="#222"/><rect x="34.10" y="189.34" width="6" height="1.3" fill="#222"/><rect x="34.10" y="252.67" width="6" height="1.3" fill="#222"/><rect x="34.10" y="316.00" width="6" height="1.3" fill="#222"/><rect x="34.10" y="379.33" width="6" height="1.3" fill="#222"/><rect x="34.10" y="442.66" width="6" height="1.3" fill="#222"/><rect x="34.10" y="505.99" width="6" height="1.3" fill="#222"/><rect x="34.10" y="569.32" width="6" height="1.3" fill="#222"/><rect x="0.5" y="0.5" width="39.60" height="632.30" fill="none" stroke="#2a2a2a" stroke-width="1"/></svg>
<div class="cb" style="left:1338.90px;top:788.90px">1</div>
<div class="cb" style="left:1338.90px;top:852.23px">0.8</div>
<div class="cb" style="left:1338.90px;top:915.56px">0.6</div>
<div class="cb" style="left:1338.90px;top:978.89px">0.4</div>
<div class="cb" style="left:1338.90px;top:1042.22px">0.2</div>
<div class="cb" style="left:1338.90px;top:1105.55px">0</div>
<div class="cb" style="left:1338.90px;top:1168.88px">-0.2</div>
<div class="cb" style="left:1338.90px;top:1232.21px">-0.4</div>
<div class="cb" style="left:1338.90px;top:1295.54px">-0.6</div>
<div class="cb" style="left:1338.90px;top:1358.87px">-0.8</div>
<div class="cb" style="left:1338.90px;top:1422.20px">-1</div>
<svg class="hm" style="left:1309.30px;top:1620.20px;width:42.50px;height:644.40px" viewBox="0 0 42.50 644.40" shape-rendering="crispEdges"><rect x="0" y="0.000" width="42.50" height="10.369" fill="#800000"/><rect x="0" y="10.069" width="42.50" height="10.369" fill="#900000"/><rect x="0" y="20.137" width="42.50" height="10.369" fill="#a00000"/><rect x="0" y="30.206" width="42.50" height="10.369" fill="#b00000"/><rect x="0" y="40.275" width="42.50" height="10.369" fill="#c00000"/><rect x="0" y="50.344" width="42.50" height="10.369" fill="#d00000"/><rect x="0" y="60.412" width="42.50" height="10.369" fill="#e10000"/><rect x="0" y="70.481" width="42.50" height="10.369" fill="#f10000"/><rect x="0" y="80.550" width="42.50" height="10.369" fill="#ff0200"/><rect x="0" y="90.619" width="42.50" height="10.369" fill="#ff1200"/><rect x="0" y="100.687" width="42.50" height="10.369" fill="#ff2200"/><rect x="0" y="110.756" width="42.50" height="10.369" fill="#ff3300"/><rect x="0" y="120.825" width="42.50" height="10.369" fill="#ff4300"/><rect x="0" y="130.894" width="42.50" height="10.369" fill="#ff5300"/><rect x="0" y="140.962" width="42.50" height="10.369" fill="#ff6300"/><rect x="0" y="151.031" width="42.50" height="10.369" fill="#ff7300"/><rect x="0" y="161.100" width="42.50" height="10.369" fill="#ff8400"/><rect x="0" y="171.169" width="42.50" height="10.369" fill="#ff9400"/><rect x="0" y="181.237" width="42.50" height="10.369" fill="#ffa400"/><rect x="0" y="191.306" width="42.50" height="10.369" fill="#ffb400"/><rect x="0" y="201.375" width="42.50" height="10.369" fill="#ffc400"/><rect x="0" y="211.444" width="42.50" height="10.369" fill="#ffd500"/><rect x="0" y="221.512" width="42.50" height="10.369" fill="#ffe500"/><rect x="0" y="231.581" width="42.50" height="10.369" fill="#fff500"/><rect x="0" y="241.650" width="42.50" height="10.369" fill="#f9ff06"/><rect x="0" y="251.719" width="42.50" height="10.369" fill="#e9ff16"/><rect x="0" y="261.787" width="42.50" height="10.369" fill="#d9ff26"/><rect x="0" y="271.856" width="42.50" height="10.369" fill="#c8ff37"/><rect x="0" y="281.925" width="42.50" height="10.369" fill="#b8ff47"/><rect x="0" y="291.994" width="42.50" height="10.369" fill="#a8ff57"/><rect x="0" y="302.062" width="42.50" height="10.369" fill="#98ff67"/><rect x="0" y="312.131" width="42.50" height="10.369" fill="#88ff77"/><rect x="0" y="322.200" width="42.50" height="10.369" fill="#77ff88"/><rect x="0" y="332.269" width="42.50" height="10.369" fill="#67ff98"/><rect x="0" y="342.337" width="42.50" height="10.369" fill="#57ffa8"/><rect x="0" y="352.406" width="42.50" height="10.369" fill="#47ffb8"/><rect x="0" y="362.475" width="42.50" height="10.369" fill="#37ffc8"/><rect x="0" y="372.544" width="42.50" height="10.369" fill="#26ffd9"/><rect x="0" y="382.612" width="42.50" height="10.369" fill="#16ffe9"/><rect x="0" y="392.681" width="42.50" height="10.369" fill="#06fff9"/><rect x="0" y="402.750" width="42.50" height="10.369" fill="#00f5ff"/><rect x="0" y="412.819" width="42.50" height="10.369" fill="#00e5ff"/><rect x="0" y="422.887" width="42.50" height="10.369" fill="#00d4ff"/><rect x="0" y="432.956" width="42.50" height="10.369" fill="#00c4ff"/><rect x="0" y="443.025" width="42.50" height="10.369" fill="#00b4ff"/><rect x="0" y="453.094" width="42.50" height="10.369" fill="#00a4ff"/><rect x="0" y="463.162" width="42.50" height="10.369" fill="#0094ff"/><rect x="0" y="473.231" width="42.50" height="10.369" fill="#0084ff"/><rect x="0" y="483.300" width="42.50" height="10.369" fill="#0073ff"/><rect x="0" y="493.369" width="42.50" height="10.369" fill="#0063ff"/><rect x="0" y="503.437" width="42.50" height="10.369" fill="#0053ff"/><rect x="0" y="513.506" width="42.50" height="10.369" fill="#0043ff"/><rect x="0" y="523.575" width="42.50" height="10.369" fill="#0033ff"/><rect x="0" y="533.644" width="42.50" height="10.369" fill="#0022ff"/><rect x="0" y="543.712" width="42.50" height="10.369" fill="#0012ff"/><rect x="0" y="553.781" width="42.50" height="10.369" fill="#0002ff"/><rect x="0" y="563.850" width="42.50" height="10.369" fill="#0000f1"/><rect x="0" y="573.919" width="42.50" height="10.369" fill="#0000e1"/><rect x="0" y="583.987" width="42.50" height="10.369" fill="#0000d0"/><rect x="0" y="594.056" width="42.50" height="10.369" fill="#0000c0"/><rect x="0" y="604.125" width="42.50" height="10.369" fill="#0000b0"/><rect x="0" y="614.194" width="42.50" height="10.369" fill="#0000a0"/><rect x="0" y="624.262" width="42.50" height="10.369" fill="#000090"/><rect x="0" y="634.331" width="42.50" height="10.369" fill="#000080"/><rect x="36.00" y="63.79" width="6" height="1.3" fill="#222"/><rect x="36.00" y="128.23" width="6" height="1.3" fill="#222"/><rect x="36.00" y="192.67" width="6" height="1.3" fill="#222"/><rect x="36.00" y="257.11" width="6" height="1.3" fill="#222"/><rect x="36.00" y="321.55" width="6" height="1.3" fill="#222"/><rect x="36.00" y="385.99" width="6" height="1.3" fill="#222"/><rect x="36.00" y="450.43" width="6" height="1.3" fill="#222"/><rect x="36.00" y="514.87" width="6" height="1.3" fill="#222"/><rect x="36.00" y="579.31" width="6" height="1.3" fill="#222"/><rect x="0.5" y="0.5" width="41.50" height="643.40" fill="none" stroke="#2a2a2a" stroke-width="1"/></svg>
<div class="cb" style="left:1357.80px;top:1613.50px">1</div>
<div class="cb" style="left:1357.80px;top:1677.94px">0.8</div>
<div class="cb" style="left:1357.80px;top:1742.38px">0.6</div>
<div class="cb" style="left:1357.80px;top:1806.82px">0.4</div>
<div class="cb" style="left:1357.80px;top:1871.26px">0.2</div>
<div class="cb" style="left:1357.80px;top:1935.70px">0</div>
<div class="cb" style="left:1357.80px;top:2000.14px">-0.2</div>
<div class="cb" style="left:1357.80px;top:2064.58px">-0.4</div>
<div class="cb" style="left:1357.80px;top:2129.02px">-0.6</div>
<div class="cb" style="left:1357.80px;top:2193.46px">-0.8</div>
<div class="cb" style="left:1357.80px;top:2257.90px">-1</div>
<div class="t big" style="left:649.30px;top:703.60px">(a)</div>
<div class="t big" style="left:656.80px;top:1488.80px">(b)</div>
<div class="t big" style="left:662.70px;top:2324.90px">(c)</div>
</body></html>
